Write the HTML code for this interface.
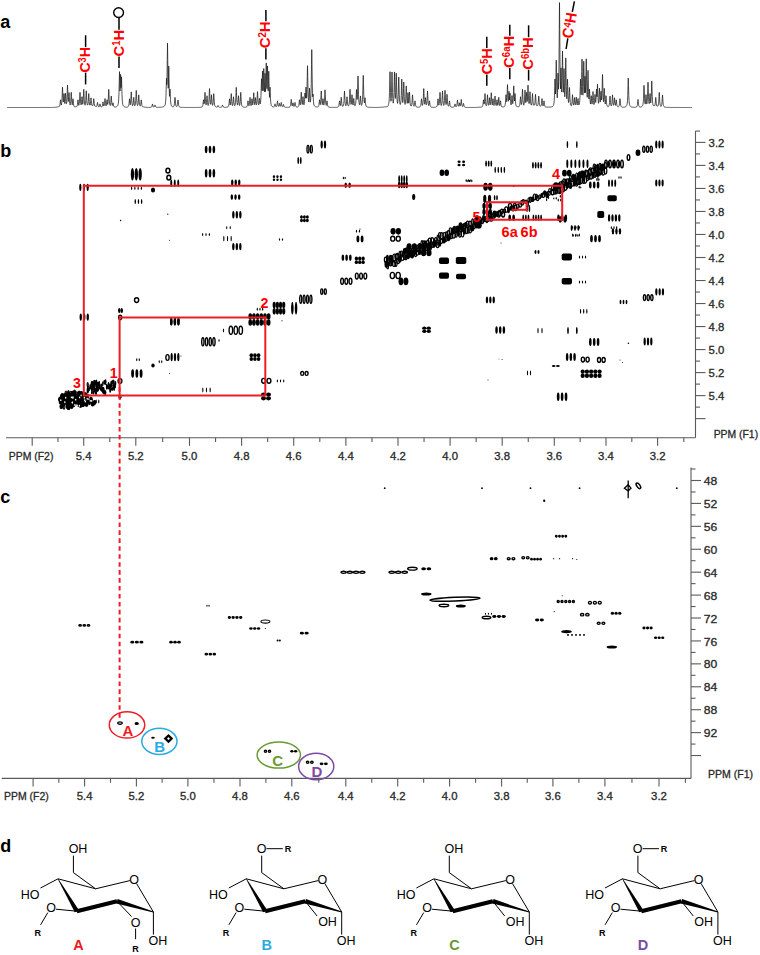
<!DOCTYPE html>
<html><head><meta charset="utf-8"><title>NMR figure</title>
<style>
html,body{margin:0;padding:0;background:#fff;}
body{width:760px;height:955px;overflow:hidden;}
svg{display:block;font-family:"Liberation Sans",sans-serif;}
</style></head>
<body>
<svg width="760" height="955" viewBox="0 0 760 955">
<rect width="760" height="955" fill="#fff"/>
<text x="0.3" y="27.9" font-size="18" font-weight="bold" fill="#000">a</text>
<text x="0.3" y="156.6" font-size="18" font-weight="bold" fill="#000">b</text>
<text x="0.3" y="502.9" font-size="18" font-weight="bold" fill="#000">c</text>
<text x="0.3" y="852.1" font-size="18" font-weight="bold" fill="#000">d</text>
<polyline points="7,107.5 7.25,107.5 7.5,107.5 7.75,107.5 8,107.5 8.25,107.5 8.5,107.5 8.75,107.5 9,107.5 9.25,107.5 9.5,107.5 9.75,107.5 10,107.5 10.25,107.5 10.5,107.5 10.75,107.5 11,107.5 11.25,107.5 11.5,107.5 11.75,107.5 12,107.5 12.25,107.5 12.5,107.5 12.75,107.5 13,107.5 13.25,107.5 13.5,107.5 13.75,107.5 14,107.5 14.25,107.5 14.5,107.5 14.75,107.5 15,107.5 15.25,107.5 15.5,107.5 15.75,107.5 16,107.5 16.25,107.5 16.5,107.5 16.75,107.5 17,107.5 17.25,107.5 17.5,107.5 17.75,107.5 18,107.5 18.25,107.5 18.5,107.5 18.75,107.5 19,107.5 19.25,107.49 19.5,107.49 19.75,107.49 20,107.49 20.25,107.49 20.5,107.49 20.75,107.49 21,107.49 21.25,107.49 21.5,107.49 21.75,107.49 22,107.49 22.25,107.49 22.5,107.49 22.75,107.49 23,107.49 23.25,107.49 23.5,107.49 23.75,107.49 24,107.49 24.25,107.49 24.5,107.49 24.75,107.49 25,107.49 25.25,107.49 25.5,107.49 25.75,107.49 26,107.49 26.25,107.49 26.5,107.49 26.75,107.49 27,107.49 27.25,107.49 27.5,107.49 27.75,107.49 28,107.49 28.25,107.49 28.5,107.49 28.75,107.49 29,107.49 29.25,107.49 29.5,107.49 29.75,107.49 30,107.49 30.25,107.49 30.5,107.49 30.75,107.49 31,107.49 31.25,107.49 31.5,107.49 31.75,107.49 32,107.49 32.25,107.49 32.5,107.49 32.75,107.49 33,107.49 33.25,107.49 33.5,107.49 33.75,107.49 34,107.49 34.25,107.49 34.5,107.49 34.75,107.49 35,107.49 35.25,107.49 35.5,107.49 35.75,107.49 36,107.49 36.25,107.49 36.5,107.49 36.75,107.49 37,107.49 37.25,107.49 37.5,107.49 37.75,107.49 38,107.49 38.25,107.49 38.5,107.49 38.75,107.49 39,107.49 39.25,107.49 39.5,107.49 39.75,107.49 40,107.49 40.25,107.49 40.5,107.49 40.75,107.49 41,107.49 41.25,107.48 41.5,107.48 41.75,107.48 42,107.48 42.25,107.48 42.5,107.48 42.75,107.48 43,107.48 43.25,107.48 43.5,107.48 43.75,107.48 44,107.48 44.25,107.48 44.5,107.48 44.75,107.48 45,107.48 45.25,107.48 45.5,107.48 45.75,107.48 46,107.48 46.25,107.48 46.5,107.48 46.75,107.48 47,107.47 47.25,107.47 47.5,107.47 47.75,107.47 48,107.47 48.25,107.47 48.5,107.47 48.75,107.47 49,107.47 49.25,107.47 49.5,107.47 49.75,107.46 50,107.46 50.25,107.46 50.5,107.46 50.75,107.46 51,107.46 51.25,107.46 51.5,107.45 51.75,107.45 52,107.45 52.25,107.45 52.5,107.44 52.75,107.43 53,107.42 53.25,107.41 53.5,107.4 53.75,107.38 54,107.37 54.25,107.35 54.5,107.33 54.75,107.31 55,107.29 55.25,107.26 55.5,107.24 55.75,107.21 56,107.18 56.25,107.14 56.5,107.1 56.75,107.06 57,107.02 57.25,106.98 57.5,106.93 57.75,106.88 58,106.82 58.25,106.77 58.5,106.71 58.75,106.64 59,106.58 59.25,106.51 59.5,106.27 59.75,105.58 60,104.25 60.25,101.79 60.5,99.8 60.75,101.72 61,104.09 61.25,105.1 61.5,104.22 61.75,102.48 62,98.99 62.25,92.48 62.5,87.22 62.75,92.39 63,98.78 63.25,102.09 63.5,101.29 63.75,97.02 64,93.53 64.25,97.05 64.5,101.36 64.75,103.5 65,101.28 65.25,96.9 65.5,93.34 65.75,96.94 66,101.36 66.25,103.69 66.5,103.7 66.75,101.85 67,98.05 67.25,90.92 67.5,85.15 67.75,90.86 68,97.91 68.25,101.57 68.5,100.85 68.75,96.3 69,92.59 69.25,96.43 69.5,101.16 69.75,103.68 70,104.92 70.25,104.87 70.5,103.61 70.75,101.03 71,96.18 71.25,92.27 71.5,96.19 71.75,101.04 72,103.61 72.25,104.84 72.5,103.65 72.75,100.96 73,98.78 73.25,101.04 73.5,103.82 73.75,105.32 74,106.09 74.25,106.51 74.5,106.66 74.75,106.69 75,106.71 75.25,106.73 75.5,106.74 75.75,106.75 76,106.75 76.25,106.75 76.5,106.75 76.75,106.62 77,106.25 77.25,105.58 77.5,104.25 77.75,101.8 78,99.82 78.25,101.75 78.5,104.14 78.75,105.39 79,104.98 79.25,103.7 79.5,101.1 79.75,96.23 80,92.3 80.25,96.21 80.5,101.06 80.75,103.63 81,104.88 81.25,104.62 81.5,102.83 81.75,99.44 82,96.69 82.25,99.4 82.5,102.74 82.75,104.29 83,102.84 83.25,99.76 83.5,93.96 83.75,89.27 84,93.99 84.25,99.82 84.5,102.95 84.75,104.51 85,105.26 85.25,104.73 85.5,103.31 85.75,100.45 86,95.12 86.25,90.81 86.5,95.13 86.75,100.47 87,103.34 87.25,104.78 87.5,105.01 87.75,105 88,103.99 88.25,101.61 88.5,97.16 88.75,93.57 89,97.17 89.25,101.63 89.5,104.02 89.75,105.09 90,105.12 90.25,105 90.5,103.37 90.75,100.31 91,97.84 91.25,100.34 91.5,103.43 91.75,105.09 92,105.45 92.25,105.5 92.5,105.55 92.75,105.61 93,105.28 93.25,103.77 93.5,100.94 93.75,98.65 94,100.95 94.25,103.79 94.5,105.33 94.75,106.08 95,106.13 95.25,106.19 95.5,106.25 95.75,106.31 96,106.37 96.25,106.42 96.5,106.48 96.75,106.22 97,105.35 97.25,103.73 97.5,102.42 97.75,103.73 98,105.35 98.25,106.22 98.5,106.65 98.75,106.88 99,106.86 99.25,106.56 99.5,105.96 99.75,104.82 100,103.91 100.25,104.83 100.5,105.96 100.75,106.57 101,106.87 101.25,107.03 101.5,106.99 101.75,106.84 102,106.57 102.25,106.08 102.5,105.12 102.75,103.32 103,101.87 103.25,103.29 103.5,105.05 103.75,105.97 104,105.98 104.25,105.24 104.5,103.72 104.75,100.89 105,98.59 105.25,100.87 105.5,103.69 105.75,105.18 106,105.9 106.25,105.44 106.5,104.15 106.75,101.72 107,99.74 107.25,101.66 107.5,104.02 107.75,104.44 108,102.94 108.25,99.84 108.5,94.03 108.75,89.33 109,94.04 109.25,99.88 109.5,103.02 109.75,104.59 110,105.42 110.25,105.5 110.5,104.58 110.75,102.64 111,99.01 111.25,96.08 111.5,99.02 111.75,102.66 112,104.6 112.25,105.55 112.5,105.37 112.75,103.96 113,102.81 113.25,104.01 113.5,105.48 113.75,106.28 114,106.68 114.25,106.85 114.5,106.94 114.75,107.01 115,107.07 115.25,107.04 115.5,107 115.75,106.95 116,106.88 116.25,106.8 116.5,106.7 116.75,106.56 117,106.39 117.25,106.16 117.5,105.84 117.75,105.4 118,104.73 118.25,103.69 118.5,101.94 118.75,98.76 119,92.54 119.25,81.03 119.5,71.64 119.75,80.4 120,91.02 120.25,86 120.5,74.32 120.75,76.17 121,87.69 121.25,83.92 121.5,76.85 121.75,84.92 122,94.71 122.25,100 122.5,102.71 122.75,104.2 123,105.1 123.25,105.67 123.5,106.06 123.75,106.33 124,106.53 124.25,106.68 124.5,106.8 124.75,106.89 125,106.96 125.25,107.02 125.5,107.07 125.75,107.11 126,107.14 126.25,107.16 126.5,107.18 126.75,107.19 127,107.15 127.25,107.1 127.5,107.03 127.75,106.92 128,106.77 128.25,106.52 128.5,106.1 128.75,105.33 129,103.83 129.25,101.05 129.5,98.8 129.75,100.98 130,103.67 130.25,104.79 130.5,103.53 130.75,100.87 131,95.87 131.25,91.83 131.5,95.89 131.75,100.92 132,103.62 132.25,104.97 132.5,105.68 132.75,105.73 133,104.89 133.25,103.16 133.5,99.92 133.75,97.31 134,99.92 134.25,103.16 134.5,104.88 134.75,105.73 135,105.54 135.25,104.76 135.5,103.27 135.75,100.31 136,94.8 136.25,90.36 136.5,94.8 136.75,100.31 137,103.27 137.25,104.75 137.5,105.51 137.75,105.38 138,104.31 138.25,102.16 138.5,98.12 138.75,94.86 139,98.14 139.25,102.2 139.5,104.38 139.75,105.47 140,105.94 140.25,106.01 140.5,105.55 140.75,104.27 141,101.85 141.25,99.9 141.5,101.88 141.75,104.32 142,105.64 142.25,106.31 142.5,106.64 142.75,106.7 143,106.76 143.25,106.82 143.5,106.88 143.75,106.94 144,106.99 144.25,107.04 144.5,107.08 144.75,107.12 145,107.16 145.25,107.2 145.5,107.23 145.75,107.26 146,107.29 146.25,107.31 146.5,107.34 146.75,107.36 147,107.38 147.25,107.39 147.5,107.41 147.75,107.42 148,107.43 148.25,107.43 148.5,107.43 148.75,107.42 149,107.42 149.25,107.41 149.5,107.4 149.75,107.39 150,107.37 150.25,107.35 150.5,107.32 150.75,107.28 151,107.21 151.25,107.11 151.5,106.94 151.75,106.63 152,106.01 152.25,104.88 152.5,103.96 152.75,104.87 153,106 153.25,106.61 153.5,106.91 153.75,107.07 154,107.05 154.25,106.84 154.5,106.41 154.75,105.6 155,104.95 155.25,105.6 155.5,106.42 155.75,106.86 156,107.08 156.25,107.2 156.5,107.27 156.75,107.31 157,107.34 157.25,107.35 157.5,107.34 157.75,107.34 158,107.33 158.25,107.33 158.5,107.32 158.75,107.31 159,107.3 159.25,107.29 159.5,107.28 159.75,107.27 160,107.25 160.25,107.24 160.5,107.22 160.75,107.2 161,107.18 161.25,107.15 161.5,107.12 161.75,107.09 162,107.06 162.25,107.01 162.5,106.97 162.75,106.91 163,106.84 163.25,106.76 163.5,106.67 163.75,106.56 164,106.42 164.25,106.25 164.5,106.03 164.75,105.69 165,105.14 165.25,104.27 165.5,102.84 165.75,100.27 166,95.26 166.25,86.02 166.5,78.33 166.75,84.63 167,79.34 167.25,59.49 167.5,43.19 167.75,59.56 168,79.58 168.25,88.31 168.5,76.17 168.75,66.12 169,76.75 169.25,89.7 169.5,96.37 169.75,93.27 170,89.05 170.25,93.85 170.5,99.68 170.75,102.85 171,104.48 171.25,105.38 171.5,105.92 171.75,106.28 172,106.51 172.25,106.68 172.5,106.79 172.75,106.86 173,106.88 173.25,106.78 173.5,106.61 173.75,106.34 174,105.86 174.25,104.98 174.5,103.24 174.75,100 175,97.39 175.25,100 175.5,103.25 175.75,105 176,105.88 176.25,106.36 176.5,106.63 176.75,106.6 177,106.25 177.25,105.6 177.5,104.3 177.75,101.88 178,99.92 178.25,101.89 178.5,104.33 178.75,105.65 179,106.32 179.25,106.68 179.5,106.9 179.75,107.04 180,107.14 180.25,107.2 180.5,107.25 180.75,107.29 181,107.32 181.25,107.34 181.5,107.36 181.75,107.37 182,107.38 182.25,107.39 182.5,107.4 182.75,107.41 183,107.42 183.25,107.42 183.5,107.43 183.75,107.43 184,107.43 184.25,107.43 184.5,107.44 184.75,107.44 185,107.44 185.25,107.44 185.5,107.44 185.75,107.44 186,107.44 186.25,107.45 186.5,107.45 186.75,107.45 187,107.45 187.25,107.45 187.5,107.45 187.75,107.45 188,107.45 188.25,107.45 188.5,107.45 188.75,107.46 189,107.46 189.25,107.46 189.5,107.46 189.75,107.46 190,107.46 190.25,107.46 190.5,107.46 190.75,107.46 191,107.46 191.25,107.46 191.5,107.46 191.75,107.46 192,107.46 192.25,107.46 192.5,107.46 192.75,107.46 193,107.46 193.25,107.46 193.5,107.46 193.75,107.46 194,107.46 194.25,107.46 194.5,107.45 194.75,107.45 195,107.45 195.25,107.45 195.5,107.45 195.75,107.45 196,107.44 196.25,107.44 196.5,107.44 196.75,107.44 197,107.43 197.25,107.43 197.5,107.43 197.75,107.42 198,107.42 198.25,107.41 198.5,107.41 198.75,107.4 199,107.39 199.25,107.38 199.5,107.37 199.75,107.36 200,107.35 200.25,107.33 200.5,107.31 200.75,107.28 201,107.24 201.25,107.19 201.5,107.12 201.75,107.02 202,106.87 202.25,106.65 202.5,106.27 202.75,105.59 203,104.25 203.25,101.79 203.5,99.78 203.75,101.67 204,103.99 204.25,103.57 204.5,101.04 204.75,96.21 205,92.3 205.25,96.22 205.5,101.06 205.75,103.64 206,104.89 206.25,104.42 206.5,102.47 206.75,98.77 207,95.78 207.25,98.79 207.5,102.51 207.75,104.49 208,105.47 208.25,105.32 208.5,104.46 208.75,102.82 209,99.56 209.25,93.48 209.5,88.57 209.75,93.46 210,99.51 210.25,102.74 210.5,104.32 210.75,104.14 211,102.03 211.25,98.02 211.5,94.77 211.75,98.05 212,102.1 212.25,104.27 212.5,105.33 212.75,105.17 213,104.01 213.25,101.64 213.5,97.21 213.75,93.63 214,97.24 214.25,101.72 214.5,104.13 214.75,105.36 215,106.03 215.25,106.43 215.5,106.68 215.75,106.85 216,106.97 216.25,107.06 216.5,107.12 216.75,107.16 217,107.12 217.25,106.95 217.5,106.6 217.75,105.96 218,105.44 218.25,105.96 218.5,106.62 218.75,106.97 219,107.15 219.25,107.24 219.5,107.3 219.75,107.34 220,107.36 220.25,107.36 220.5,107.34 220.75,107.32 221,107.27 221.25,107.2 221.5,107.08 221.75,106.86 222,106.42 222.25,105.61 222.5,104.96 222.75,105.61 223,106.42 223.25,106.86 223.5,107.08 223.75,107.2 224,107.27 224.25,107.32 224.5,107.35 224.75,107.36 225,107.37 225.25,107.37 225.5,107.36 225.75,107.34 226,107.33 226.25,107.31 226.5,107.28 226.75,107.25 227,107.21 227.25,107.15 227.5,107.07 227.75,106.97 228,106.8 228.25,106.55 228.5,106.13 228.75,105.37 229,103.86 229.25,101.08 229.5,98.83 229.75,101.01 230,103.71 230.25,105.07 230.5,103.95 230.75,101.6 231,97.16 231.25,93.58 231.5,97.17 231.75,101.63 232,104.01 232.25,105.18 232.5,105.62 232.75,104.74 233,102.94 233.25,99.55 233.5,96.81 233.75,99.55 234,102.95 234.25,104.77 234.5,105.67 234.75,105.79 235,105.27 235.25,104.32 235.5,102.56 235.75,99.07 236,92.58 236.25,87.34 236.5,92.57 236.75,99.04 237,102.51 237.25,104.24 237.5,105.12 237.75,104.44 238,102.48 238.25,98.77 238.5,95.78 238.75,98.78 239,102.51 239.25,104.49 239.5,105.45 239.75,104.99 240,103.71 240.25,101.12 240.5,96.28 240.75,92.37 241,96.31 241.25,101.19 241.5,103.82 241.75,105.16 242,105.89 242.25,106.33 242.5,106.6 242.75,106.79 243,106.92 243.25,107.01 243.5,107.08 243.75,107.13 244,107.18 244.25,107.21 244.5,107.23 244.75,107.24 245,107.23 245.25,107.21 245.5,107.19 245.75,107.16 246,107.13 246.25,107.05 246.5,106.93 246.75,106.74 247,106.42 247.25,105.84 247.5,104.69 247.75,102.57 248,100.85 248.25,102.53 248.5,104.61 248.75,105.7 249,105.75 249.25,104.9 249.5,103.17 249.75,99.93 250,97.31 250.25,99.91 250.5,103.13 250.75,104.84 251,105.66 251.25,105.16 251.5,103.7 251.75,100.95 252,98.71 252.25,100.9 252.5,103.6 252.75,104.86 253,103.68 253.25,101.2 253.5,96.51 253.75,92.72 254,96.5 254.25,101.17 254.5,103.64 254.75,104.71 255,103.14 255.25,100.11 255.5,97.64 255.75,100.12 256,103.17 256.25,104.77 256.5,104.74 256.75,103.43 257,100.75 257.25,95.73 257.5,91.67 257.75,95.72 258,100.72 258.25,103.38 258.5,104.68 258.75,104.91 259,103.45 259.25,100.69 259.5,98.44 259.75,100.6 260,103.27 260.25,103.95 260.5,102.67 260.75,100.21 261,95.31 261.25,86.22 261.5,78.74 261.75,85.41 262,90.7 262.25,79.94 262.5,70.95 262.75,80 263,90.92 263.25,89.97 263.5,78.19 263.75,68.49 264,78.18 264.25,89.97 264.5,91.84 264.75,81.69 265,73.29 265.25,81.62 265.5,91.66 265.75,87.69 266,74.1 266.25,62.93 266.5,74.03 266.75,87.53 267,88.67 267.25,76.21 267.5,65.94 267.75,76.36 268,89 268.25,90.96 268.5,80.15 268.75,71.25 269,80.48 269.25,91.73 269.5,97.44 269.75,91.9 270,87.11 270.25,92.4 270.5,98.87 270.75,102.37 271,104.17 271.25,105.17 271.5,105.77 271.75,106.15 272,106.42 272.25,106.6 272.5,106.74 272.75,106.84 273,106.92 273.25,106.98 273.5,107.02 273.75,106.96 274,106.8 274.25,106.49 274.5,105.89 274.75,104.76 275,103.84 275.25,104.76 275.5,105.89 275.75,106.5 276,106.79 276.25,106.68 276.5,106.38 276.75,105.81 277,104.68 277.25,102.57 277.5,100.87 277.75,102.57 278,104.67 278.25,105.79 278.5,106.34 278.75,106.35 279,105.68 279.25,104.39 279.5,103.35 279.75,104.39 280,105.68 280.25,106.34 280.5,106.13 280.75,105.29 281,103.68 281.25,102.39 281.5,103.7 281.75,105.33 282,106.2 282.25,106.63 282.5,106.86 282.75,106.66 283,106.16 283.25,105.19 283.5,104.42 283.75,105.21 284,106.19 284.25,106.71 284.5,106.98 284.75,107.13 285,107.22 285.25,107.27 285.5,107.31 285.75,107.34 286,107.36 286.25,107.37 286.5,107.38 286.75,107.37 287,107.37 287.25,107.36 287.5,107.35 287.75,107.33 288,107.31 288.25,107.29 288.5,107.26 288.75,107.22 289,107.17 289.25,107.1 289.5,107.01 289.75,106.86 290,106.63 290.25,106.23 290.5,105.52 290.75,104.11 291,101.51 291.25,99.41 291.5,101.49 291.75,104.06 292,105.43 292.25,106.07 292.5,105.45 292.75,104.01 293,102.85 293.25,104.03 293.5,105.49 293.75,106.26 294,106.56 294.25,106.16 294.5,105.3 294.75,103.69 295,102.39 295.25,103.7 295.5,105.33 295.75,106.2 296,106.65 296.25,106.89 296.5,107.03 296.75,107.11 297,107.16 297.25,107.12 297.5,107.06 297.75,106.97 298,106.83 298.25,106.6 298.5,106.23 298.75,105.55 299,104.22 299.25,101.76 299.5,99.77 299.75,101.68 300,104.05 300.25,104.85 300.5,103.61 300.75,101.02 301,96.16 301.25,92.23 301.5,96.13 301.75,100.95 302,103.5 302.25,104.46 302.5,102.71 302.75,99.35 303,96.61 303.25,99.34 303.5,102.71 303.75,104.47 304,104.86 304.25,103.68 304.5,101.25 304.75,96.71 305,92.96 305.25,96.27 305.5,98.15 305.75,92.11 306,87.08 306.25,92.1 306.5,98.18 306.75,96.65 307,89.7 307.25,76.45 307.5,65.72 307.75,76.53 308,89.91 308.25,97.06 308.5,100.59 308.75,102.08 309,98.96 309.25,92.95 309.5,88.08 309.75,92.96 310,98.99 310.25,102.14 310.5,101 310.75,98.36 311,93.34 311.25,83.32 311.5,64.66 311.75,49.6 312,64.58 312.25,83.1 312.5,92.85 312.75,96.84 313,94 313.25,97.52 313.5,101.75 313.75,104.04 314,105.18 314.25,105.63 314.5,105.96 314.75,106.2 315,106.38 315.25,106.53 315.5,106.64 315.75,106.74 316,106.81 316.25,106.88 316.5,106.93 316.75,106.97 317,107 317.25,107.03 317.5,107.03 317.75,106.94 318,106.81 318.25,106.59 318.5,106.22 318.75,105.54 319,104.21 319.25,101.76 319.5,99.77 319.75,101.68 320,104.04 320.25,104.68 320.5,103.34 320.75,100.54 321,95.28 321.25,91.03 321.5,95.27 321.75,100.51 322,103.3 322.25,104.62 322.5,103.59 322.75,100.89 323,98.69 323.25,100.91 323.5,103.65 323.75,105.07 324,104.56 324.25,103.08 324.5,100.06 324.75,94.4 325,89.83 325.25,94.42 325.5,100.09 325.75,103.14 326,104.65 326.25,105.42 326.5,104.55 326.75,102.49 327,100.83 327.25,102.55 327.5,104.68 327.75,105.84 328,106.42 328.25,106.75 328.5,106.94 328.75,107.07 329,107.15 329.25,107.21 329.5,107.26 329.75,107.29 330,107.31 330.25,107.33 330.5,107.34 330.75,107.35 331,107.36 331.25,107.37 331.5,107.38 331.75,107.39 332,107.39 332.25,107.4 332.5,107.4 332.75,107.4 333,107.41 333.25,107.41 333.5,107.41 333.75,107.41 334,107.42 334.25,107.41 334.5,107.41 334.75,107.4 335,107.4 335.25,107.39 335.5,107.38 335.75,107.37 336,107.36 336.25,107.34 336.5,107.32 336.75,107.3 337,107.27 337.25,107.22 337.5,107.16 337.75,107.08 338,106.96 338.25,106.77 338.5,106.44 338.75,105.86 339,104.71 339.25,102.59 339.5,100.86 339.75,102.54 340,104.6 340.25,105.66 340.5,104.9 340.75,103.19 341,99.97 341.25,97.36 341.5,99.98 341.75,103.23 342,104.97 342.25,105.85 342.5,106.31 342.75,106.44 343,106.17 343.25,105.72 343.5,104.94 343.75,103.5 344,100.66 344.25,95.38 344.5,91.13 344.75,95.37 345,100.63 345.25,103.46 345.5,104.87 345.75,105.61 346,105.66 346.25,104.77 346.5,102.96 346.75,99.56 347,96.82 347.25,99.57 347.5,102.97 347.75,104.8 348,105.71 348.25,105.89 348.5,105.85 348.75,105.48 349,104.62 349.25,103.03 349.5,99.88 349.75,94.03 350,89.31 350.25,94 350.5,99.81 350.75,102.9 351,104.4 351.25,104.12 351.5,102 351.75,97.98 352,94.72 352.25,97.99 352.5,102.02 352.75,104.15 353,104.96 353.25,103.52 353.5,100.73 353.75,98.47 354,100.76 354.25,103.6 354.5,105.11 354.75,105.72 355,105.76 355.25,105.43 355.5,104.58 355.75,103.02 356,99.93 356.25,94.2 356.5,89.54 356.75,93.99 357,99.44 357.25,99.3 357.5,94.06 357.75,84.04 358,75.93 358.25,84.14 358.5,94.3 358.75,99.77 359,102.53 359.25,104 359.5,104.82 359.75,104.41 360,102.49 360.25,98.87 360.5,95.94 360.75,98.89 361,102.53 361.25,104.47 361.5,105.37 361.75,104.88 362,104.01 362.25,102.49 362.5,99.67 362.75,94.08 363,83.7 363.25,75.32 363.5,83.68 363.75,94.03 364,99.57 364.25,102.29 364.5,103.02 364.75,100.07 365,97.68 365.25,100.23 365.5,103.35 365.75,105.05 366,105.92 366.25,106.4 366.5,106.69 366.75,106.87 367,107 367.25,107.06 367.5,107.11 367.75,107.15 368,107.19 368.25,107.22 368.5,107.24 368.75,107.26 369,107.28 369.25,107.3 369.5,107.31 369.75,107.32 370,107.33 370.25,107.34 370.5,107.35 370.75,107.36 371,107.37 371.25,107.37 371.5,107.38 371.75,107.39 372,107.39 372.25,107.4 372.5,107.4 372.75,107.4 373,107.41 373.25,107.41 373.5,107.41 373.75,107.42 374,107.42 374.25,107.42 374.5,107.42 374.75,107.42 375,107.43 375.25,107.43 375.5,107.43 375.75,107.43 376,107.43 376.25,107.43 376.5,107.43 376.75,107.43 377,107.42 377.25,107.42 377.5,107.41 377.75,107.4 378,107.4 378.25,107.39 378.5,107.38 378.75,107.37 379,107.36 379.25,107.35 379.5,107.34 379.75,107.33 380,107.31 380.25,107.3 380.5,107.29 380.75,107.27 381,107.26 381.25,107.24 381.5,107.22 381.75,107.2 382,107.18 382.25,107.16 382.5,107.14 382.75,107.12 383,107.1 383.25,107.07 383.5,107.05 383.75,107.02 384,106.99 384.25,106.96 384.5,106.93 384.75,106.9 385,106.87 385.25,106.84 385.5,106.8 385.75,106.77 386,106.73 386.25,106.69 386.5,106.65 386.75,106.61 387,106.57 387.25,106.53 387.5,106.42 387.75,106.19 388,105.88 388.25,105.44 388.5,104.77 388.75,103.74 389,102 389.25,98.82 389.5,92.58 389.75,81.02 390,71.68 390.25,80.89 390.5,92.31 390.75,98.36 391,101.24 391.25,98.44 391.5,92.45 391.75,81.16 392,72.04 392.25,81.2 392.5,92.54 392.75,98.61 393,101.63 393.25,103.17 393.5,101.62 393.75,98.59 394,92.5 394.25,81.14 394.5,71.95 394.75,81.04 395,92.27 395.25,98.15 395.5,98.43 395.75,92.77 396,81.96 396.25,73.21 396.5,82.08 396.75,93.04 397,98.93 397.25,101.86 397.5,103.39 397.75,102.41 398,99.85 398.25,94.66 398.5,84.96 398.75,77.14 399,85 399.25,94.74 399.5,99.98 399.75,102.62 400,104.03 400.25,104.5 400.5,104.22 400.75,102.91 401,100.45 401.25,95.57 401.5,86.47 401.75,79.13 402,86.43 402.25,95.46 402.5,100.25 402.75,102.56 403,100.92 403.25,96.67 403.5,88.62 403.75,82.12 404,88.67 404.25,96.79 404.5,101.14 404.75,103.31 405,104.44 405.25,103.84 405.5,102.02 405.75,98.34 406,91.46 406.25,85.9 406.5,91.43 406.75,98.28 407,101.89 407.25,103.35 407.5,100.96 407.75,96.32 408,92.55 408.25,96.32 408.5,100.95 408.75,103.21 409,100.79 409.25,96.04 409.5,92.18 409.75,96.15 410,101.04 410.25,103.68 410.5,105.01 410.75,105.73 411,106.14 411.25,105.99 411.5,105.41 411.75,104.33 412,102.16 412.25,98.11 412.5,94.85 412.75,98.12 413,102.18 413.25,104.36 413.5,105.46 413.75,106.04 414,106.3 414.25,105.76 414.5,104.65 414.75,102.56 415,100.87 415.25,102.59 415.5,104.7 415.75,105.85 416,106.43 416.25,106.75 416.5,106.94 416.75,107.06 417,107.09 417.25,107.11 417.5,107.13 417.75,107.14 418,107.16 418.25,107.17 418.5,107.18 418.75,107.18 419,107.18 419.25,107.13 419.5,107.05 419.75,106.95 420,106.79 420.25,106.54 420.5,106.12 420.75,105.36 421,103.86 421.25,101.08 421.5,98.84 421.75,101.04 422,103.76 422.25,105.19 422.5,105.33 422.75,104.47 423,102.84 423.25,99.57 423.5,93.48 423.75,88.56 424,93.45 424.25,99.49 424.5,102.7 424.75,104.24 425,103.16 425.25,100.15 425.5,97.69 425.75,100.18 426,103.25 426.25,104.85 426.5,104.73 426.75,103.36 427,100.57 427.25,95.32 427.5,91.08 427.75,95.34 428,100.61 428.25,103.43 428.5,104.84 428.75,105.54 429,104.56 429.25,102.5 429.5,100.83 429.75,102.56 430,104.69 430.25,105.84 430.5,106.42 430.75,106.75 431,106.94 431.25,107.06 431.5,107.15 431.75,107.21 432,107.25 432.25,107.28 432.5,107.31 432.75,107.33 433,107.34 433.25,107.35 433.5,107.35 433.75,107.35 434,107.34 434.25,107.33 434.5,107.31 434.75,107.3 435,107.27 435.25,107.24 435.5,107.2 435.75,107.14 436,107.07 436.25,106.96 436.5,106.8 436.75,106.55 437,106.13 437.25,105.37 437.5,103.87 437.75,101.09 438,98.85 438.25,101.04 438.5,103.75 438.75,105.17 439,104.98 439.25,103.71 439.5,101.11 439.75,96.25 440,92.33 440.25,96.25 440.5,101.1 440.75,103.7 441,104.99 441.25,105.54 441.5,104.81 441.75,103.41 442,100.58 442.25,95.32 442.5,91.07 442.75,95.31 443,100.57 443.25,103.39 443.5,104.79 443.75,105.44 444,104.68 444.25,103.21 444.5,100.26 444.75,94.75 445,90.3 445.25,94.74 445.5,100.23 445.75,103.16 446,104.58 446.25,104.06 446.5,101.86 446.75,97.69 447,94.32 447.25,97.73 447.5,101.97 447.75,104.24 448,105.39 448.25,106 448.5,106.31 448.75,105.77 449,104.66 449.25,102.57 449.5,100.89 449.75,102.6 450,104.72 450.25,105.86 450.5,106.45 450.75,106.77 451,106.96 451.25,107.04 451.5,107.08 451.75,107.12 452,107.16 452.25,107.2 452.5,107.23 452.75,107.26 453,107.29 453.25,107.25 453.5,107.18 453.75,107.08 454,106.91 454.25,106.6 454.5,105.98 454.75,104.84 455,103.92 455.25,104.83 455.5,105.96 455.75,106.56 456,106.83 456.25,106.64 456.5,106.29 456.75,105.63 457,104.32 457.25,101.88 457.5,99.92 457.75,101.87 458,104.29 458.25,105.58 458.5,106.21 458.75,106.25 459,105.48 459.25,104.03 459.5,102.86 459.75,104.02 460,105.45 460.25,106.08 460.5,105.43 460.75,104.07 461,101.49 461.25,99.41 461.5,101.51 461.75,104.1 462,105.5 462.25,106.2 462.5,106.56 462.75,106.42 463,105.74 463.25,104.46 463.5,103.43 463.75,104.48 464,105.79 464.25,106.49 464.5,106.85 464.75,107.05 465,107.17 465.25,107.24 465.5,107.29 465.75,107.33 466,107.36 466.25,107.38 466.5,107.39 466.75,107.4 467,107.41 467.25,107.42 467.5,107.43 467.75,107.43 468,107.44 468.25,107.44 468.5,107.45 468.75,107.45 469,107.45 469.25,107.45 469.5,107.45 469.75,107.46 470,107.46 470.25,107.46 470.5,107.46 470.75,107.46 471,107.46 471.25,107.46 471.5,107.46 471.75,107.46 472,107.46 472.25,107.46 472.5,107.46 472.75,107.46 473,107.46 473.25,107.46 473.5,107.46 473.75,107.46 474,107.46 474.25,107.45 474.5,107.45 474.75,107.45 475,107.44 475.25,107.44 475.5,107.43 475.75,107.42 476,107.42 476.25,107.41 476.5,107.4 476.75,107.39 477,107.38 477.25,107.36 477.5,107.35 477.75,107.34 478,107.32 478.25,107.31 478.5,107.29 478.75,107.27 479,107.25 479.25,107.23 479.5,107.21 479.75,107.19 480,107.16 480.25,107.14 480.5,107.11 480.75,107.08 481,107.05 481.25,107.02 481.5,106.99 481.75,106.95 482,106.88 482.25,106.65 482.5,106.27 482.75,105.59 483,104.26 483.25,101.8 483.5,99.79 483.75,101.69 484,104.02 484.25,103.88 484.5,101.56 484.75,97.15 485,93.57 485.25,97.17 485.5,101.63 485.75,104.02 486,105.21 486.25,105.82 486.5,105.38 486.75,104.3 487,102.13 487.25,98.08 487.5,94.81 487.75,98.07 488,102.1 488.25,104.25 488.5,105.28 488.75,104.91 489,103.28 489.25,100.22 489.5,97.73 489.75,100.19 490,103.22 490.25,104.78 490.5,103.69 490.75,101.22 491,96.55 491.25,92.76 491.5,96.55 491.75,101.23 492,103.71 492.25,104.89 492.5,103.63 492.75,100.92 493,98.73 493.25,100.96 493.5,103.7 493.75,105.16 494,105.49 494.25,104.55 494.5,102.62 494.75,98.99 495,96.05 495.25,98.99 495.5,102.63 495.75,104.57 496,105.52 496.25,105.41 496.5,104.14 496.75,101.72 497,99.77 497.25,101.71 497.5,104.12 497.75,105.36 498,104.82 498.25,103.13 498.5,99.91 498.75,97.3 499,99.92 499.25,103.15 499.5,104.86 499.75,105.62 500,104.56 500.25,102.5 500.5,100.82 500.75,102.54 501,104.67 501.25,105.81 501.5,106.4 501.75,106.71 502,106.82 502.25,106.83 502.5,106.85 502.75,106.85 503,106.86 503.25,106.85 503.5,106.84 503.75,106.83 504,106.81 504.25,106.67 504.5,106.43 504.75,106.06 505,105.43 505.25,104.3 505.5,102.07 505.75,97.97 506,94.63 506.25,97.79 506.5,101.67 506.75,101.5 507,97.71 507.25,90.45 507.5,84.57 507.75,90.41 508,97.6 508.25,101.32 508.5,100.29 508.75,95.37 509,91.31 509.25,95.24 509.5,99.94 509.75,96.52 510,93.13 510.25,96.83 510.5,101.33 510.75,103.73 511,104.89 511.25,104.27 511.5,102.31 511.75,98.6 512,95.58 512.25,98.55 512.5,102.21 512.75,103.69 513,101.95 513.25,98.3 513.5,91.42 513.75,85.84 514,91.33 514.25,98.07 514.5,101.01 514.75,96.92 515,93.55 515.25,97.18 515.5,101.63 515.75,104.03 516,105.26 516.25,105.94 516.5,106.34 516.75,106.47 517,106.52 517.25,106.56 517.5,106.6 517.75,106.63 518,106.65 518.25,106.67 518.5,106.68 518.75,106.69 519,106.58 519.25,106.28 519.5,105.77 519.75,104.82 520,102.98 520.25,99.55 520.5,96.78 520.75,99.49 521,102.85 521.25,104.6 521.5,104.44 521.75,102.91 522,99.8 522.25,93.97 522.5,89.26 522.75,93.97 523,99.79 523.25,102.91 523.5,104.46 523.75,105.25 524,104.58 524.25,103.1 524.5,100.14 524.75,94.61 525,90.13 525.25,94.51 525.5,99.92 525.75,102.69 526,100.86 526.25,96.24 526.5,92.46 526.75,96.2 527,100.77 527.25,101.51 527.5,97.86 527.75,90.82 528,85.12 528.25,90.89 528.5,98.02 528.75,101.82 529,103.68 529.25,103.3 529.5,100.69 529.75,95.72 530,91.7 530.25,95.77 530.5,100.81 530.75,103.52 531,104.87 531.25,105.01 531.5,105.01 531.75,103.96 532,101.58 532.25,97.14 532.5,93.55 532.75,97.16 533,101.63 533.25,104.03 533.5,105.05 533.75,105.06 534,105.08 534.25,105.1 534.5,105.13 534.75,104.23 535,101.96 535.25,97.75 535.5,94.36 535.75,97.76 536,101.98 536.25,104.25 536.5,105.39 536.75,105.43 537,105.47 537.25,105.51 537.5,105.55 537.75,105.6 538,104.67 538.25,102.71 538.5,99.07 538.75,96.13 539,99.07 539.25,102.72 539.5,104.69 539.75,105.68 540,106.03 540.25,106.08 540.5,106.12 540.75,106.17 541,106.04 541.25,105.27 541.5,103.74 541.75,100.9 542,98.61 542.25,100.89 542.5,103.72 542.75,105.22 543,105.95 543.25,105.73 543.5,104.63 543.75,102.54 544,100.86 544.25,102.57 544.5,104.69 544.75,105.83 545,106.41 545.25,106.73 545.5,106.92 545.75,106.95 546,106.98 546.25,107 546.5,107.02 546.75,107.04 547,107.06 547.25,107.08 547.5,107.09 547.75,107.1 548,107.11 548.25,107.11 548.5,107.12 548.75,107.12 549,107.11 549.25,107.11 549.5,107.09 549.75,107.08 550,107.06 550.25,107.04 550.5,107.02 550.75,106.99 551,106.95 551.25,106.91 551.5,106.87 551.75,106.81 552,106.76 552.25,106.65 552.5,106.5 552.75,106.31 553,106.05 553.25,105.68 553.5,105.14 553.75,104.3 554,102.91 554.25,100.39 554.5,95.47 554.75,86.38 555,78.96 555.25,85.78 555.5,94.04 555.75,86.9 556,72.17 556.25,60.16 556.5,72.24 556.75,87.12 557,94.94 557.25,97.84 557.5,92.36 557.75,81.82 558,73.14 558.25,81.26 558.5,89.29 558.75,80.93 559,63.18 559.25,29.67 559.5,2.55 559.75,29.6 560,63.04 560.25,80.68 560.5,88.87 560.75,77.39 561,67.88 561.25,77.73 561.5,89.68 561.75,92.06 562,82.98 562.25,65.39 562.5,51.1 562.75,65.46 563,83.12 563.25,92.29 563.5,90.02 563.75,78.23 564,68.59 564.25,78.44 564.5,90.52 564.75,96.8 565,94.42 565.25,86.19 565.5,70.53 565.75,57.85 566,70.62 566.25,86.4 566.5,94.77 566.75,98.77 567,94.96 567.25,86.25 567.5,79.19 567.75,86.46 568,95.41 568.25,100.19 568.5,102.54 568.75,102.06 569,98.79 569.25,92.55 569.5,87.52 569.75,92.66 570,99.02 570.25,102.45 570.5,104.19 570.75,105.13 571,105.67 571.25,105.81 571.5,105.24 571.75,104.16 572,101.99 572.25,97.94 572.5,94.67 572.75,97.93 573,101.97 573.25,104.12 573.5,105.16 573.75,104.79 574,103.17 574.25,100.11 574.5,97.63 574.75,100.1 575,103.15 575.25,104.74 575.5,104.63 575.75,102.94 576,99.72 576.25,97.11 576.5,99.72 576.75,102.93 577,104.62 577.25,104.93 577.5,103.51 577.75,100.77 578,98.54 578.25,100.75 578.5,103.47 578.75,104.9 579,104.94 579.25,104.18 579.5,102.85 579.75,100.38 580,95.51 580.25,86.49 580.5,79.15 580.75,86.12 581,94.68 581.25,94.76 581.5,86.76 581.75,71.47 582,59.06 582.25,71.41 582.5,86.66 582.75,94.64 583,95.14 583.25,87.56 583.5,73.06 583.75,61.26 584,72.86 584.25,87.08 584.5,92.89 584.75,83.8 585,76.22 585.25,83.79 585.5,92.84 585.75,86.1 586,71.09 586.25,58.86 586.5,71.34 586.75,86.71 587,94.82 587.25,97.29 587.5,91.31 587.75,79.75 588,70.37 588.25,79.88 588.5,91.59 588.75,97.75 589,99 589.25,93.6 589.5,89.18 589.75,93.85 590,99.56 590.25,102.59 590.5,103.98 590.75,102.15 591,98.58 591.25,95.68 591.5,98.62 591.75,102.24 592,104.12 592.25,103.21 592.5,100.58 592.75,95.6 593,91.56 593.25,95.62 593.5,100.63 593.75,103.29 594,104.57 594.25,103.94 594.5,101.79 594.75,97.74 595,94.44 595.25,97.63 595.5,101.55 595.75,102.46 596,99.51 596.25,93.82 596.5,89.13 596.75,93.43 597,96.78 597.25,89.93 597.5,84.26 597.75,90.24 598,97.57 598.25,101.47 598.5,103.35 598.75,102.33 599,99.14 599.25,93.09 599.5,88.18 599.75,93.04 600,99.02 600.25,102.08 600.5,100.25 600.75,95.3 601,91.24 601.25,95.21 601.5,100.04 601.75,98.88 602,93.41 602.25,82.96 602.5,74.5 602.75,83 603,93.51 603.25,99.08 603.5,101.73 603.75,99.03 604,93.08 604.25,88.25 604.5,93.19 604.75,99.28 605,102.51 605.25,104.05 605.5,102.25 605.75,98.61 606,95.67 606.25,98.72 606.5,102.49 606.75,104.52 607,105.56 607.25,106.12 607.5,106.46 607.75,106.58 608,106.58 608.25,106.58 608.5,106.5 608.75,106.19 609,105.65 609.25,104.66 609.5,102.69 609.75,99.03 610,96.09 610.25,99.02 610.5,102.66 610.75,104.61 611,105.57 611.25,105.96 611.5,105.4 611.75,104.31 612,102.14 612.25,98.09 612.5,94.82 612.75,98.08 613,102.12 613.25,104.26 613.5,105.31 613.75,104.93 614,103.32 614.25,100.26 614.5,97.79 614.75,100.27 615,103.34 615.25,104.96 615.5,105.4 615.75,104.16 616,101.77 616.25,99.83 616.5,101.82 616.75,104.26 617,105.58 617.25,106.25 617.5,106.62 617.75,106.83 618,106.96 618.25,106.91 618.5,106.76 618.75,106.52 619,106.1 619.25,105.33 619.5,103.8 619.75,100.97 620,98.68 620.25,100.97 620.5,103.81 620.75,105.35 621,106.13 621.25,106.55 621.5,106.8 621.75,106.96 622,107.07 622.25,107.14 622.5,107.2 622.75,107.24 623,107.25 623.25,107.24 623.5,107.22 623.75,107.19 624,107.17 624.25,107.13 624.5,107.09 624.75,107.04 625,106.97 625.25,106.89 625.5,106.79 625.75,106.65 626,106.47 626.25,106.22 626.5,105.86 626.75,105.32 627,104.47 627.25,103.04 627.5,100.42 627.75,95.26 628,85.68 628.25,77.97 628.5,85.69 628.75,95.26 629,100.43 629.25,103.04 629.5,104.48 629.75,105.32 630,105.86 630.25,106.22 630.5,106.47 630.75,106.66 631,106.79 631.25,106.9 631.5,106.98 631.75,107.05 632,107.1 632.25,107.14 632.5,107.18 632.75,107.21 633,107.23 633.25,107.25 633.5,107.27 633.75,107.29 634,107.3 634.25,107.31 634.5,107.32 634.75,107.32 635,107.3 635.25,107.27 635.5,107.23 635.75,107.18 636,107.11 636.25,107.01 636.5,106.87 636.75,106.64 637,106.25 637.25,105.54 637.5,104.14 637.75,101.54 638,99.44 638.25,101.54 638.5,104.13 638.75,105.53 639,106.24 639.25,106.62 639.5,106.85 639.75,106.99 640,107.08 640.25,107.14 640.5,107.1 640.75,107.06 641,107 641.25,106.92 641.5,106.82 641.75,106.68 642,106.49 642.25,106.22 642.5,105.81 642.75,105.17 643,104.1 643.25,102.13 643.5,98.27 643.75,91.11 644,85.34 644.25,91.06 644.5,98.16 644.75,101.95 645,103.8 645.25,104.04 645.5,101.93 645.75,97.91 646,94.64 646.25,97.89 646.5,101.89 646.75,103.98 647,103.32 647.25,101.19 647.5,96.86 647.75,88.77 648,82.23 648.25,88.76 648.5,96.84 648.75,101.16 649,103.28 649.25,103.71 649.5,101.44 649.75,97.1 650,93.57 650.25,97.06 650.5,101.36 650.75,102.94 651,100.8 651.25,96.32 651.5,87.86 651.75,81.04 652,87.93 652.25,96.48 652.5,101.08 652.75,103.42 653,104.7 653.25,105.46 653.5,105.55 653.75,105.57 654,105.6 654.25,105.62 654.5,105.65 654.75,105.68 655,104.98 655.25,103.23 655.5,99.99 655.75,97.38 656,100 656.25,103.24 656.5,104.99 656.75,105.87 657,106.03 657.25,106.08 657.5,106.12 657.75,106.17 658,105.87 658.25,105.15 658.5,103.83 658.75,101.21 659,96.34 659.25,92.42 659.5,96.34 659.75,101.21 660,103.82 660.25,105.15 660.5,105.86 660.75,106.27 661,106.43 661.25,106.1 661.5,105.52 661.75,104.42 662,102.25 662.25,98.2 662.5,94.94 662.75,98.21 663,102.28 663.25,104.47 663.5,105.58 663.75,106.19 664,106.55 664.25,106.78 664.5,106.94 664.75,107.05 665,107.13 665.25,107.19 665.5,107.23 665.75,107.27 666,107.3 666.25,107.32 666.5,107.34 666.75,107.36 667,107.37 667.25,107.38 667.5,107.39 667.75,107.4 668,107.41 668.25,107.42 668.5,107.42 668.75,107.43 669,107.43 669.25,107.44 669.5,107.44 669.75,107.44 670,107.45 670.25,107.45 670.5,107.45 670.75,107.45 671,107.46 671.25,107.46 671.5,107.46 671.75,107.46 672,107.46 672.25,107.46 672.5,107.47 672.75,107.47 673,107.47 673.25,107.47 673.5,107.47 673.75,107.47 674,107.47 674.25,107.47 674.5,107.47 674.75,107.47 675,107.48 675.25,107.48 675.5,107.48 675.75,107.48 676,107.48 676.25,107.48 676.5,107.48 676.75,107.48 677,107.48 677.25,107.48 677.5,107.48 677.75,107.48 678,107.48 678.25,107.48 678.5,107.48 678.75,107.48 679,107.48 679.25,107.48 679.5,107.48 679.75,107.48 680,107.48 680.25,107.49 680.5,107.49 680.75,107.49 681,107.49 681.25,107.49 681.5,107.49 681.75,107.49 682,107.49 682.25,107.49 682.5,107.49 682.75,107.49 683,107.49 683.25,107.49 683.5,107.49 683.75,107.49 684,107.49 684.25,107.49 684.5,107.49 684.75,107.49 685,107.49 685.25,107.49 685.5,107.49 685.75,107.49 686,107.49 686.25,107.49 686.5,107.49 686.75,107.49 687,107.49 687.25,107.49 687.5,107.49 687.75,107.49 688,107.49 688.25,107.49 688.5,107.49 688.75,107.49 689,107.49 689.25,107.49 689.5,107.49 689.75,107.49 690,107.49 690.25,107.49 690.5,107.49 690.75,107.49 691,107.49 691.25,107.49 691.5,107.49 691.75,107.49 692,107.49" fill="none" stroke="#1a1a1a" stroke-width="0.75" stroke-linejoin="round"/>
<line x1="85.6" y1="35.3" x2="85.6" y2="47.1" stroke="#000" stroke-width="1.5"/>
<line x1="85.6" y1="72.6" x2="85.6" y2="84.4" stroke="#000" stroke-width="1.5"/>
<text transform="translate(90.1,72.6) rotate(-90)" font-size="15.5" font-weight="bold" fill="#ff0000" textLength="25.5" lengthAdjust="spacingAndGlyphs">C<tspan font-size="10" dy="-4">3</tspan><tspan dy="4">H</tspan></text>
<line x1="119" y1="17.9" x2="119" y2="29.7" stroke="#000" stroke-width="1.5"/>
<line x1="119" y1="56.5" x2="119" y2="67.9" stroke="#000" stroke-width="1.5"/>
<text transform="translate(124,56.5) rotate(-90)" font-size="15.5" font-weight="bold" fill="#ff0000" textLength="26.8" lengthAdjust="spacingAndGlyphs">C<tspan font-size="10" dy="-4">1</tspan><tspan dy="4">H</tspan></text>
<circle cx="118.6" cy="12.6" r="4.9" fill="none" stroke="#000" stroke-width="1.4"/>
<line x1="265.9" y1="10.1" x2="265.9" y2="21.3" stroke="#000" stroke-width="1.5"/>
<line x1="265.9" y1="48.3" x2="265.9" y2="59.6" stroke="#000" stroke-width="1.5"/>
<text transform="translate(270.4,48.3) rotate(-90)" font-size="15.5" font-weight="bold" fill="#ff0000" textLength="27" lengthAdjust="spacingAndGlyphs">C<tspan font-size="10" dy="-4">2</tspan><tspan dy="4">H</tspan></text>
<line x1="486.8" y1="36.8" x2="486.8" y2="48.1" stroke="#000" stroke-width="1.5"/>
<line x1="486.8" y1="74.5" x2="486.8" y2="85.8" stroke="#000" stroke-width="1.5"/>
<text transform="translate(491.7,74.5) rotate(-90)" font-size="15.5" font-weight="bold" fill="#ff0000" textLength="26.4" lengthAdjust="spacingAndGlyphs">C<tspan font-size="10" dy="-4">5</tspan><tspan dy="4">H</tspan></text>
<line x1="509.8" y1="24.7" x2="509.8" y2="35.8" stroke="#000" stroke-width="1.5"/>
<line x1="509.8" y1="67.9" x2="509.8" y2="79.2" stroke="#000" stroke-width="1.5"/>
<text transform="translate(514.3,67.9) rotate(-90)" font-size="15.5" font-weight="bold" fill="#ff0000" textLength="32.1" lengthAdjust="spacingAndGlyphs">C<tspan font-size="10" dy="-4">6a</tspan><tspan dy="4">H</tspan></text>
<line x1="528.6" y1="25.3" x2="528.6" y2="37.2" stroke="#000" stroke-width="1.5"/>
<line x1="528.6" y1="69.7" x2="528.6" y2="80.6" stroke="#000" stroke-width="1.5"/>
<text transform="translate(532.9,69.7) rotate(-90)" font-size="15.5" font-weight="bold" fill="#ff0000" textLength="32.5" lengthAdjust="spacingAndGlyphs">C<tspan font-size="10" dy="-4">6b</tspan><tspan dy="4">H</tspan></text>
<line x1="574.4" y1="1.3" x2="572.3" y2="11.8" stroke="#000" stroke-width="1.5"/>
<line x1="567.8" y1="38.3" x2="566.1" y2="49" stroke="#000" stroke-width="1.5"/>
<text transform="translate(572.6,39.0) rotate(-80.5)" font-size="15.5" font-weight="bold" fill="#ff0000" textLength="26" lengthAdjust="spacingAndGlyphs">C<tspan font-size="10" dy="-4">4</tspan><tspan dy="4">H</tspan></text>
<line x1="6.1" y1="437.8" x2="695.5" y2="437.8" stroke="#5a5a5a" stroke-width="1.1"/>
<line x1="32.2" y1="437.8" x2="32.2" y2="445.8" stroke="#5a5a5a" stroke-width="1.1"/>
<line x1="83.7" y1="437.8" x2="83.7" y2="445.8" stroke="#5a5a5a" stroke-width="1.1"/>
<line x1="135.8" y1="437.8" x2="135.8" y2="445.8" stroke="#5a5a5a" stroke-width="1.1"/>
<line x1="189.5" y1="437.8" x2="189.5" y2="445.8" stroke="#5a5a5a" stroke-width="1.1"/>
<line x1="241.6" y1="437.8" x2="241.6" y2="445.8" stroke="#5a5a5a" stroke-width="1.1"/>
<line x1="293.7" y1="437.8" x2="293.7" y2="445.8" stroke="#5a5a5a" stroke-width="1.1"/>
<line x1="345.9" y1="437.8" x2="345.9" y2="445.8" stroke="#5a5a5a" stroke-width="1.1"/>
<line x1="398" y1="437.8" x2="398" y2="445.8" stroke="#5a5a5a" stroke-width="1.1"/>
<line x1="450.1" y1="437.8" x2="450.1" y2="445.8" stroke="#5a5a5a" stroke-width="1.1"/>
<line x1="502.2" y1="437.8" x2="502.2" y2="445.8" stroke="#5a5a5a" stroke-width="1.1"/>
<line x1="554.3" y1="437.8" x2="554.3" y2="445.8" stroke="#5a5a5a" stroke-width="1.1"/>
<line x1="606" y1="437.8" x2="606" y2="445.8" stroke="#5a5a5a" stroke-width="1.1"/>
<line x1="657.6" y1="437.8" x2="657.6" y2="445.8" stroke="#5a5a5a" stroke-width="1.1"/>
<line x1="57.95" y1="437.8" x2="57.95" y2="442.1" stroke="#5a5a5a" stroke-width="1.1"/>
<line x1="109.75" y1="437.8" x2="109.75" y2="442.1" stroke="#5a5a5a" stroke-width="1.1"/>
<line x1="162.65" y1="437.8" x2="162.65" y2="442.1" stroke="#5a5a5a" stroke-width="1.1"/>
<line x1="215.55" y1="437.8" x2="215.55" y2="442.1" stroke="#5a5a5a" stroke-width="1.1"/>
<line x1="267.65" y1="437.8" x2="267.65" y2="442.1" stroke="#5a5a5a" stroke-width="1.1"/>
<line x1="319.8" y1="437.8" x2="319.8" y2="442.1" stroke="#5a5a5a" stroke-width="1.1"/>
<line x1="371.95" y1="437.8" x2="371.95" y2="442.1" stroke="#5a5a5a" stroke-width="1.1"/>
<line x1="424.05" y1="437.8" x2="424.05" y2="442.1" stroke="#5a5a5a" stroke-width="1.1"/>
<line x1="476.15" y1="437.8" x2="476.15" y2="442.1" stroke="#5a5a5a" stroke-width="1.1"/>
<line x1="528.25" y1="437.8" x2="528.25" y2="442.1" stroke="#5a5a5a" stroke-width="1.1"/>
<line x1="580.15" y1="437.8" x2="580.15" y2="442.1" stroke="#5a5a5a" stroke-width="1.1"/>
<line x1="631.8" y1="437.8" x2="631.8" y2="442.1" stroke="#5a5a5a" stroke-width="1.1"/>
<line x1="683.8" y1="437.8" x2="683.8" y2="442.1" stroke="#5a5a5a" stroke-width="1.1"/>
<text x="75.8" y="459.8" font-size="10.5" fill="#2a2a2a" stroke="#2a2a2a" stroke-width="0.3" text-anchor="start" textLength="15.8" lengthAdjust="spacingAndGlyphs">5.4</text>
<text x="127.9" y="459.8" font-size="10.5" fill="#2a2a2a" stroke="#2a2a2a" stroke-width="0.3" text-anchor="start" textLength="15.8" lengthAdjust="spacingAndGlyphs">5.2</text>
<text x="181.6" y="459.8" font-size="10.5" fill="#2a2a2a" stroke="#2a2a2a" stroke-width="0.3" text-anchor="start" textLength="15.8" lengthAdjust="spacingAndGlyphs">5.0</text>
<text x="233.7" y="459.8" font-size="10.5" fill="#2a2a2a" stroke="#2a2a2a" stroke-width="0.3" text-anchor="start" textLength="15.8" lengthAdjust="spacingAndGlyphs">4.8</text>
<text x="285.8" y="459.8" font-size="10.5" fill="#2a2a2a" stroke="#2a2a2a" stroke-width="0.3" text-anchor="start" textLength="15.8" lengthAdjust="spacingAndGlyphs">4.6</text>
<text x="338" y="459.8" font-size="10.5" fill="#2a2a2a" stroke="#2a2a2a" stroke-width="0.3" text-anchor="start" textLength="15.8" lengthAdjust="spacingAndGlyphs">4.4</text>
<text x="390.1" y="459.8" font-size="10.5" fill="#2a2a2a" stroke="#2a2a2a" stroke-width="0.3" text-anchor="start" textLength="15.8" lengthAdjust="spacingAndGlyphs">4.2</text>
<text x="442.2" y="459.8" font-size="10.5" fill="#2a2a2a" stroke="#2a2a2a" stroke-width="0.3" text-anchor="start" textLength="15.8" lengthAdjust="spacingAndGlyphs">4.0</text>
<text x="494.3" y="459.8" font-size="10.5" fill="#2a2a2a" stroke="#2a2a2a" stroke-width="0.3" text-anchor="start" textLength="15.8" lengthAdjust="spacingAndGlyphs">3.8</text>
<text x="546.4" y="459.8" font-size="10.5" fill="#2a2a2a" stroke="#2a2a2a" stroke-width="0.3" text-anchor="start" textLength="15.8" lengthAdjust="spacingAndGlyphs">3.6</text>
<text x="598.1" y="459.8" font-size="10.5" fill="#2a2a2a" stroke="#2a2a2a" stroke-width="0.3" text-anchor="start" textLength="15.8" lengthAdjust="spacingAndGlyphs">3.4</text>
<text x="649.7" y="459.8" font-size="10.5" fill="#2a2a2a" stroke="#2a2a2a" stroke-width="0.3" text-anchor="start" textLength="15.8" lengthAdjust="spacingAndGlyphs">3.2</text>
<text x="8.7" y="459.8" font-size="10.5" fill="#2a2a2a" stroke="#2a2a2a" stroke-width="0.3" text-anchor="start" textLength="44.7" lengthAdjust="spacingAndGlyphs">PPM (F2)</text>
<line x1="695.5" y1="131.1" x2="695.5" y2="437.8" stroke="#5a5a5a" stroke-width="1.1"/>
<line x1="695.5" y1="142.4" x2="705.5" y2="142.4" stroke="#5a5a5a" stroke-width="1.1"/>
<line x1="695.5" y1="165.42" x2="705.5" y2="165.42" stroke="#5a5a5a" stroke-width="1.1"/>
<line x1="695.5" y1="188.44" x2="705.5" y2="188.44" stroke="#5a5a5a" stroke-width="1.1"/>
<line x1="695.5" y1="211.46" x2="705.5" y2="211.46" stroke="#5a5a5a" stroke-width="1.1"/>
<line x1="695.5" y1="234.48" x2="705.5" y2="234.48" stroke="#5a5a5a" stroke-width="1.1"/>
<line x1="695.5" y1="257.5" x2="705.5" y2="257.5" stroke="#5a5a5a" stroke-width="1.1"/>
<line x1="695.5" y1="280.52" x2="705.5" y2="280.52" stroke="#5a5a5a" stroke-width="1.1"/>
<line x1="695.5" y1="303.54" x2="705.5" y2="303.54" stroke="#5a5a5a" stroke-width="1.1"/>
<line x1="695.5" y1="326.56" x2="705.5" y2="326.56" stroke="#5a5a5a" stroke-width="1.1"/>
<line x1="695.5" y1="349.58" x2="705.5" y2="349.58" stroke="#5a5a5a" stroke-width="1.1"/>
<line x1="695.5" y1="372.6" x2="705.5" y2="372.6" stroke="#5a5a5a" stroke-width="1.1"/>
<line x1="695.5" y1="395.62" x2="705.5" y2="395.62" stroke="#5a5a5a" stroke-width="1.1"/>
<line x1="695.5" y1="418.64" x2="705.5" y2="418.64" stroke="#5a5a5a" stroke-width="1.1"/>
<line x1="695.5" y1="131.1" x2="700" y2="131.1" stroke="#5a5a5a" stroke-width="1.1"/>
<line x1="695.5" y1="153.91" x2="700" y2="153.91" stroke="#5a5a5a" stroke-width="1.1"/>
<line x1="695.5" y1="176.93" x2="700" y2="176.93" stroke="#5a5a5a" stroke-width="1.1"/>
<line x1="695.5" y1="199.95" x2="700" y2="199.95" stroke="#5a5a5a" stroke-width="1.1"/>
<line x1="695.5" y1="222.97" x2="700" y2="222.97" stroke="#5a5a5a" stroke-width="1.1"/>
<line x1="695.5" y1="245.99" x2="700" y2="245.99" stroke="#5a5a5a" stroke-width="1.1"/>
<line x1="695.5" y1="269.01" x2="700" y2="269.01" stroke="#5a5a5a" stroke-width="1.1"/>
<line x1="695.5" y1="292.03" x2="700" y2="292.03" stroke="#5a5a5a" stroke-width="1.1"/>
<line x1="695.5" y1="315.05" x2="700" y2="315.05" stroke="#5a5a5a" stroke-width="1.1"/>
<line x1="695.5" y1="338.07" x2="700" y2="338.07" stroke="#5a5a5a" stroke-width="1.1"/>
<line x1="695.5" y1="361.09" x2="700" y2="361.09" stroke="#5a5a5a" stroke-width="1.1"/>
<line x1="695.5" y1="384.11" x2="700" y2="384.11" stroke="#5a5a5a" stroke-width="1.1"/>
<line x1="695.5" y1="407.13" x2="700" y2="407.13" stroke="#5a5a5a" stroke-width="1.1"/>
<text x="708.6" y="147" font-size="10.5" fill="#2a2a2a" stroke="#2a2a2a" stroke-width="0.3" text-anchor="start" textLength="15.8" lengthAdjust="spacingAndGlyphs">3.2</text>
<text x="708.6" y="170.02" font-size="10.5" fill="#2a2a2a" stroke="#2a2a2a" stroke-width="0.3" text-anchor="start" textLength="15.8" lengthAdjust="spacingAndGlyphs">3.4</text>
<text x="708.6" y="193.04" font-size="10.5" fill="#2a2a2a" stroke="#2a2a2a" stroke-width="0.3" text-anchor="start" textLength="15.8" lengthAdjust="spacingAndGlyphs">3.6</text>
<text x="708.6" y="216.06" font-size="10.5" fill="#2a2a2a" stroke="#2a2a2a" stroke-width="0.3" text-anchor="start" textLength="15.8" lengthAdjust="spacingAndGlyphs">3.8</text>
<text x="708.6" y="239.08" font-size="10.5" fill="#2a2a2a" stroke="#2a2a2a" stroke-width="0.3" text-anchor="start" textLength="15.8" lengthAdjust="spacingAndGlyphs">4.0</text>
<text x="708.6" y="262.1" font-size="10.5" fill="#2a2a2a" stroke="#2a2a2a" stroke-width="0.3" text-anchor="start" textLength="15.8" lengthAdjust="spacingAndGlyphs">4.2</text>
<text x="708.6" y="285.12" font-size="10.5" fill="#2a2a2a" stroke="#2a2a2a" stroke-width="0.3" text-anchor="start" textLength="15.8" lengthAdjust="spacingAndGlyphs">4.4</text>
<text x="708.6" y="308.14" font-size="10.5" fill="#2a2a2a" stroke="#2a2a2a" stroke-width="0.3" text-anchor="start" textLength="15.8" lengthAdjust="spacingAndGlyphs">4.6</text>
<text x="708.6" y="331.16" font-size="10.5" fill="#2a2a2a" stroke="#2a2a2a" stroke-width="0.3" text-anchor="start" textLength="15.8" lengthAdjust="spacingAndGlyphs">4.8</text>
<text x="708.6" y="354.18" font-size="10.5" fill="#2a2a2a" stroke="#2a2a2a" stroke-width="0.3" text-anchor="start" textLength="15.8" lengthAdjust="spacingAndGlyphs">5.0</text>
<text x="708.6" y="377.2" font-size="10.5" fill="#2a2a2a" stroke="#2a2a2a" stroke-width="0.3" text-anchor="start" textLength="15.8" lengthAdjust="spacingAndGlyphs">5.2</text>
<text x="708.6" y="400.22" font-size="10.5" fill="#2a2a2a" stroke="#2a2a2a" stroke-width="0.3" text-anchor="start" textLength="15.8" lengthAdjust="spacingAndGlyphs">5.4</text>
<text x="713.7" y="437.9" font-size="10.5" fill="#2a2a2a" stroke="#2a2a2a" stroke-width="0.3" text-anchor="start" textLength="44.4" lengthAdjust="spacingAndGlyphs">PPM (F1)</text>
<line x1="1.8" y1="778.4" x2="691" y2="778.4" stroke="#5a5a5a" stroke-width="1.1"/>
<line x1="33.1" y1="778.4" x2="33.1" y2="786.4" stroke="#5a5a5a" stroke-width="1.1"/>
<line x1="84.6" y1="778.4" x2="84.6" y2="786.4" stroke="#5a5a5a" stroke-width="1.1"/>
<line x1="136.4" y1="778.4" x2="136.4" y2="786.4" stroke="#5a5a5a" stroke-width="1.1"/>
<line x1="187.9" y1="778.4" x2="187.9" y2="786.4" stroke="#5a5a5a" stroke-width="1.1"/>
<line x1="240" y1="778.4" x2="240" y2="786.4" stroke="#5a5a5a" stroke-width="1.1"/>
<line x1="291.8" y1="778.4" x2="291.8" y2="786.4" stroke="#5a5a5a" stroke-width="1.1"/>
<line x1="345.8" y1="778.4" x2="345.8" y2="786.4" stroke="#5a5a5a" stroke-width="1.1"/>
<line x1="397.7" y1="778.4" x2="397.7" y2="786.4" stroke="#5a5a5a" stroke-width="1.1"/>
<line x1="449.6" y1="778.4" x2="449.6" y2="786.4" stroke="#5a5a5a" stroke-width="1.1"/>
<line x1="501.6" y1="778.4" x2="501.6" y2="786.4" stroke="#5a5a5a" stroke-width="1.1"/>
<line x1="552.9" y1="778.4" x2="552.9" y2="786.4" stroke="#5a5a5a" stroke-width="1.1"/>
<line x1="604.9" y1="778.4" x2="604.9" y2="786.4" stroke="#5a5a5a" stroke-width="1.1"/>
<line x1="659" y1="778.4" x2="659" y2="786.4" stroke="#5a5a5a" stroke-width="1.1"/>
<line x1="58.85" y1="778.4" x2="58.85" y2="782.7" stroke="#5a5a5a" stroke-width="1.1"/>
<line x1="110.5" y1="778.4" x2="110.5" y2="782.7" stroke="#5a5a5a" stroke-width="1.1"/>
<line x1="162.15" y1="778.4" x2="162.15" y2="782.7" stroke="#5a5a5a" stroke-width="1.1"/>
<line x1="213.95" y1="778.4" x2="213.95" y2="782.7" stroke="#5a5a5a" stroke-width="1.1"/>
<line x1="265.9" y1="778.4" x2="265.9" y2="782.7" stroke="#5a5a5a" stroke-width="1.1"/>
<line x1="318.8" y1="778.4" x2="318.8" y2="782.7" stroke="#5a5a5a" stroke-width="1.1"/>
<line x1="371.75" y1="778.4" x2="371.75" y2="782.7" stroke="#5a5a5a" stroke-width="1.1"/>
<line x1="423.65" y1="778.4" x2="423.65" y2="782.7" stroke="#5a5a5a" stroke-width="1.1"/>
<line x1="475.6" y1="778.4" x2="475.6" y2="782.7" stroke="#5a5a5a" stroke-width="1.1"/>
<line x1="527.25" y1="778.4" x2="527.25" y2="782.7" stroke="#5a5a5a" stroke-width="1.1"/>
<line x1="578.9" y1="778.4" x2="578.9" y2="782.7" stroke="#5a5a5a" stroke-width="1.1"/>
<line x1="631.95" y1="778.4" x2="631.95" y2="782.7" stroke="#5a5a5a" stroke-width="1.1"/>
<line x1="685.4" y1="778.4" x2="685.4" y2="782.7" stroke="#5a5a5a" stroke-width="1.1"/>
<text x="76.7" y="800.4" font-size="10.5" fill="#2a2a2a" stroke="#2a2a2a" stroke-width="0.3" text-anchor="start" textLength="15.8" lengthAdjust="spacingAndGlyphs">5.4</text>
<text x="128.5" y="800.4" font-size="10.5" fill="#2a2a2a" stroke="#2a2a2a" stroke-width="0.3" text-anchor="start" textLength="15.8" lengthAdjust="spacingAndGlyphs">5.2</text>
<text x="180" y="800.4" font-size="10.5" fill="#2a2a2a" stroke="#2a2a2a" stroke-width="0.3" text-anchor="start" textLength="15.8" lengthAdjust="spacingAndGlyphs">5.0</text>
<text x="232.1" y="800.4" font-size="10.5" fill="#2a2a2a" stroke="#2a2a2a" stroke-width="0.3" text-anchor="start" textLength="15.8" lengthAdjust="spacingAndGlyphs">4.8</text>
<text x="283.9" y="800.4" font-size="10.5" fill="#2a2a2a" stroke="#2a2a2a" stroke-width="0.3" text-anchor="start" textLength="15.8" lengthAdjust="spacingAndGlyphs">4.6</text>
<text x="337.9" y="800.4" font-size="10.5" fill="#2a2a2a" stroke="#2a2a2a" stroke-width="0.3" text-anchor="start" textLength="15.8" lengthAdjust="spacingAndGlyphs">4.4</text>
<text x="389.8" y="800.4" font-size="10.5" fill="#2a2a2a" stroke="#2a2a2a" stroke-width="0.3" text-anchor="start" textLength="15.8" lengthAdjust="spacingAndGlyphs">4.2</text>
<text x="441.7" y="800.4" font-size="10.5" fill="#2a2a2a" stroke="#2a2a2a" stroke-width="0.3" text-anchor="start" textLength="15.8" lengthAdjust="spacingAndGlyphs">4.0</text>
<text x="493.7" y="800.4" font-size="10.5" fill="#2a2a2a" stroke="#2a2a2a" stroke-width="0.3" text-anchor="start" textLength="15.8" lengthAdjust="spacingAndGlyphs">3.8</text>
<text x="545" y="800.4" font-size="10.5" fill="#2a2a2a" stroke="#2a2a2a" stroke-width="0.3" text-anchor="start" textLength="15.8" lengthAdjust="spacingAndGlyphs">3.6</text>
<text x="597" y="800.4" font-size="10.5" fill="#2a2a2a" stroke="#2a2a2a" stroke-width="0.3" text-anchor="start" textLength="15.8" lengthAdjust="spacingAndGlyphs">3.4</text>
<text x="651.1" y="800.4" font-size="10.5" fill="#2a2a2a" stroke="#2a2a2a" stroke-width="0.3" text-anchor="start" textLength="15.8" lengthAdjust="spacingAndGlyphs">3.2</text>
<text x="4" y="800.4" font-size="10.5" fill="#2a2a2a" stroke="#2a2a2a" stroke-width="0.3" text-anchor="start" textLength="44.8" lengthAdjust="spacingAndGlyphs">PPM (F2)</text>
<line x1="691" y1="467.5" x2="691" y2="778.4" stroke="#5a5a5a" stroke-width="1.1"/>
<line x1="691" y1="480.5" x2="701" y2="480.5" stroke="#5a5a5a" stroke-width="1.1"/>
<line x1="691" y1="503.42" x2="701" y2="503.42" stroke="#5a5a5a" stroke-width="1.1"/>
<line x1="691" y1="526.34" x2="701" y2="526.34" stroke="#5a5a5a" stroke-width="1.1"/>
<line x1="691" y1="549.26" x2="701" y2="549.26" stroke="#5a5a5a" stroke-width="1.1"/>
<line x1="691" y1="572.18" x2="701" y2="572.18" stroke="#5a5a5a" stroke-width="1.1"/>
<line x1="691" y1="595.1" x2="701" y2="595.1" stroke="#5a5a5a" stroke-width="1.1"/>
<line x1="691" y1="618.02" x2="701" y2="618.02" stroke="#5a5a5a" stroke-width="1.1"/>
<line x1="691" y1="640.94" x2="701" y2="640.94" stroke="#5a5a5a" stroke-width="1.1"/>
<line x1="691" y1="663.86" x2="701" y2="663.86" stroke="#5a5a5a" stroke-width="1.1"/>
<line x1="691" y1="686.78" x2="701" y2="686.78" stroke="#5a5a5a" stroke-width="1.1"/>
<line x1="691" y1="709.7" x2="701" y2="709.7" stroke="#5a5a5a" stroke-width="1.1"/>
<line x1="691" y1="732.62" x2="701" y2="732.62" stroke="#5a5a5a" stroke-width="1.1"/>
<line x1="691" y1="755.54" x2="701" y2="755.54" stroke="#5a5a5a" stroke-width="1.1"/>
<line x1="691" y1="469" x2="695.5" y2="469" stroke="#5a5a5a" stroke-width="1.1"/>
<line x1="691" y1="491.96" x2="695.5" y2="491.96" stroke="#5a5a5a" stroke-width="1.1"/>
<line x1="691" y1="514.88" x2="695.5" y2="514.88" stroke="#5a5a5a" stroke-width="1.1"/>
<line x1="691" y1="537.8" x2="695.5" y2="537.8" stroke="#5a5a5a" stroke-width="1.1"/>
<line x1="691" y1="560.72" x2="695.5" y2="560.72" stroke="#5a5a5a" stroke-width="1.1"/>
<line x1="691" y1="583.64" x2="695.5" y2="583.64" stroke="#5a5a5a" stroke-width="1.1"/>
<line x1="691" y1="606.56" x2="695.5" y2="606.56" stroke="#5a5a5a" stroke-width="1.1"/>
<line x1="691" y1="629.48" x2="695.5" y2="629.48" stroke="#5a5a5a" stroke-width="1.1"/>
<line x1="691" y1="652.4" x2="695.5" y2="652.4" stroke="#5a5a5a" stroke-width="1.1"/>
<line x1="691" y1="675.32" x2="695.5" y2="675.32" stroke="#5a5a5a" stroke-width="1.1"/>
<line x1="691" y1="698.24" x2="695.5" y2="698.24" stroke="#5a5a5a" stroke-width="1.1"/>
<line x1="691" y1="721.16" x2="695.5" y2="721.16" stroke="#5a5a5a" stroke-width="1.1"/>
<line x1="691" y1="744.08" x2="695.5" y2="744.08" stroke="#5a5a5a" stroke-width="1.1"/>
<text x="703.8" y="485.1" font-size="10.5" fill="#2a2a2a" stroke="#2a2a2a" stroke-width="0.3" text-anchor="start" textLength="13.5" lengthAdjust="spacingAndGlyphs">48</text>
<text x="703.8" y="508.02" font-size="10.5" fill="#2a2a2a" stroke="#2a2a2a" stroke-width="0.3" text-anchor="start" textLength="13.5" lengthAdjust="spacingAndGlyphs">52</text>
<text x="703.8" y="530.94" font-size="10.5" fill="#2a2a2a" stroke="#2a2a2a" stroke-width="0.3" text-anchor="start" textLength="13.5" lengthAdjust="spacingAndGlyphs">56</text>
<text x="703.8" y="553.86" font-size="10.5" fill="#2a2a2a" stroke="#2a2a2a" stroke-width="0.3" text-anchor="start" textLength="13.5" lengthAdjust="spacingAndGlyphs">60</text>
<text x="703.8" y="576.78" font-size="10.5" fill="#2a2a2a" stroke="#2a2a2a" stroke-width="0.3" text-anchor="start" textLength="13.5" lengthAdjust="spacingAndGlyphs">64</text>
<text x="703.8" y="599.7" font-size="10.5" fill="#2a2a2a" stroke="#2a2a2a" stroke-width="0.3" text-anchor="start" textLength="13.5" lengthAdjust="spacingAndGlyphs">68</text>
<text x="703.8" y="622.62" font-size="10.5" fill="#2a2a2a" stroke="#2a2a2a" stroke-width="0.3" text-anchor="start" textLength="13.5" lengthAdjust="spacingAndGlyphs">72</text>
<text x="703.8" y="645.54" font-size="10.5" fill="#2a2a2a" stroke="#2a2a2a" stroke-width="0.3" text-anchor="start" textLength="13.5" lengthAdjust="spacingAndGlyphs">76</text>
<text x="703.8" y="668.46" font-size="10.5" fill="#2a2a2a" stroke="#2a2a2a" stroke-width="0.3" text-anchor="start" textLength="13.5" lengthAdjust="spacingAndGlyphs">80</text>
<text x="703.8" y="691.38" font-size="10.5" fill="#2a2a2a" stroke="#2a2a2a" stroke-width="0.3" text-anchor="start" textLength="13.5" lengthAdjust="spacingAndGlyphs">84</text>
<text x="703.8" y="714.3" font-size="10.5" fill="#2a2a2a" stroke="#2a2a2a" stroke-width="0.3" text-anchor="start" textLength="13.5" lengthAdjust="spacingAndGlyphs">88</text>
<text x="703.8" y="737.22" font-size="10.5" fill="#2a2a2a" stroke="#2a2a2a" stroke-width="0.3" text-anchor="start" textLength="13.5" lengthAdjust="spacingAndGlyphs">92</text>
<text x="708" y="778.4" font-size="10.5" fill="#2a2a2a" stroke="#2a2a2a" stroke-width="0.3" text-anchor="start" textLength="45" lengthAdjust="spacingAndGlyphs">PPM (F1)</text>
<ellipse cx="80.33" cy="187.35" rx="1.1" ry="3.65" fill="#000"/>
<ellipse cx="84" cy="187.35" rx="1.1" ry="3.65" fill="#000"/>
<ellipse cx="87.67" cy="187.35" rx="1.1" ry="3.65" fill="#000"/>
<ellipse cx="132.43" cy="174.2" rx="1.64" ry="6.3" fill="#000"/>
<ellipse cx="136.3" cy="174.2" rx="1.64" ry="6.3" fill="#000"/>
<ellipse cx="140.17" cy="174.2" rx="1.64" ry="6.3" fill="#000"/>
<ellipse cx="131.62" cy="188.25" rx="0.6" ry="1.8" fill="#000"/>
<ellipse cx="134.88" cy="188.25" rx="0.6" ry="1.8" fill="#000"/>
<ellipse cx="138.12" cy="188.25" rx="0.6" ry="1.8" fill="#000"/>
<ellipse cx="141.38" cy="188.25" rx="0.6" ry="1.8" fill="#000"/>
<ellipse cx="135.28" cy="201.5" rx="0.71" ry="2.5" fill="#000"/>
<ellipse cx="138.45" cy="201.5" rx="0.71" ry="2.5" fill="#000"/>
<ellipse cx="141.62" cy="201.5" rx="0.71" ry="2.5" fill="#000"/>
<ellipse cx="153" cy="190" rx="2.1" ry="2.6" fill="#000"/>
<ellipse cx="167.9" cy="170.6" rx="1.95" ry="2.45" fill="none" stroke="#000" stroke-width="1.5"/>
<ellipse cx="168.8" cy="177.6" rx="1.95" ry="2.45" fill="none" stroke="#000" stroke-width="1.5"/>
<ellipse cx="171.25" cy="183.15" rx="0.96" ry="3.65" fill="#000"/>
<ellipse cx="174.75" cy="183.15" rx="0.96" ry="3.65" fill="#000"/>
<ellipse cx="178.25" cy="183.15" rx="0.96" ry="3.65" fill="#000"/>
<ellipse cx="206.13" cy="149.5" rx="1.31" ry="3.7" fill="#000"/>
<ellipse cx="210" cy="149.5" rx="1.31" ry="3.7" fill="#000"/>
<ellipse cx="213.87" cy="149.5" rx="1.31" ry="3.7" fill="#000"/>
<ellipse cx="206.13" cy="173.2" rx="1.31" ry="4.2" fill="#000"/>
<ellipse cx="210" cy="173.2" rx="1.31" ry="4.2" fill="#000"/>
<ellipse cx="213.87" cy="173.2" rx="1.31" ry="4.2" fill="#000"/>
<circle cx="120.6" cy="220.5" r="0.7" fill="#000"/>
<circle cx="167.8" cy="214.2" r="0.6" fill="#000"/>
<ellipse cx="232.25" cy="182.65" rx="1.19" ry="3.15" fill="#000"/>
<ellipse cx="235.75" cy="182.65" rx="1.19" ry="3.15" fill="#000"/>
<ellipse cx="239.25" cy="182.65" rx="1.19" ry="3.15" fill="#000"/>
<ellipse cx="231.83" cy="197.05" rx="1.25" ry="2.85" fill="#000"/>
<ellipse cx="235.5" cy="197.05" rx="1.25" ry="2.85" fill="#000"/>
<ellipse cx="239.17" cy="197.05" rx="1.25" ry="2.85" fill="#000"/>
<ellipse cx="233.35" cy="214.7" rx="1.19" ry="3.7" fill="#000"/>
<ellipse cx="236.85" cy="214.7" rx="1.19" ry="3.7" fill="#000"/>
<ellipse cx="240.35" cy="214.7" rx="1.19" ry="3.7" fill="#000"/>
<ellipse cx="226.75" cy="227.75" rx="0.6" ry="1.4" fill="#000"/>
<ellipse cx="230.25" cy="227.75" rx="0.6" ry="1.4" fill="#000"/>
<ellipse cx="273.95" cy="176.65" rx="1.19" ry="1.35" fill="#000"/>
<ellipse cx="277.45" cy="176.65" rx="1.19" ry="1.35" fill="#000"/>
<ellipse cx="280.95" cy="176.65" rx="1.19" ry="1.35" fill="#000"/>
<ellipse cx="273.95" cy="179.7" rx="1.19" ry="1.3" fill="#000"/>
<ellipse cx="277.45" cy="179.7" rx="1.19" ry="1.3" fill="#000"/>
<ellipse cx="280.95" cy="179.7" rx="1.19" ry="1.3" fill="#000"/>
<ellipse cx="298.25" cy="160.5" rx="0.85" ry="3.5" fill="#000"/>
<ellipse cx="300.75" cy="160.5" rx="0.85" ry="3.5" fill="#000"/>
<ellipse cx="307.98" cy="149.15" rx="0.97" ry="3.75" fill="none" stroke="#000" stroke-width="1.4"/>
<ellipse cx="311.32" cy="149.15" rx="0.97" ry="3.75" fill="none" stroke="#000" stroke-width="1.4"/>
<ellipse cx="321.68" cy="144.5" rx="1.14" ry="4" fill="#000"/>
<ellipse cx="325.02" cy="144.5" rx="1.14" ry="4" fill="#000"/>
<ellipse cx="343.38" cy="178" rx="0.6" ry="1.2" fill="#000"/>
<ellipse cx="345.12" cy="178" rx="0.6" ry="1.2" fill="#000"/>
<ellipse cx="345.75" cy="185.25" rx="1.33" ry="2.65" fill="#000"/>
<ellipse cx="349.65" cy="185.25" rx="1.33" ry="2.65" fill="#000"/>
<ellipse cx="301.47" cy="217.03" rx="1.47" ry="1.81" fill="#000"/>
<ellipse cx="304.4" cy="217.03" rx="1.47" ry="1.81" fill="#000"/>
<ellipse cx="307.33" cy="217.03" rx="1.47" ry="1.81" fill="#000"/>
<ellipse cx="301.47" cy="220.47" rx="1.47" ry="1.81" fill="#000"/>
<ellipse cx="304.4" cy="220.47" rx="1.47" ry="1.81" fill="#000"/>
<ellipse cx="307.33" cy="220.47" rx="1.47" ry="1.81" fill="#000"/>
<circle cx="360" cy="229" r="0.6" fill="#000"/>
<ellipse cx="399.16" cy="178.9" rx="0.88" ry="3.6" fill="#000"/>
<ellipse cx="401.69" cy="178.9" rx="0.88" ry="3.6" fill="#000"/>
<ellipse cx="404.21" cy="178.9" rx="0.88" ry="3.6" fill="#000"/>
<ellipse cx="406.74" cy="178.9" rx="0.88" ry="3.6" fill="#000"/>
<ellipse cx="399.16" cy="185" rx="1.26" ry="3.15" fill="#000"/>
<ellipse cx="401.69" cy="185" rx="1.26" ry="3.15" fill="#000"/>
<ellipse cx="404.21" cy="185" rx="1.26" ry="3.15" fill="#000"/>
<ellipse cx="406.74" cy="185" rx="1.26" ry="3.15" fill="#000"/>
<ellipse cx="413.7" cy="197" rx="1.6" ry="3" fill="#000"/>
<ellipse cx="441.95" cy="172.75" rx="2.35" ry="3.31" fill="#000"/>
<ellipse cx="446.65" cy="172.75" rx="2.35" ry="3.31" fill="#000"/>
<ellipse cx="459.07" cy="161.7" rx="1.55" ry="1.2" fill="#000"/>
<ellipse cx="463.62" cy="161.7" rx="1.55" ry="1.2" fill="#000"/>
<ellipse cx="459.07" cy="165" rx="1.55" ry="1.2" fill="#000"/>
<ellipse cx="463.62" cy="165" rx="1.55" ry="1.2" fill="#000"/>
<ellipse cx="467.17" cy="181" rx="0.6" ry="1.2" fill="#000"/>
<ellipse cx="469.5" cy="181" rx="0.6" ry="1.2" fill="#000"/>
<ellipse cx="471.83" cy="181" rx="0.6" ry="1.2" fill="#000"/>
<ellipse cx="486.1" cy="163.65" rx="0.88" ry="3.15" fill="#000"/>
<ellipse cx="488.7" cy="163.65" rx="0.88" ry="3.15" fill="#000"/>
<ellipse cx="491.3" cy="163.65" rx="0.88" ry="3.15" fill="#000"/>
<ellipse cx="495.22" cy="170" rx="0.76" ry="3.2" fill="#000"/>
<ellipse cx="498.27" cy="170" rx="0.76" ry="3.2" fill="#000"/>
<ellipse cx="501.32" cy="170" rx="0.76" ry="3.2" fill="#000"/>
<ellipse cx="504.38" cy="170" rx="0.76" ry="3.2" fill="#000"/>
<ellipse cx="532.95" cy="165.25" rx="0.92" ry="3.25" fill="#000"/>
<ellipse cx="535.65" cy="165.25" rx="0.92" ry="3.25" fill="#000"/>
<ellipse cx="538.35" cy="165.25" rx="0.92" ry="3.25" fill="#000"/>
<ellipse cx="541.05" cy="165.25" rx="0.92" ry="3.25" fill="#000"/>
<ellipse cx="485.55" cy="186.75" rx="2.35" ry="3.94" fill="#000"/>
<ellipse cx="490.25" cy="186.75" rx="2.35" ry="3.94" fill="#000"/>
<circle cx="513.7" cy="186.4" r="0.6" fill="#000"/>
<ellipse cx="484.77" cy="198.9" rx="1.62" ry="4.1" fill="#000"/>
<ellipse cx="489.52" cy="198.9" rx="1.62" ry="4.1" fill="#000"/>
<ellipse cx="483.98" cy="206" rx="1.58" ry="3.15" fill="#000"/>
<ellipse cx="487.15" cy="206" rx="1.58" ry="3.15" fill="#000"/>
<ellipse cx="490.32" cy="206" rx="1.58" ry="3.15" fill="#000"/>
<ellipse cx="483.98" cy="212" rx="1.58" ry="3.15" fill="#000"/>
<ellipse cx="487.15" cy="212" rx="1.58" ry="3.15" fill="#000"/>
<ellipse cx="490.32" cy="212" rx="1.58" ry="3.15" fill="#000"/>
<ellipse cx="483.67" cy="218.3" rx="0.97" ry="2.6" fill="none" stroke="#000" stroke-width="1.4"/>
<ellipse cx="487" cy="218.3" rx="0.97" ry="2.6" fill="none" stroke="#000" stroke-width="1.4"/>
<ellipse cx="490.33" cy="218.3" rx="0.97" ry="2.6" fill="none" stroke="#000" stroke-width="1.4"/>
<ellipse cx="494.6" cy="197.65" rx="0.82" ry="2.65" fill="#000"/>
<ellipse cx="497" cy="197.65" rx="0.82" ry="2.65" fill="#000"/>
<ellipse cx="490.07" cy="214.15" rx="1.48" ry="2.85" fill="none" stroke="#000" stroke-width="1.4"/>
<ellipse cx="494.43" cy="214.15" rx="1.48" ry="2.85" fill="none" stroke="#000" stroke-width="1.4"/>
<ellipse cx="498.77" cy="214.15" rx="1.48" ry="2.85" fill="none" stroke="#000" stroke-width="1.4"/>
<ellipse cx="503.12" cy="214.15" rx="1.48" ry="2.85" fill="none" stroke="#000" stroke-width="1.4"/>
<ellipse cx="510.05" cy="206.65" rx="1.65" ry="3.25" fill="none" stroke="#000" stroke-width="1.4"/>
<ellipse cx="514.75" cy="206.65" rx="1.65" ry="3.25" fill="none" stroke="#000" stroke-width="1.4"/>
<ellipse cx="527" cy="208.55" rx="0.82" ry="3.55" fill="#000"/>
<ellipse cx="529.4" cy="208.55" rx="0.82" ry="3.55" fill="#000"/>
<ellipse cx="509.68" cy="217.65" rx="1.34" ry="3.15" fill="#000"/>
<ellipse cx="513.62" cy="217.65" rx="1.34" ry="3.15" fill="#000"/>
<ellipse cx="523.22" cy="217.65" rx="0.9" ry="3.15" fill="#000"/>
<ellipse cx="525.85" cy="217.65" rx="0.9" ry="3.15" fill="#000"/>
<ellipse cx="528.48" cy="217.65" rx="0.9" ry="3.15" fill="#000"/>
<ellipse cx="533.39" cy="217.65" rx="0.88" ry="3.15" fill="#000"/>
<ellipse cx="535.96" cy="217.65" rx="0.88" ry="3.15" fill="#000"/>
<ellipse cx="538.54" cy="217.65" rx="0.88" ry="3.15" fill="#000"/>
<ellipse cx="541.11" cy="217.65" rx="0.88" ry="3.15" fill="#000"/>
<ellipse cx="558.45" cy="217.65" rx="1.26" ry="3.15" fill="#000"/>
<ellipse cx="562.15" cy="217.65" rx="1.26" ry="3.15" fill="#000"/>
<ellipse cx="565.85" cy="217.65" rx="1.26" ry="3.15" fill="#000"/>
<ellipse cx="558.25" cy="200" rx="0.6" ry="1.6" fill="#000"/>
<ellipse cx="560.75" cy="200" rx="0.6" ry="1.6" fill="#000"/>
<ellipse cx="571.67" cy="228" rx="1" ry="3" fill="#000"/>
<ellipse cx="575" cy="228" rx="1" ry="3" fill="#000"/>
<ellipse cx="578.33" cy="228" rx="1" ry="3" fill="#000"/>
<ellipse cx="573.17" cy="235.5" rx="0.6" ry="1.2" fill="#000"/>
<ellipse cx="575.5" cy="235.5" rx="0.6" ry="1.2" fill="#000"/>
<ellipse cx="577.83" cy="235.5" rx="0.6" ry="1.2" fill="#000"/>
<ellipse cx="466.17" cy="180.5" rx="0.6" ry="1.2" fill="#000"/>
<ellipse cx="468.5" cy="180.5" rx="0.6" ry="1.2" fill="#000"/>
<ellipse cx="470.83" cy="180.5" rx="0.6" ry="1.2" fill="#000"/>
<ellipse cx="567.4" cy="144.5" rx="0.75" ry="3.5" fill="#000"/>
<ellipse cx="576.8" cy="144.5" rx="0.75" ry="3.5" fill="#000"/>
<ellipse cx="567.32" cy="163.7" rx="1.01" ry="4.2" fill="#000"/>
<ellipse cx="571.35" cy="163.7" rx="1.01" ry="4.2" fill="#000"/>
<ellipse cx="575.38" cy="163.7" rx="1.01" ry="4.2" fill="#000"/>
<ellipse cx="579.42" cy="163.7" rx="1.01" ry="4.2" fill="#000"/>
<ellipse cx="583.45" cy="163.7" rx="1.01" ry="4.2" fill="#000"/>
<ellipse cx="587.48" cy="163.7" rx="1.01" ry="4.2" fill="#000"/>
<ellipse cx="564.48" cy="173.15" rx="2.38" ry="3.31" fill="#000"/>
<ellipse cx="569.23" cy="173.15" rx="2.38" ry="3.31" fill="#000"/>
<ellipse cx="590.33" cy="185.05" rx="1.31" ry="3.45" fill="#000"/>
<ellipse cx="594.2" cy="185.05" rx="1.31" ry="3.45" fill="#000"/>
<ellipse cx="598.07" cy="185.05" rx="1.31" ry="3.45" fill="#000"/>
<ellipse cx="608.97" cy="183.15" rx="0.94" ry="3.65" fill="#000"/>
<ellipse cx="612.1" cy="183.15" rx="0.94" ry="3.65" fill="#000"/>
<ellipse cx="615.23" cy="183.15" rx="0.94" ry="3.65" fill="#000"/>
<ellipse cx="619" cy="177.5" rx="0.6" ry="1.2" fill="#000"/>
<ellipse cx="621" cy="177.5" rx="0.6" ry="1.2" fill="#000"/>
<rect x="607.4" y="195.3" width="9.4" height="5.9" rx="1.8" ry="1.8" fill="#000"/>
<rect x="597.3" y="211" width="6.9" height="7" rx="1.8" ry="1.8" fill="#000"/>
<ellipse cx="609.1" cy="217.9" rx="1.16" ry="3.7" fill="#000"/>
<ellipse cx="612.5" cy="217.9" rx="1.16" ry="3.7" fill="#000"/>
<ellipse cx="615.9" cy="217.9" rx="1.16" ry="3.7" fill="#000"/>
<ellipse cx="619.3" cy="217.9" rx="1.16" ry="3.7" fill="#000"/>
<ellipse cx="656.28" cy="182.95" rx="1.08" ry="3.45" fill="#000"/>
<ellipse cx="659.45" cy="182.95" rx="1.08" ry="3.45" fill="#000"/>
<ellipse cx="662.62" cy="182.95" rx="1.08" ry="3.45" fill="#000"/>
<ellipse cx="560.27" cy="219.45" rx="1.62" ry="3.15" fill="#000"/>
<ellipse cx="565.02" cy="219.45" rx="1.62" ry="3.15" fill="#000"/>
<ellipse cx="611.33" cy="227.75" rx="0.6" ry="1.4" fill="#000"/>
<ellipse cx="614" cy="227.75" rx="0.6" ry="1.4" fill="#000"/>
<ellipse cx="616.67" cy="227.75" rx="0.6" ry="1.4" fill="#000"/>
<ellipse cx="656.28" cy="144.5" rx="1.08" ry="4" fill="#000"/>
<ellipse cx="659.45" cy="144.5" rx="1.08" ry="4" fill="#000"/>
<ellipse cx="662.62" cy="144.5" rx="1.08" ry="4" fill="#000"/>
<ellipse cx="643.83" cy="149.25" rx="1.13" ry="3.05" fill="none" stroke="#000" stroke-width="1.4"/>
<ellipse cx="647.5" cy="149.25" rx="1.13" ry="3.05" fill="none" stroke="#000" stroke-width="1.4"/>
<ellipse cx="651.17" cy="149.25" rx="1.13" ry="3.05" fill="none" stroke="#000" stroke-width="1.4"/>
<ellipse cx="638" cy="152.7" rx="2.4" ry="3.2" fill="#000"/>
<ellipse cx="628.5" cy="157.4" rx="1.3" ry="2.8" fill="none" stroke="#000" stroke-width="1.4"/>
<ellipse cx="606" cy="164" rx="1.3" ry="3.8" fill="none" stroke="#000" stroke-width="1.4"/>
<ellipse cx="610" cy="164" rx="1.3" ry="3.8" fill="none" stroke="#000" stroke-width="1.4"/>
<ellipse cx="614" cy="164" rx="1.3" ry="3.8" fill="none" stroke="#000" stroke-width="1.4"/>
<ellipse cx="618" cy="164" rx="1.3" ry="3.8" fill="none" stroke="#000" stroke-width="1.4"/>
<ellipse cx="622" cy="164" rx="1.3" ry="3.8" fill="none" stroke="#000" stroke-width="1.4"/>
<ellipse cx="608.67" cy="164" rx="1.33" ry="3" fill="#000"/>
<ellipse cx="614" cy="164" rx="1.33" ry="3" fill="#000"/>
<ellipse cx="619.33" cy="164" rx="1.33" ry="3" fill="#000"/>
<ellipse cx="385.6" cy="259.79" rx="1.24" ry="2.66" fill="none" stroke="#000" stroke-width="1.2"/>
<ellipse cx="386.37" cy="264.16" rx="1.86" ry="3.61" fill="#000"/>
<ellipse cx="387.4" cy="258.63" rx="1.55" ry="3.95" fill="#000"/>
<ellipse cx="387.68" cy="265.13" rx="0.93" ry="3.6" fill="none" stroke="#000" stroke-width="1.2"/>
<ellipse cx="390.45" cy="258.34" rx="1.73" ry="3.6" fill="#000"/>
<ellipse cx="390.54" cy="263.36" rx="1.16" ry="2.59" fill="none" stroke="#000" stroke-width="1.2"/>
<ellipse cx="391.55" cy="258.49" rx="1.29" ry="2.81" fill="none" stroke="#000" stroke-width="1.2"/>
<ellipse cx="391.62" cy="262.32" rx="1.53" ry="4.04" fill="#000"/>
<ellipse cx="394.34" cy="257.44" rx="1.53" ry="3.31" fill="none" stroke="#000" stroke-width="1.2"/>
<ellipse cx="394.1" cy="263.94" rx="1.41" ry="2.55" fill="none" stroke="#000" stroke-width="1.2"/>
<ellipse cx="396.39" cy="256.65" rx="1.52" ry="2.89" fill="none" stroke="#000" stroke-width="1.2"/>
<ellipse cx="395.94" cy="262.83" rx="1.17" ry="3.59" fill="none" stroke="#000" stroke-width="1.2"/>
<ellipse cx="397.43" cy="256.36" rx="1.59" ry="3" fill="none" stroke="#000" stroke-width="1.2"/>
<ellipse cx="398.06" cy="261" rx="1.42" ry="2.67" fill="none" stroke="#000" stroke-width="1.2"/>
<ellipse cx="400.07" cy="254.14" rx="1.02" ry="2.82" fill="none" stroke="#000" stroke-width="1.2"/>
<ellipse cx="399.82" cy="259.15" rx="1.92" ry="3.37" fill="#000"/>
<ellipse cx="401.48" cy="254.24" rx="1.16" ry="3.22" fill="none" stroke="#000" stroke-width="1.2"/>
<ellipse cx="402.48" cy="257.42" rx="1.57" ry="2.89" fill="none" stroke="#000" stroke-width="1.2"/>
<ellipse cx="404.55" cy="251.5" rx="1.84" ry="3.45" fill="#000"/>
<ellipse cx="404.45" cy="257.01" rx="1.01" ry="2.48" fill="none" stroke="#000" stroke-width="1.2"/>
<ellipse cx="406.33" cy="250.58" rx="1.54" ry="3.31" fill="#000"/>
<ellipse cx="405.9" cy="257.26" rx="1.02" ry="2.48" fill="none" stroke="#000" stroke-width="1.2"/>
<ellipse cx="408.48" cy="252.62" rx="1.24" ry="2.7" fill="none" stroke="#000" stroke-width="1.2"/>
<ellipse cx="408.03" cy="256.16" rx="2.01" ry="3.03" fill="#000"/>
<ellipse cx="410.41" cy="250.96" rx="1.32" ry="2.91" fill="none" stroke="#000" stroke-width="1.2"/>
<ellipse cx="410.42" cy="253.91" rx="1.72" ry="3.64" fill="#000"/>
<ellipse cx="412.32" cy="250.91" rx="1.57" ry="2.43" fill="none" stroke="#000" stroke-width="1.2"/>
<ellipse cx="412.17" cy="254.78" rx="2.1" ry="3.7" fill="#000"/>
<ellipse cx="413.89" cy="250.58" rx="1.59" ry="3.11" fill="#000"/>
<ellipse cx="413.43" cy="253.45" rx="1.21" ry="2.57" fill="none" stroke="#000" stroke-width="1.2"/>
<ellipse cx="416.19" cy="248.8" rx="1.73" ry="3.59" fill="#000"/>
<ellipse cx="415.6" cy="253.81" rx="1.03" ry="2.85" fill="none" stroke="#000" stroke-width="1.2"/>
<ellipse cx="418.06" cy="248.51" rx="1.51" ry="3.33" fill="none" stroke="#000" stroke-width="1.2"/>
<ellipse cx="417.41" cy="252.66" rx="1.22" ry="2.48" fill="none" stroke="#000" stroke-width="1.2"/>
<ellipse cx="419.61" cy="246.35" rx="1.99" ry="3.38" fill="#000"/>
<ellipse cx="419.87" cy="250.91" rx="1.72" ry="4.08" fill="#000"/>
<ellipse cx="422" cy="243.7" rx="0.97" ry="3.12" fill="none" stroke="#000" stroke-width="1.2"/>
<ellipse cx="422.28" cy="249.97" rx="1.58" ry="2.77" fill="none" stroke="#000" stroke-width="1.2"/>
<ellipse cx="424.03" cy="244.35" rx="1.47" ry="3.57" fill="none" stroke="#000" stroke-width="1.2"/>
<ellipse cx="423.78" cy="249.51" rx="2.2" ry="3.13" fill="#000"/>
<ellipse cx="425.49" cy="244.21" rx="1.81" ry="3.75" fill="#000"/>
<ellipse cx="426.17" cy="247.43" rx="1.21" ry="3.02" fill="none" stroke="#000" stroke-width="1.2"/>
<ellipse cx="427.88" cy="242.77" rx="1.2" ry="2.7" fill="none" stroke="#000" stroke-width="1.2"/>
<ellipse cx="428.38" cy="247.99" rx="2.01" ry="3.55" fill="#000"/>
<ellipse cx="429.86" cy="240.67" rx="1.57" ry="2.5" fill="none" stroke="#000" stroke-width="1.2"/>
<ellipse cx="429.99" cy="246.89" rx="1.4" ry="3.47" fill="none" stroke="#000" stroke-width="1.2"/>
<ellipse cx="432.15" cy="240.92" rx="1.5" ry="3.24" fill="none" stroke="#000" stroke-width="1.2"/>
<ellipse cx="431.69" cy="244.67" rx="1.54" ry="2.86" fill="none" stroke="#000" stroke-width="1.2"/>
<ellipse cx="434.39" cy="242.26" rx="0.9" ry="2.78" fill="none" stroke="#000" stroke-width="1.2"/>
<ellipse cx="433.87" cy="244.37" rx="1.6" ry="3.66" fill="#000"/>
<ellipse cx="435.76" cy="240.21" rx="1.22" ry="2.53" fill="none" stroke="#000" stroke-width="1.2"/>
<ellipse cx="436.24" cy="243.51" rx="1.04" ry="2.8" fill="none" stroke="#000" stroke-width="1.2"/>
<ellipse cx="438.22" cy="237.87" rx="1.13" ry="2.71" fill="none" stroke="#000" stroke-width="1.2"/>
<ellipse cx="437.58" cy="244.96" rx="1.38" ry="2.64" fill="none" stroke="#000" stroke-width="1.2"/>
<ellipse cx="439.73" cy="235.62" rx="1.23" ry="2.92" fill="none" stroke="#000" stroke-width="1.2"/>
<ellipse cx="439.74" cy="243.31" rx="1.62" ry="3.46" fill="#000"/>
<ellipse cx="441.63" cy="236.21" rx="1.47" ry="3.52" fill="none" stroke="#000" stroke-width="1.2"/>
<ellipse cx="441.42" cy="240.95" rx="1.25" ry="2.45" fill="none" stroke="#000" stroke-width="1.2"/>
<ellipse cx="444.24" cy="235.01" rx="1.28" ry="2.51" fill="none" stroke="#000" stroke-width="1.2"/>
<ellipse cx="443.94" cy="240.1" rx="2.13" ry="3.44" fill="#000"/>
<ellipse cx="446.35" cy="234.43" rx="0.93" ry="2.63" fill="none" stroke="#000" stroke-width="1.2"/>
<ellipse cx="446.06" cy="238.12" rx="1.06" ry="3.36" fill="none" stroke="#000" stroke-width="1.2"/>
<ellipse cx="448.51" cy="233.11" rx="1.31" ry="2.5" fill="none" stroke="#000" stroke-width="1.2"/>
<ellipse cx="448.3" cy="237.9" rx="2.03" ry="3.23" fill="#000"/>
<ellipse cx="450.38" cy="231.13" rx="1.23" ry="3.36" fill="none" stroke="#000" stroke-width="1.2"/>
<ellipse cx="449.72" cy="236.31" rx="1.15" ry="2.76" fill="none" stroke="#000" stroke-width="1.2"/>
<ellipse cx="452.47" cy="231.27" rx="1.86" ry="3.81" fill="#000"/>
<ellipse cx="451.72" cy="236.13" rx="0.94" ry="2.44" fill="none" stroke="#000" stroke-width="1.2"/>
<ellipse cx="454.22" cy="229.92" rx="0.97" ry="3.52" fill="none" stroke="#000" stroke-width="1.2"/>
<ellipse cx="453.89" cy="234.8" rx="1.38" ry="3.27" fill="none" stroke="#000" stroke-width="1.2"/>
<ellipse cx="455.49" cy="229.63" rx="0.93" ry="2.82" fill="none" stroke="#000" stroke-width="1.2"/>
<ellipse cx="456.15" cy="233.88" rx="1.02" ry="3.25" fill="none" stroke="#000" stroke-width="1.2"/>
<ellipse cx="457.59" cy="229.42" rx="2.13" ry="3.82" fill="#000"/>
<ellipse cx="458.33" cy="232.39" rx="1.53" ry="3.04" fill="none" stroke="#000" stroke-width="1.2"/>
<ellipse cx="460.56" cy="226.28" rx="2.16" ry="3.95" fill="#000"/>
<ellipse cx="459.82" cy="233.96" rx="1.33" ry="3.13" fill="none" stroke="#000" stroke-width="1.2"/>
<ellipse cx="462.18" cy="227.91" rx="1.88" ry="4.06" fill="#000"/>
<ellipse cx="462.6" cy="233.51" rx="1.29" ry="3.33" fill="none" stroke="#000" stroke-width="1.2"/>
<ellipse cx="464.46" cy="225.91" rx="1.18" ry="2.61" fill="none" stroke="#000" stroke-width="1.2"/>
<ellipse cx="464.38" cy="231.38" rx="1.75" ry="3.16" fill="#000"/>
<ellipse cx="465.91" cy="225.15" rx="1.97" ry="3.25" fill="#000"/>
<ellipse cx="466.51" cy="230.22" rx="1.27" ry="3.47" fill="none" stroke="#000" stroke-width="1.2"/>
<ellipse cx="467.55" cy="224.55" rx="1.35" ry="3.33" fill="none" stroke="#000" stroke-width="1.2"/>
<ellipse cx="468.18" cy="230.34" rx="1.08" ry="2.92" fill="none" stroke="#000" stroke-width="1.2"/>
<ellipse cx="469.99" cy="223.52" rx="1.22" ry="2.44" fill="none" stroke="#000" stroke-width="1.2"/>
<ellipse cx="470.1" cy="229.61" rx="1.46" ry="3.28" fill="none" stroke="#000" stroke-width="1.2"/>
<ellipse cx="472.59" cy="222.16" rx="0.9" ry="3.2" fill="none" stroke="#000" stroke-width="1.2"/>
<ellipse cx="472.09" cy="228.29" rx="2.2" ry="3.24" fill="#000"/>
<ellipse cx="474.28" cy="222.2" rx="0.94" ry="2.84" fill="none" stroke="#000" stroke-width="1.2"/>
<ellipse cx="474" cy="226" rx="1.22" ry="2.87" fill="none" stroke="#000" stroke-width="1.2"/>
<ellipse cx="476.12" cy="220.41" rx="2.03" ry="3.45" fill="#000"/>
<ellipse cx="476.34" cy="224.47" rx="2.06" ry="4.11" fill="#000"/>
<ellipse cx="478.42" cy="220.34" rx="1.72" ry="3.76" fill="#000"/>
<ellipse cx="478.4" cy="224.88" rx="1.69" ry="3.82" fill="#000"/>
<ellipse cx="479.66" cy="219.46" rx="1.4" ry="2.66" fill="none" stroke="#000" stroke-width="1.2"/>
<ellipse cx="479.8" cy="225.11" rx="1.95" ry="3.44" fill="#000"/>
<ellipse cx="480.55" cy="221.84" rx="2.2" ry="2.42" fill="#000"/>
<ellipse cx="482.38" cy="220.9" rx="1.08" ry="2.67" fill="none" stroke="#000" stroke-width="1.2"/>
<ellipse cx="484.95" cy="219.19" rx="1.55" ry="2.42" fill="none" stroke="#000" stroke-width="1.2"/>
<ellipse cx="486.85" cy="220.04" rx="0.84" ry="2.66" fill="none" stroke="#000" stroke-width="1.2"/>
<ellipse cx="488.57" cy="218.57" rx="1.27" ry="2.73" fill="none" stroke="#000" stroke-width="1.2"/>
<ellipse cx="491.55" cy="218.71" rx="1.25" ry="2.44" fill="none" stroke="#000" stroke-width="1.2"/>
<ellipse cx="492.91" cy="216.78" rx="1.42" ry="2.75" fill="none" stroke="#000" stroke-width="1.2"/>
<ellipse cx="494.97" cy="214.76" rx="2.06" ry="3" fill="#000"/>
<ellipse cx="497.06" cy="213.79" rx="1.54" ry="2.21" fill="none" stroke="#000" stroke-width="1.2"/>
<ellipse cx="499.69" cy="213.04" rx="1.33" ry="2.7" fill="none" stroke="#000" stroke-width="1.2"/>
<ellipse cx="501.85" cy="211.47" rx="1.28" ry="2.25" fill="none" stroke="#000" stroke-width="1.2"/>
<ellipse cx="504.41" cy="210.9" rx="1.22" ry="1.71" fill="none" stroke="#000" stroke-width="1.2"/>
<ellipse cx="506.23" cy="209.52" rx="1.54" ry="2.74" fill="none" stroke="#000" stroke-width="1.2"/>
<ellipse cx="508.48" cy="209.98" rx="1.48" ry="3.27" fill="#000"/>
<ellipse cx="510.86" cy="208.16" rx="1.69" ry="2.43" fill="#000"/>
<ellipse cx="513.04" cy="208.52" rx="1.44" ry="2.38" fill="none" stroke="#000" stroke-width="1.2"/>
<ellipse cx="515.43" cy="207.88" rx="1.46" ry="2.71" fill="none" stroke="#000" stroke-width="1.2"/>
<ellipse cx="517.82" cy="206.23" rx="1.2" ry="2.23" fill="none" stroke="#000" stroke-width="1.2"/>
<ellipse cx="520.19" cy="204.85" rx="1.38" ry="2.37" fill="none" stroke="#000" stroke-width="1.2"/>
<ellipse cx="522.14" cy="202.75" rx="1.46" ry="2.33" fill="none" stroke="#000" stroke-width="1.2"/>
<ellipse cx="523.42" cy="201.46" rx="1.07" ry="1.81" fill="none" stroke="#000" stroke-width="1.2"/>
<ellipse cx="526.12" cy="201.87" rx="1.02" ry="1.65" fill="none" stroke="#000" stroke-width="1.2"/>
<ellipse cx="527.51" cy="203.9" rx="0.87" ry="2.51" fill="none" stroke="#000" stroke-width="1.2"/>
<ellipse cx="528.84" cy="199.93" rx="0.9" ry="2.03" fill="none" stroke="#000" stroke-width="1.2"/>
<ellipse cx="530.27" cy="199.72" rx="0.87" ry="2.65" fill="none" stroke="#000" stroke-width="1.2"/>
<ellipse cx="532.42" cy="199.29" rx="1.99" ry="2.83" fill="#000"/>
<ellipse cx="534.54" cy="196.96" rx="1.3" ry="2.96" fill="none" stroke="#000" stroke-width="1.2"/>
<ellipse cx="536.31" cy="196.76" rx="1.09" ry="2.49" fill="none" stroke="#000" stroke-width="1.2"/>
<ellipse cx="537.58" cy="198.1" rx="1.37" ry="2.51" fill="none" stroke="#000" stroke-width="1.2"/>
<ellipse cx="539.77" cy="196.87" rx="0.95" ry="2.01" fill="none" stroke="#000" stroke-width="1.2"/>
<ellipse cx="541.78" cy="195.55" rx="1.48" ry="2.45" fill="#000"/>
<ellipse cx="543.29" cy="195.08" rx="1.46" ry="2.2" fill="none" stroke="#000" stroke-width="1.2"/>
<ellipse cx="544.75" cy="192.99" rx="1.84" ry="2.71" fill="#000"/>
<ellipse cx="547.14" cy="194.82" rx="1.97" ry="3.39" fill="#000"/>
<ellipse cx="548.65" cy="193.43" rx="1.56" ry="2" fill="none" stroke="#000" stroke-width="1.2"/>
<ellipse cx="549.87" cy="190.41" rx="1.13" ry="1.83" fill="none" stroke="#000" stroke-width="1.2"/>
<ellipse cx="552.42" cy="192.51" rx="1.56" ry="2.45" fill="none" stroke="#000" stroke-width="1.2"/>
<ellipse cx="553.25" cy="187.77" rx="1.6" ry="2.63" fill="none" stroke="#000" stroke-width="1.2"/>
<ellipse cx="552.51" cy="192.07" rx="1.43" ry="2.58" fill="none" stroke="#000" stroke-width="1.2"/>
<ellipse cx="555.07" cy="186.81" rx="2.11" ry="4.19" fill="#000"/>
<ellipse cx="554.82" cy="190.87" rx="1.57" ry="3.29" fill="none" stroke="#000" stroke-width="1.2"/>
<ellipse cx="556.37" cy="186.28" rx="2.03" ry="4.01" fill="#000"/>
<ellipse cx="556.39" cy="190.86" rx="1.11" ry="3.05" fill="none" stroke="#000" stroke-width="1.2"/>
<ellipse cx="558.87" cy="185.81" rx="2.13" ry="3.08" fill="#000"/>
<ellipse cx="558.6" cy="189.87" rx="1.46" ry="3.38" fill="none" stroke="#000" stroke-width="1.2"/>
<ellipse cx="560.63" cy="184.28" rx="1.55" ry="2.51" fill="none" stroke="#000" stroke-width="1.2"/>
<ellipse cx="559.79" cy="190.73" rx="1" ry="2.98" fill="none" stroke="#000" stroke-width="1.2"/>
<ellipse cx="562.57" cy="184.29" rx="1.6" ry="3.32" fill="none" stroke="#000" stroke-width="1.2"/>
<ellipse cx="561.69" cy="189.34" rx="1.34" ry="2.71" fill="none" stroke="#000" stroke-width="1.2"/>
<ellipse cx="563.98" cy="181.77" rx="1.18" ry="2.96" fill="none" stroke="#000" stroke-width="1.2"/>
<ellipse cx="563.5" cy="188.77" rx="1.03" ry="3.09" fill="none" stroke="#000" stroke-width="1.2"/>
<ellipse cx="566.05" cy="182.11" rx="1.54" ry="3.54" fill="#000"/>
<ellipse cx="565.54" cy="187.87" rx="1.43" ry="2.44" fill="none" stroke="#000" stroke-width="1.2"/>
<ellipse cx="567.65" cy="181.7" rx="1.3" ry="2.89" fill="none" stroke="#000" stroke-width="1.2"/>
<ellipse cx="567.06" cy="185.4" rx="1.71" ry="3.35" fill="#000"/>
<ellipse cx="569.69" cy="180.89" rx="0.91" ry="2.71" fill="none" stroke="#000" stroke-width="1.2"/>
<ellipse cx="569.43" cy="184.45" rx="1.19" ry="3.16" fill="none" stroke="#000" stroke-width="1.2"/>
<ellipse cx="570.72" cy="178.77" rx="1.12" ry="3.27" fill="none" stroke="#000" stroke-width="1.2"/>
<ellipse cx="570.42" cy="185.68" rx="1.22" ry="2.48" fill="none" stroke="#000" stroke-width="1.2"/>
<ellipse cx="573.21" cy="177.3" rx="1.65" ry="3.53" fill="#000"/>
<ellipse cx="572.26" cy="183.67" rx="1.48" ry="2.46" fill="none" stroke="#000" stroke-width="1.2"/>
<ellipse cx="574.67" cy="178.13" rx="2.14" ry="3.95" fill="#000"/>
<ellipse cx="574.22" cy="182.96" rx="1.6" ry="3.6" fill="#000"/>
<ellipse cx="576.76" cy="176.18" rx="1.08" ry="3.18" fill="none" stroke="#000" stroke-width="1.2"/>
<ellipse cx="576.58" cy="182.45" rx="1.19" ry="3.59" fill="none" stroke="#000" stroke-width="1.2"/>
<ellipse cx="578.6" cy="176.36" rx="1.01" ry="2.56" fill="none" stroke="#000" stroke-width="1.2"/>
<ellipse cx="577.94" cy="182.08" rx="1.51" ry="2.68" fill="none" stroke="#000" stroke-width="1.2"/>
<ellipse cx="579.7" cy="175.4" rx="1.93" ry="4.14" fill="#000"/>
<ellipse cx="579.72" cy="182.11" rx="0.94" ry="2.66" fill="none" stroke="#000" stroke-width="1.2"/>
<ellipse cx="581.88" cy="174.36" rx="2.03" ry="3.83" fill="#000"/>
<ellipse cx="581.26" cy="180.2" rx="1.02" ry="3.38" fill="none" stroke="#000" stroke-width="1.2"/>
<ellipse cx="583.27" cy="174.37" rx="1.98" ry="3.9" fill="#000"/>
<ellipse cx="583.39" cy="179.99" rx="1.07" ry="3.53" fill="none" stroke="#000" stroke-width="1.2"/>
<ellipse cx="585.93" cy="173.58" rx="1.3" ry="3.52" fill="none" stroke="#000" stroke-width="1.2"/>
<ellipse cx="585.07" cy="179.66" rx="1.47" ry="3.54" fill="none" stroke="#000" stroke-width="1.2"/>
<ellipse cx="587" cy="173.49" rx="1.55" ry="2.83" fill="none" stroke="#000" stroke-width="1.2"/>
<ellipse cx="587.28" cy="178.19" rx="1.07" ry="2.53" fill="none" stroke="#000" stroke-width="1.2"/>
<ellipse cx="589.56" cy="172.44" rx="1.45" ry="3.4" fill="none" stroke="#000" stroke-width="1.2"/>
<ellipse cx="588.83" cy="176.48" rx="1.04" ry="3.24" fill="none" stroke="#000" stroke-width="1.2"/>
<ellipse cx="590.46" cy="171.43" rx="1.48" ry="3.46" fill="none" stroke="#000" stroke-width="1.2"/>
<ellipse cx="590.93" cy="176.49" rx="1.4" ry="2.59" fill="none" stroke="#000" stroke-width="1.2"/>
<ellipse cx="592.54" cy="170.73" rx="1.49" ry="2.57" fill="none" stroke="#000" stroke-width="1.2"/>
<ellipse cx="593.07" cy="175.06" rx="1.55" ry="3.58" fill="#000"/>
<ellipse cx="594.41" cy="167.61" rx="1.24" ry="3.49" fill="none" stroke="#000" stroke-width="1.2"/>
<ellipse cx="594.81" cy="174.81" rx="1.15" ry="2.51" fill="none" stroke="#000" stroke-width="1.2"/>
<ellipse cx="595.73" cy="168.49" rx="1.32" ry="3.32" fill="none" stroke="#000" stroke-width="1.2"/>
<ellipse cx="595.84" cy="173.49" rx="1.02" ry="2.91" fill="none" stroke="#000" stroke-width="1.2"/>
<ellipse cx="597.71" cy="167.34" rx="1.54" ry="3.65" fill="#000"/>
<ellipse cx="597.96" cy="173.23" rx="2.02" ry="3.8" fill="#000"/>
<ellipse cx="599.98" cy="166.09" rx="0.9" ry="2.74" fill="none" stroke="#000" stroke-width="1.2"/>
<ellipse cx="599.87" cy="172.1" rx="1.25" ry="3.04" fill="none" stroke="#000" stroke-width="1.2"/>
<ellipse cx="601.88" cy="167.42" rx="2.13" ry="3.69" fill="#000"/>
<ellipse cx="601.44" cy="170.51" rx="1.5" ry="3.33" fill="none" stroke="#000" stroke-width="1.2"/>
<ellipse cx="602.95" cy="166.63" rx="1.2" ry="2.63" fill="none" stroke="#000" stroke-width="1.2"/>
<ellipse cx="603.08" cy="172" rx="1.55" ry="3.15" fill="none" stroke="#000" stroke-width="1.2"/>
<ellipse cx="605.53" cy="165.49" rx="1.5" ry="2.92" fill="none" stroke="#000" stroke-width="1.2"/>
<ellipse cx="605.5" cy="170.86" rx="1.32" ry="3.26" fill="none" stroke="#000" stroke-width="1.2"/>
<ellipse cx="579.26" cy="187.14" rx="0.6" ry="1.36" fill="#000"/>
<ellipse cx="596.83" cy="179.51" rx="0.6" ry="1.45" fill="#000"/>
<ellipse cx="546.6" cy="199.75" rx="0.6" ry="1.46" fill="#000"/>
<ellipse cx="580.69" cy="187.47" rx="0.6" ry="0.88" fill="#000"/>
<ellipse cx="570.8" cy="187.83" rx="0.6" ry="1.18" fill="#000"/>
<ellipse cx="576.57" cy="183.93" rx="0.6" ry="0.95" fill="#000"/>
<ellipse cx="560.37" cy="196.34" rx="0.6" ry="1.34" fill="#000"/>
<ellipse cx="553.78" cy="198.45" rx="0.6" ry="0.9" fill="#000"/>
<ellipse cx="578.96" cy="183.58" rx="0.6" ry="0.8" fill="#000"/>
<ellipse cx="592.93" cy="178.02" rx="0.6" ry="0.95" fill="#000"/>
<ellipse cx="599.03" cy="179.44" rx="0.6" ry="1" fill="#000"/>
<ellipse cx="597.88" cy="177.89" rx="0.6" ry="1.27" fill="#000"/>
<ellipse cx="556.26" cy="198.25" rx="0.6" ry="1.28" fill="#000"/>
<ellipse cx="598.16" cy="179.91" rx="0.6" ry="1.01" fill="#000"/>
<ellipse cx="564.87" cy="189.91" rx="0.6" ry="0.9" fill="#000"/>
<ellipse cx="548.58" cy="197.85" rx="0.6" ry="1.22" fill="#000"/>
<ellipse cx="202.67" cy="234.5" rx="0.6" ry="1.6" fill="#000"/>
<ellipse cx="206" cy="234.5" rx="0.6" ry="1.6" fill="#000"/>
<ellipse cx="209.33" cy="234.5" rx="0.6" ry="1.6" fill="#000"/>
<circle cx="169.5" cy="240.2" r="0.5" fill="#000"/>
<ellipse cx="136.6" cy="300.1" rx="2.1" ry="2.4" fill="none" stroke="#000" stroke-width="1.4"/>
<ellipse cx="119.25" cy="310.5" rx="1.25" ry="2.62" fill="#000"/>
<ellipse cx="121.75" cy="310.5" rx="1.25" ry="2.62" fill="#000"/>
<ellipse cx="120.2" cy="317.4" rx="1.5" ry="2.1" fill="none" stroke="#000" stroke-width="1.4"/>
<ellipse cx="80.75" cy="317.1" rx="1.19" ry="3.7" fill="#000"/>
<ellipse cx="84.25" cy="317.1" rx="1.19" ry="3.7" fill="#000"/>
<ellipse cx="87.75" cy="317.1" rx="1.19" ry="3.7" fill="#000"/>
<ellipse cx="171.32" cy="321.55" rx="1.24" ry="3.95" fill="#000"/>
<ellipse cx="174.95" cy="321.55" rx="1.24" ry="3.95" fill="#000"/>
<ellipse cx="178.58" cy="321.55" rx="1.24" ry="3.95" fill="#000"/>
<ellipse cx="223.83" cy="238.5" rx="0.6" ry="2.8" fill="#000"/>
<ellipse cx="227.5" cy="238.5" rx="0.6" ry="2.8" fill="#000"/>
<ellipse cx="231.17" cy="238.5" rx="0.6" ry="2.8" fill="#000"/>
<ellipse cx="233.35" cy="246.6" rx="1.19" ry="3.7" fill="#000"/>
<ellipse cx="236.85" cy="246.6" rx="1.19" ry="3.7" fill="#000"/>
<ellipse cx="240.35" cy="246.6" rx="1.19" ry="3.7" fill="#000"/>
<ellipse cx="279.5" cy="239.5" rx="0.6" ry="1.2" fill="#000"/>
<ellipse cx="282.5" cy="239.5" rx="0.6" ry="1.2" fill="#000"/>
<ellipse cx="357.9" cy="238.9" rx="1.43" ry="3.4" fill="#000"/>
<ellipse cx="362.1" cy="238.9" rx="1.43" ry="3.4" fill="#000"/>
<ellipse cx="356.5" cy="231.25" rx="0.6" ry="1.4" fill="#000"/>
<ellipse cx="359.5" cy="231.25" rx="0.6" ry="1.4" fill="#000"/>
<ellipse cx="342.87" cy="257.65" rx="1.27" ry="3.15" fill="#000"/>
<ellipse cx="346.6" cy="257.65" rx="1.27" ry="3.15" fill="#000"/>
<ellipse cx="350.33" cy="257.65" rx="1.27" ry="3.15" fill="#000"/>
<ellipse cx="356.38" cy="258.45" rx="1.68" ry="1.94" fill="#000"/>
<ellipse cx="359.75" cy="258.45" rx="1.68" ry="1.94" fill="#000"/>
<ellipse cx="363.12" cy="258.45" rx="1.68" ry="1.94" fill="#000"/>
<ellipse cx="356.38" cy="262.15" rx="1.68" ry="1.94" fill="#000"/>
<ellipse cx="359.75" cy="262.15" rx="1.68" ry="1.94" fill="#000"/>
<ellipse cx="363.12" cy="262.15" rx="1.68" ry="1.94" fill="#000"/>
<ellipse cx="342.1" cy="281.3" rx="1.4" ry="3" fill="none" stroke="#000" stroke-width="1.4"/>
<ellipse cx="346.3" cy="281.3" rx="1.4" ry="3" fill="none" stroke="#000" stroke-width="1.4"/>
<ellipse cx="350.5" cy="281.3" rx="1.4" ry="3" fill="none" stroke="#000" stroke-width="1.4"/>
<ellipse cx="356.82" cy="276.05" rx="1.42" ry="2.95" fill="none" stroke="#000" stroke-width="1.4"/>
<ellipse cx="361.05" cy="276.05" rx="1.42" ry="2.95" fill="none" stroke="#000" stroke-width="1.4"/>
<ellipse cx="365.28" cy="276.05" rx="1.42" ry="2.95" fill="none" stroke="#000" stroke-width="1.4"/>
<ellipse cx="321.75" cy="291.55" rx="1.05" ry="2.65" fill="none" stroke="#000" stroke-width="1.4"/>
<ellipse cx="325.25" cy="291.55" rx="1.05" ry="2.65" fill="none" stroke="#000" stroke-width="1.4"/>
<ellipse cx="300.7" cy="299.25" rx="1" ry="4.05" fill="none" stroke="#000" stroke-width="1.4"/>
<ellipse cx="304.1" cy="299.25" rx="1" ry="4.05" fill="none" stroke="#000" stroke-width="1.4"/>
<ellipse cx="307.5" cy="299.25" rx="1" ry="4.05" fill="none" stroke="#000" stroke-width="1.4"/>
<ellipse cx="310.9" cy="299.25" rx="1" ry="4.05" fill="none" stroke="#000" stroke-width="1.4"/>
<ellipse cx="292.35" cy="308.15" rx="1.26" ry="6.35" fill="#000"/>
<ellipse cx="296.05" cy="308.15" rx="1.26" ry="6.35" fill="#000"/>
<ellipse cx="274.19" cy="304.98" rx="1.59" ry="3.33" fill="#000"/>
<ellipse cx="277.36" cy="304.98" rx="1.59" ry="3.33" fill="#000"/>
<ellipse cx="280.54" cy="304.98" rx="1.59" ry="3.33" fill="#000"/>
<ellipse cx="283.71" cy="304.98" rx="1.59" ry="3.33" fill="#000"/>
<ellipse cx="274.19" cy="311.32" rx="1.59" ry="3.33" fill="#000"/>
<ellipse cx="277.36" cy="311.32" rx="1.59" ry="3.33" fill="#000"/>
<ellipse cx="280.54" cy="311.32" rx="1.59" ry="3.33" fill="#000"/>
<ellipse cx="283.71" cy="311.32" rx="1.59" ry="3.33" fill="#000"/>
<circle cx="282" cy="320.8" r="0.6" fill="#000"/>
<ellipse cx="250.24" cy="316.42" rx="1.84" ry="3.18" fill="#000"/>
<ellipse cx="253.93" cy="316.42" rx="1.84" ry="3.18" fill="#000"/>
<ellipse cx="257.61" cy="316.42" rx="1.84" ry="3.18" fill="#000"/>
<ellipse cx="261.29" cy="316.42" rx="1.84" ry="3.18" fill="#000"/>
<ellipse cx="264.98" cy="316.42" rx="1.84" ry="3.18" fill="#000"/>
<ellipse cx="268.66" cy="316.42" rx="1.84" ry="3.18" fill="#000"/>
<ellipse cx="250.24" cy="322.48" rx="1.84" ry="3.18" fill="#000"/>
<ellipse cx="253.93" cy="322.48" rx="1.84" ry="3.18" fill="#000"/>
<ellipse cx="257.61" cy="322.48" rx="1.84" ry="3.18" fill="#000"/>
<ellipse cx="261.29" cy="322.48" rx="1.84" ry="3.18" fill="#000"/>
<ellipse cx="264.98" cy="322.48" rx="1.84" ry="3.18" fill="#000"/>
<ellipse cx="268.66" cy="322.48" rx="1.84" ry="3.18" fill="#000"/>
<ellipse cx="257.33" cy="309.25" rx="0.6" ry="1.4" fill="#000"/>
<ellipse cx="260" cy="309.25" rx="0.6" ry="1.4" fill="#000"/>
<ellipse cx="262.67" cy="309.25" rx="0.6" ry="1.4" fill="#000"/>
<ellipse cx="393.12" cy="231.35" rx="2.62" ry="3.31" fill="#000"/>
<ellipse cx="398.38" cy="231.35" rx="2.62" ry="3.31" fill="#000"/>
<ellipse cx="392.75" cy="238.65" rx="2.05" ry="2.45" fill="none" stroke="#000" stroke-width="1.4"/>
<ellipse cx="398.25" cy="238.65" rx="2.05" ry="2.45" fill="none" stroke="#000" stroke-width="1.4"/>
<ellipse cx="409.12" cy="246.38" rx="2.62" ry="3.02" fill="#000"/>
<ellipse cx="414.38" cy="246.38" rx="2.62" ry="3.02" fill="#000"/>
<ellipse cx="409.12" cy="252.12" rx="2.62" ry="3.02" fill="#000"/>
<ellipse cx="414.38" cy="252.12" rx="2.62" ry="3.02" fill="#000"/>
<ellipse cx="423.65" cy="246.22" rx="2.65" ry="3.49" fill="#000"/>
<ellipse cx="428.95" cy="246.22" rx="2.65" ry="3.49" fill="#000"/>
<ellipse cx="423.65" cy="252.88" rx="2.65" ry="3.49" fill="#000"/>
<ellipse cx="428.95" cy="252.88" rx="2.65" ry="3.49" fill="#000"/>
<rect x="439" y="257.6" width="10" height="6.4" rx="1.8" ry="1.8" fill="#000"/>
<rect x="455.8" y="257" width="10.5" height="7" rx="1.8" ry="1.8" fill="#000"/>
<rect x="439" y="272.4" width="10" height="6.3" rx="1.8" ry="1.8" fill="#000"/>
<rect x="456" y="273.8" width="10" height="5.5" rx="1.8" ry="1.8" fill="#000"/>
<ellipse cx="392.38" cy="275.5" rx="2.17" ry="3.1" fill="none" stroke="#000" stroke-width="1.4"/>
<ellipse cx="398.12" cy="275.5" rx="2.17" ry="3.1" fill="none" stroke="#000" stroke-width="1.4"/>
<ellipse cx="400.98" cy="281.3" rx="2.47" ry="3.88" fill="#000"/>
<ellipse cx="405.92" cy="281.3" rx="2.47" ry="3.88" fill="#000"/>
<ellipse cx="486.98" cy="299.95" rx="1.14" ry="3.35" fill="#000"/>
<ellipse cx="490.35" cy="299.95" rx="1.14" ry="3.35" fill="#000"/>
<ellipse cx="493.72" cy="299.95" rx="1.14" ry="3.35" fill="#000"/>
<ellipse cx="535.5" cy="252" rx="1.02" ry="2" fill="#000"/>
<ellipse cx="538.5" cy="252" rx="1.02" ry="2" fill="#000"/>
<circle cx="501" cy="242.9" r="0.5" fill="#000"/>
<ellipse cx="572.67" cy="227.5" rx="0.6" ry="1.2" fill="#000"/>
<ellipse cx="576" cy="227.5" rx="0.6" ry="1.2" fill="#000"/>
<ellipse cx="579.33" cy="227.5" rx="0.6" ry="1.2" fill="#000"/>
<ellipse cx="572.67" cy="235" rx="0.6" ry="1.6" fill="#000"/>
<ellipse cx="576" cy="235" rx="0.6" ry="1.6" fill="#000"/>
<ellipse cx="579.33" cy="235" rx="0.6" ry="1.6" fill="#000"/>
<ellipse cx="591.5" cy="238.7" rx="1.36" ry="3.6" fill="#000"/>
<ellipse cx="595.5" cy="238.7" rx="1.36" ry="3.6" fill="#000"/>
<ellipse cx="599.5" cy="238.7" rx="1.36" ry="3.6" fill="#000"/>
<ellipse cx="612.95" cy="231.35" rx="1.19" ry="3.15" fill="#000"/>
<ellipse cx="616.45" cy="231.35" rx="1.19" ry="3.15" fill="#000"/>
<ellipse cx="619.95" cy="231.35" rx="1.19" ry="3.15" fill="#000"/>
<rect x="561.7" y="253.4" width="10.3" height="7" rx="1.8" ry="1.8" fill="#000"/>
<ellipse cx="579.5" cy="257" rx="0.6" ry="1.6" fill="#000"/>
<ellipse cx="582.5" cy="257" rx="0.6" ry="1.6" fill="#000"/>
<ellipse cx="585.5" cy="257" rx="0.6" ry="1.6" fill="#000"/>
<rect x="561.7" y="278" width="10.3" height="6.4" rx="1.8" ry="1.8" fill="#000"/>
<ellipse cx="579.5" cy="282" rx="0.6" ry="1.6" fill="#000"/>
<ellipse cx="582.5" cy="282" rx="0.6" ry="1.6" fill="#000"/>
<ellipse cx="585.5" cy="282" rx="0.6" ry="1.6" fill="#000"/>
<ellipse cx="620.5" cy="302" rx="0.9" ry="2.3" fill="#000"/>
<ellipse cx="623.5" cy="302" rx="0.9" ry="2.3" fill="#000"/>
<ellipse cx="626.5" cy="302" rx="0.9" ry="2.3" fill="#000"/>
<ellipse cx="644.53" cy="297.6" rx="1.13" ry="2.9" fill="none" stroke="#000" stroke-width="1.4"/>
<ellipse cx="648.2" cy="297.6" rx="1.13" ry="2.9" fill="none" stroke="#000" stroke-width="1.4"/>
<ellipse cx="651.87" cy="297.6" rx="1.13" ry="2.9" fill="none" stroke="#000" stroke-width="1.4"/>
<ellipse cx="656.35" cy="291.85" rx="1.12" ry="3.65" fill="#000"/>
<ellipse cx="659.65" cy="291.85" rx="1.12" ry="3.65" fill="#000"/>
<ellipse cx="662.95" cy="291.85" rx="1.12" ry="3.65" fill="#000"/>
<ellipse cx="580.57" cy="311.35" rx="0.6" ry="2.52" fill="#000"/>
<ellipse cx="583.7" cy="311.35" rx="0.6" ry="2.52" fill="#000"/>
<ellipse cx="586.83" cy="311.35" rx="0.6" ry="2.52" fill="#000"/>
<ellipse cx="120" cy="381" rx="1.95" ry="2.35" fill="none" stroke="#000" stroke-width="1.3"/>
<ellipse cx="132.62" cy="373.5" rx="1.44" ry="4.2" fill="#000"/>
<ellipse cx="136.85" cy="373.5" rx="1.44" ry="4.2" fill="#000"/>
<ellipse cx="141.08" cy="373.5" rx="1.44" ry="4.2" fill="#000"/>
<ellipse cx="136.75" cy="359.75" rx="0.6" ry="1.4" fill="#000"/>
<ellipse cx="139.25" cy="359.75" rx="0.6" ry="1.4" fill="#000"/>
<ellipse cx="153" cy="365.5" rx="1.7" ry="1.9" fill="#000"/>
<ellipse cx="159.25" cy="361.75" rx="0.6" ry="1.4" fill="#000"/>
<ellipse cx="161.75" cy="361.75" rx="0.6" ry="1.4" fill="#000"/>
<ellipse cx="167.5" cy="357.5" rx="1.6" ry="2.9" fill="none" stroke="#000" stroke-width="1.4"/>
<ellipse cx="171.67" cy="357.1" rx="1.13" ry="4.2" fill="#000"/>
<ellipse cx="175" cy="357.1" rx="1.13" ry="4.2" fill="#000"/>
<ellipse cx="178.33" cy="357.1" rx="1.13" ry="4.2" fill="#000"/>
<circle cx="169.5" cy="373.5" r="0.5" fill="#000"/>
<ellipse cx="171.25" cy="321.85" rx="1.19" ry="3.65" fill="#000"/>
<ellipse cx="174.75" cy="321.85" rx="1.19" ry="3.65" fill="#000"/>
<ellipse cx="178.25" cy="321.85" rx="1.19" ry="3.65" fill="#000"/>
<ellipse cx="76.01" cy="400.68" rx="1.39" ry="1.92" fill="none" stroke="#000" stroke-width="1.1"/>
<ellipse cx="80.94" cy="394.86" rx="1.06" ry="2.08" fill="none" stroke="#000" stroke-width="1.1"/>
<ellipse cx="62.94" cy="396.7" rx="0.72" ry="2.26" fill="none" stroke="#000" stroke-width="1.1"/>
<ellipse cx="94.71" cy="402.14" rx="1.69" ry="2.16" fill="#000"/>
<ellipse cx="78.79" cy="392.92" rx="1.35" ry="2.24" fill="#000"/>
<ellipse cx="76.43" cy="398.83" rx="1.32" ry="1.97" fill="none" stroke="#000" stroke-width="1.1"/>
<ellipse cx="77.74" cy="402.27" rx="1.02" ry="1.73" fill="none" stroke="#000" stroke-width="1.1"/>
<ellipse cx="85.34" cy="396.89" rx="1.38" ry="2.29" fill="#000"/>
<ellipse cx="87.47" cy="398.21" rx="1.33" ry="1.84" fill="none" stroke="#000" stroke-width="1.1"/>
<ellipse cx="67.15" cy="406.11" rx="1.58" ry="2.98" fill="#000"/>
<ellipse cx="62.17" cy="401.76" rx="1.82" ry="2.27" fill="#000"/>
<ellipse cx="71.64" cy="406.94" rx="1.81" ry="2.12" fill="#000"/>
<ellipse cx="79.91" cy="398.94" rx="1.35" ry="2.73" fill="#000"/>
<ellipse cx="74.86" cy="395.3" rx="0.87" ry="2.42" fill="none" stroke="#000" stroke-width="1.1"/>
<ellipse cx="70.6" cy="405.72" rx="0.82" ry="1.84" fill="none" stroke="#000" stroke-width="1.1"/>
<ellipse cx="68.93" cy="403.98" rx="1.46" ry="2.3" fill="#000"/>
<ellipse cx="62.79" cy="401.03" rx="1.39" ry="2.6" fill="#000"/>
<ellipse cx="77.16" cy="400.91" rx="1.89" ry="2.18" fill="#000"/>
<ellipse cx="68.61" cy="394.94" rx="1.79" ry="2.94" fill="#000"/>
<ellipse cx="81.53" cy="398.53" rx="0.73" ry="1.49" fill="none" stroke="#000" stroke-width="1.1"/>
<ellipse cx="68.2" cy="402.92" rx="0.86" ry="2.27" fill="none" stroke="#000" stroke-width="1.1"/>
<ellipse cx="70.21" cy="394.72" rx="1.78" ry="2.07" fill="#000"/>
<ellipse cx="79.92" cy="405.21" rx="1.14" ry="1.73" fill="none" stroke="#000" stroke-width="1.1"/>
<ellipse cx="69.33" cy="398.91" rx="1.25" ry="2.18" fill="#000"/>
<ellipse cx="80.38" cy="394.04" rx="0.94" ry="2.34" fill="none" stroke="#000" stroke-width="1.1"/>
<ellipse cx="83.48" cy="402.71" rx="1.67" ry="2.14" fill="#000"/>
<ellipse cx="60.28" cy="401.86" rx="1.59" ry="2.73" fill="#000"/>
<ellipse cx="79.43" cy="403.42" rx="1.37" ry="2.19" fill="none" stroke="#000" stroke-width="1.1"/>
<ellipse cx="72.34" cy="402.62" rx="1.92" ry="2.87" fill="#000"/>
<ellipse cx="80.41" cy="401.69" rx="0.96" ry="2.03" fill="none" stroke="#000" stroke-width="1.1"/>
<ellipse cx="62.43" cy="401.91" rx="1.44" ry="2.33" fill="none" stroke="#000" stroke-width="1.1"/>
<ellipse cx="73.68" cy="403.39" rx="1.11" ry="1.89" fill="none" stroke="#000" stroke-width="1.1"/>
<ellipse cx="62.56" cy="403.63" rx="1.22" ry="2.6" fill="#000"/>
<ellipse cx="67.9" cy="402.82" rx="1.05" ry="2.06" fill="none" stroke="#000" stroke-width="1.1"/>
<ellipse cx="70.49" cy="402.51" rx="0.81" ry="1.62" fill="none" stroke="#000" stroke-width="1.1"/>
<ellipse cx="83.59" cy="398.85" rx="1.36" ry="1.78" fill="none" stroke="#000" stroke-width="1.1"/>
<ellipse cx="66.75" cy="398.68" rx="1.29" ry="2.36" fill="none" stroke="#000" stroke-width="1.1"/>
<ellipse cx="73.53" cy="401.04" rx="1.45" ry="2.14" fill="#000"/>
<ellipse cx="69.6" cy="394.62" rx="1.56" ry="2.28" fill="#000"/>
<ellipse cx="74.61" cy="401.7" rx="1.05" ry="1.77" fill="none" stroke="#000" stroke-width="1.1"/>
<ellipse cx="85.37" cy="400.84" rx="1.45" ry="2.79" fill="#000"/>
<ellipse cx="64.46" cy="399.05" rx="1.22" ry="2.83" fill="#000"/>
<ellipse cx="82.47" cy="398.92" rx="1.15" ry="2.11" fill="none" stroke="#000" stroke-width="1.1"/>
<ellipse cx="94.48" cy="402.61" rx="1.36" ry="2.48" fill="#000"/>
<ellipse cx="59.89" cy="399.32" rx="1.77" ry="2.18" fill="#000"/>
<ellipse cx="72.12" cy="402.81" rx="1.07" ry="2.06" fill="none" stroke="#000" stroke-width="1.1"/>
<ellipse cx="73.86" cy="404.27" rx="1.37" ry="1.54" fill="none" stroke="#000" stroke-width="1.1"/>
<ellipse cx="76.05" cy="401.7" rx="1.38" ry="1.83" fill="none" stroke="#000" stroke-width="1.1"/>
<ellipse cx="83.27" cy="395.18" rx="1.23" ry="2.27" fill="none" stroke="#000" stroke-width="1.1"/>
<ellipse cx="85.69" cy="395.31" rx="1.37" ry="2.43" fill="none" stroke="#000" stroke-width="1.1"/>
<ellipse cx="79.1" cy="404.26" rx="0.91" ry="2.36" fill="none" stroke="#000" stroke-width="1.1"/>
<ellipse cx="72.22" cy="393.28" rx="1" ry="2" fill="none" stroke="#000" stroke-width="1.1"/>
<ellipse cx="71.73" cy="404.21" rx="0.76" ry="1.6" fill="none" stroke="#000" stroke-width="1.1"/>
<ellipse cx="62.64" cy="395.43" rx="1.07" ry="1.74" fill="none" stroke="#000" stroke-width="1.1"/>
<ellipse cx="82.82" cy="400.1" rx="1.87" ry="2.56" fill="#000"/>
<ellipse cx="73.41" cy="405.1" rx="1.37" ry="1.66" fill="none" stroke="#000" stroke-width="1.1"/>
<ellipse cx="80.41" cy="395.11" rx="1.08" ry="1.95" fill="none" stroke="#000" stroke-width="1.1"/>
<ellipse cx="78.33" cy="398.21" rx="1.84" ry="2.56" fill="#000"/>
<ellipse cx="79.16" cy="398.41" rx="1.97" ry="2.92" fill="#000"/>
<ellipse cx="76.77" cy="393.97" rx="1" ry="2.27" fill="none" stroke="#000" stroke-width="1.1"/>
<ellipse cx="76.89" cy="396.92" rx="0.8" ry="2.07" fill="none" stroke="#000" stroke-width="1.1"/>
<ellipse cx="64.23" cy="404.08" rx="1.22" ry="2.19" fill="#000"/>
<ellipse cx="84.58" cy="396.99" rx="1.48" ry="2.62" fill="#000"/>
<ellipse cx="78.13" cy="395.88" rx="1.36" ry="2.53" fill="#000"/>
<ellipse cx="73.21" cy="398.41" rx="1.62" ry="2.16" fill="#000"/>
<ellipse cx="82.54" cy="401.9" rx="1.07" ry="2.3" fill="none" stroke="#000" stroke-width="1.1"/>
<ellipse cx="86.54" cy="404.56" rx="1.92" ry="2.32" fill="#000"/>
<ellipse cx="64.39" cy="395.71" rx="1.78" ry="2.26" fill="#000"/>
<ellipse cx="89.87" cy="398.54" rx="1.83" ry="2.13" fill="#000"/>
<ellipse cx="66.83" cy="402.58" rx="1.93" ry="2.97" fill="#000"/>
<ellipse cx="77.96" cy="403.75" rx="1.6" ry="2.69" fill="#000"/>
<ellipse cx="60.87" cy="400.55" rx="1.61" ry="2.57" fill="#000"/>
<ellipse cx="66.24" cy="395.16" rx="1.32" ry="2.44" fill="none" stroke="#000" stroke-width="1.1"/>
<ellipse cx="87.41" cy="397.07" rx="1.57" ry="2.52" fill="#000"/>
<ellipse cx="66.12" cy="399.04" rx="1.79" ry="2.41" fill="#000"/>
<ellipse cx="65.53" cy="399.94" rx="0.66" ry="2.34" fill="none" stroke="#000" stroke-width="1.1"/>
<ellipse cx="82.47" cy="398.27" rx="1.13" ry="1.95" fill="none" stroke="#000" stroke-width="1.1"/>
<ellipse cx="92.76" cy="403.54" rx="1.82" ry="2.81" fill="#000"/>
<ellipse cx="84.86" cy="403.89" rx="1.26" ry="1.86" fill="none" stroke="#000" stroke-width="1.1"/>
<ellipse cx="62.08" cy="397.3" rx="1.58" ry="2.01" fill="#000"/>
<ellipse cx="82.81" cy="401.67" rx="0.84" ry="2.39" fill="none" stroke="#000" stroke-width="1.1"/>
<ellipse cx="71.83" cy="402.23" rx="1.66" ry="2.53" fill="#000"/>
<ellipse cx="85.1" cy="403.81" rx="1.43" ry="1.47" fill="none" stroke="#000" stroke-width="1.1"/>
<ellipse cx="86.47" cy="395.98" rx="1.52" ry="2.05" fill="#000"/>
<ellipse cx="73.21" cy="393.53" rx="0.85" ry="2.36" fill="none" stroke="#000" stroke-width="1.1"/>
<ellipse cx="82.79" cy="404.55" rx="0.71" ry="2.05" fill="none" stroke="#000" stroke-width="1.1"/>
<ellipse cx="61.15" cy="406.42" rx="1.33" ry="2.47" fill="#000"/>
<ellipse cx="77.59" cy="401.47" rx="1.25" ry="2.95" fill="#000"/>
<ellipse cx="78.73" cy="401.27" rx="0.94" ry="1.74" fill="none" stroke="#000" stroke-width="1.1"/>
<ellipse cx="79.96" cy="396.39" rx="1.77" ry="2.3" fill="#000"/>
<ellipse cx="68.44" cy="392.66" rx="1.33" ry="2.75" fill="#000"/>
<ellipse cx="92.26" cy="403.6" rx="0.69" ry="2.44" fill="none" stroke="#000" stroke-width="1.1"/>
<ellipse cx="62.18" cy="406.04" rx="0.99" ry="1.93" fill="none" stroke="#000" stroke-width="1.1"/>
<ellipse cx="68.4" cy="400.11" rx="1.95" ry="2.72" fill="#000"/>
<ellipse cx="81.53" cy="393.78" rx="1.7" ry="2.46" fill="#000"/>
<ellipse cx="61.4" cy="400.19" rx="0.75" ry="1.89" fill="none" stroke="#000" stroke-width="1.1"/>
<ellipse cx="76.13" cy="396.06" rx="1.12" ry="1.87" fill="none" stroke="#000" stroke-width="1.1"/>
<ellipse cx="94.27" cy="403.38" rx="0.84" ry="1.56" fill="none" stroke="#000" stroke-width="1.1"/>
<ellipse cx="88.13" cy="401.69" rx="0.94" ry="1.72" fill="none" stroke="#000" stroke-width="1.1"/>
<ellipse cx="80.12" cy="401.17" rx="1.71" ry="2.75" fill="#000"/>
<ellipse cx="68.59" cy="407.19" rx="1.93" ry="2.88" fill="#000"/>
<ellipse cx="61.72" cy="396.2" rx="1.54" ry="2.62" fill="#000"/>
<ellipse cx="79.27" cy="393.12" rx="0.72" ry="2.13" fill="none" stroke="#000" stroke-width="1.1"/>
<ellipse cx="82.54" cy="397.78" rx="1.58" ry="2.21" fill="#000"/>
<ellipse cx="89.04" cy="401.67" rx="1.82" ry="2.21" fill="#000"/>
<ellipse cx="68.92" cy="404.55" rx="0.95" ry="2.1" fill="none" stroke="#000" stroke-width="1.1"/>
<ellipse cx="71.38" cy="400.5" rx="1.8" ry="2.92" fill="#000"/>
<ellipse cx="72.98" cy="393.5" rx="1.9" ry="2.08" fill="#000"/>
<ellipse cx="80.09" cy="399.52" rx="1.2" ry="1.75" fill="none" stroke="#000" stroke-width="1.1"/>
<ellipse cx="62.28" cy="395.31" rx="1.73" ry="2.08" fill="#000"/>
<ellipse cx="85.96" cy="402.76" rx="1.43" ry="2.14" fill="#000"/>
<ellipse cx="86" cy="397.68" rx="0.74" ry="2.16" fill="none" stroke="#000" stroke-width="1.1"/>
<ellipse cx="88.81" cy="396.72" rx="0.9" ry="1.85" fill="none" stroke="#000" stroke-width="1.1"/>
<ellipse cx="72.7" cy="397.67" rx="1.49" ry="2.4" fill="#000"/>
<ellipse cx="66.62" cy="400.74" rx="1.29" ry="1.99" fill="none" stroke="#000" stroke-width="1.1"/>
<ellipse cx="80.04" cy="394.74" rx="1.81" ry="2.88" fill="#000"/>
<ellipse cx="60.31" cy="399.99" rx="1.09" ry="2.02" fill="none" stroke="#000" stroke-width="1.1"/>
<ellipse cx="83.27" cy="404.47" rx="0.7" ry="2" fill="none" stroke="#000" stroke-width="1.1"/>
<ellipse cx="62.59" cy="401.83" rx="0.77" ry="2.2" fill="none" stroke="#000" stroke-width="1.1"/>
<ellipse cx="68.46" cy="395.42" rx="1.26" ry="1.97" fill="none" stroke="#000" stroke-width="1.1"/>
<ellipse cx="73.89" cy="397.24" rx="1.97" ry="2.67" fill="#000"/>
<ellipse cx="79.11" cy="403.17" rx="1.77" ry="2.91" fill="#000"/>
<ellipse cx="89.66" cy="402.33" rx="1.33" ry="2.26" fill="none" stroke="#000" stroke-width="1.1"/>
<ellipse cx="82.87" cy="400.12" rx="1.77" ry="2.8" fill="#000"/>
<ellipse cx="74.85" cy="394.27" rx="1.79" ry="2.99" fill="#000"/>
<ellipse cx="65.62" cy="395.17" rx="0.99" ry="1.74" fill="none" stroke="#000" stroke-width="1.1"/>
<ellipse cx="61.66" cy="396.78" rx="0.74" ry="2.1" fill="none" stroke="#000" stroke-width="1.1"/>
<ellipse cx="66.05" cy="392.97" rx="1.02" ry="2.03" fill="none" stroke="#000" stroke-width="1.1"/>
<ellipse cx="66.24" cy="395.37" rx="0.84" ry="2.17" fill="none" stroke="#000" stroke-width="1.1"/>
<ellipse cx="67.67" cy="394.87" rx="0.87" ry="1.62" fill="none" stroke="#000" stroke-width="1.1"/>
<ellipse cx="70.88" cy="400.5" rx="1.85" ry="2.48" fill="#000"/>
<ellipse cx="71.99" cy="400.48" rx="1.97" ry="2.48" fill="#000"/>
<ellipse cx="61.31" cy="406.69" rx="1.29" ry="1.83" fill="none" stroke="#000" stroke-width="1.1"/>
<ellipse cx="78.33" cy="396.26" rx="1.99" ry="2.66" fill="#000"/>
<ellipse cx="59.9" cy="399.33" rx="0.95" ry="2.25" fill="none" stroke="#000" stroke-width="1.1"/>
<ellipse cx="81.62" cy="394.44" rx="1.33" ry="2.32" fill="#000"/>
<ellipse cx="91.23" cy="400" rx="1.71" ry="2.99" fill="#000"/>
<ellipse cx="79.01" cy="394.34" rx="1.27" ry="1.45" fill="none" stroke="#000" stroke-width="1.1"/>
<ellipse cx="62.51" cy="396.18" rx="1.77" ry="2.1" fill="#000"/>
<ellipse cx="80.91" cy="405.29" rx="1.44" ry="2.79" fill="#000"/>
<ellipse cx="79.33" cy="400.15" rx="1.33" ry="2.83" fill="#000"/>
<ellipse cx="70.84" cy="393.18" rx="0.89" ry="1.92" fill="none" stroke="#000" stroke-width="1.1"/>
<ellipse cx="72.63" cy="402.65" rx="1.28" ry="2.39" fill="#000"/>
<ellipse cx="73.27" cy="403.01" rx="1.39" ry="2.56" fill="#000"/>
<ellipse cx="81.99" cy="396.5" rx="1.5" ry="2.54" fill="#000"/>
<ellipse cx="71.81" cy="398.08" rx="1.73" ry="2.26" fill="#000"/>
<ellipse cx="86.2" cy="397.11" rx="1.41" ry="2.01" fill="none" stroke="#000" stroke-width="1.1"/>
<ellipse cx="71.61" cy="404.82" rx="1.27" ry="2.14" fill="#000"/>
<ellipse cx="84.24" cy="402.98" rx="0.79" ry="1.85" fill="none" stroke="#000" stroke-width="1.1"/>
<ellipse cx="81.13" cy="393.4" rx="1.38" ry="2.16" fill="#000"/>
<ellipse cx="74.35" cy="393.13" rx="1.39" ry="1.88" fill="none" stroke="#000" stroke-width="1.1"/>
<ellipse cx="83.12" cy="403.89" rx="1.86" ry="2.39" fill="#000"/>
<ellipse cx="74.54" cy="392.24" rx="0.97" ry="2.15" fill="none" stroke="#000" stroke-width="1.1"/>
<ellipse cx="88.32" cy="402.23" rx="1.69" ry="2.02" fill="#000"/>
<ellipse cx="71.99" cy="402.09" rx="0.74" ry="1.83" fill="none" stroke="#000" stroke-width="1.1"/>
<ellipse cx="81.82" cy="394.45" rx="1.26" ry="2.35" fill="none" stroke="#000" stroke-width="1.1"/>
<ellipse cx="72.37" cy="399.76" rx="0.76" ry="2.16" fill="none" stroke="#000" stroke-width="1.1"/>
<ellipse cx="78.34" cy="403.09" rx="1.32" ry="1.65" fill="none" stroke="#000" stroke-width="1.1"/>
<ellipse cx="82.39" cy="395.07" rx="0.72" ry="1.69" fill="none" stroke="#000" stroke-width="1.1"/>
<ellipse cx="84.94" cy="397.1" rx="1.94" ry="2.36" fill="#000"/>
<ellipse cx="64.03" cy="407.09" rx="0.76" ry="2.35" fill="none" stroke="#000" stroke-width="1.1"/>
<ellipse cx="79.97" cy="400.69" rx="0.86" ry="2.36" fill="none" stroke="#000" stroke-width="1.1"/>
<ellipse cx="89.34" cy="401.32" rx="1.3" ry="2.82" fill="#000"/>
<ellipse cx="80.44" cy="404.88" rx="1.35" ry="2.55" fill="#000"/>
<ellipse cx="83.53" cy="396.77" rx="1.74" ry="2.74" fill="#000"/>
<ellipse cx="81.1" cy="404.46" rx="1.21" ry="2.2" fill="#000"/>
<ellipse cx="64.72" cy="397.99" rx="1.11" ry="1.62" fill="none" stroke="#000" stroke-width="1.1"/>
<ellipse cx="69.12" cy="400.8" rx="1.47" ry="2.64" fill="#000"/>
<ellipse cx="83.99" cy="394.24" rx="1.97" ry="2.6" fill="#000"/>
<ellipse cx="74.52" cy="401.67" rx="1.2" ry="2.21" fill="none" stroke="#000" stroke-width="1.1"/>
<ellipse cx="72.93" cy="397.2" rx="0.7" ry="0.9" fill="#fff"/>
<ellipse cx="65.72" cy="397.73" rx="0.7" ry="0.9" fill="#fff"/>
<ellipse cx="84.32" cy="397.76" rx="0.7" ry="0.9" fill="#fff"/>
<ellipse cx="72.26" cy="402.53" rx="0.7" ry="0.9" fill="#fff"/>
<ellipse cx="77.24" cy="405.32" rx="0.7" ry="0.9" fill="#fff"/>
<ellipse cx="75.66" cy="399.64" rx="0.7" ry="0.9" fill="#fff"/>
<ellipse cx="79.62" cy="397.38" rx="0.7" ry="0.9" fill="#fff"/>
<ellipse cx="88.86" cy="399.11" rx="0.7" ry="0.9" fill="#fff"/>
<ellipse cx="72.42" cy="402.51" rx="0.7" ry="0.9" fill="#fff"/>
<ellipse cx="64.87" cy="402.27" rx="0.7" ry="0.9" fill="#fff"/>
<ellipse cx="87.2" cy="398.73" rx="0.7" ry="0.9" fill="#fff"/>
<ellipse cx="90.3" cy="400.82" rx="0.7" ry="0.9" fill="#fff"/>
<ellipse cx="84.78" cy="400.16" rx="0.7" ry="0.9" fill="#fff"/>
<ellipse cx="72.88" cy="397.96" rx="0.7" ry="0.9" fill="#fff"/>
<ellipse cx="91.67" cy="400.88" rx="0.7" ry="0.9" fill="#fff"/>
<ellipse cx="74.79" cy="404.9" rx="0.7" ry="0.9" fill="#fff"/>
<ellipse cx="79.38" cy="405.74" rx="0.7" ry="0.9" fill="#fff"/>
<ellipse cx="71.44" cy="397.37" rx="0.7" ry="0.9" fill="#fff"/>
<ellipse cx="89.46" cy="396.77" rx="0.7" ry="0.9" fill="#fff"/>
<ellipse cx="85.34" cy="401.55" rx="0.7" ry="0.9" fill="#fff"/>
<ellipse cx="81.13" cy="395.41" rx="0.7" ry="0.9" fill="#fff"/>
<ellipse cx="60.75" cy="400.21" rx="0.7" ry="0.9" fill="#fff"/>
<ellipse cx="100.76" cy="389.05" rx="1.1" ry="1.77" fill="#000"/>
<ellipse cx="97.87" cy="384.06" rx="0.64" ry="1.88" fill="none" stroke="#000" stroke-width="1.1"/>
<ellipse cx="103.19" cy="389.1" rx="0.79" ry="2.13" fill="#000"/>
<ellipse cx="113.27" cy="381.26" rx="0.64" ry="1.14" fill="none" stroke="#000" stroke-width="1.1"/>
<ellipse cx="96.77" cy="385.76" rx="1.21" ry="1.62" fill="#000"/>
<ellipse cx="113.54" cy="387.12" rx="0.3" ry="2.23" fill="none" stroke="#000" stroke-width="1.1"/>
<ellipse cx="90.26" cy="386" rx="0.3" ry="1.43" fill="none" stroke="#000" stroke-width="1.1"/>
<ellipse cx="91.74" cy="389.56" rx="0.3" ry="1.26" fill="none" stroke="#000" stroke-width="1.1"/>
<ellipse cx="98.62" cy="385.94" rx="1.06" ry="2.17" fill="#000"/>
<ellipse cx="87.88" cy="389.94" rx="0.73" ry="2.22" fill="none" stroke="#000" stroke-width="1.1"/>
<ellipse cx="97.33" cy="385.22" rx="1.11" ry="2.41" fill="#000"/>
<ellipse cx="93.81" cy="385.22" rx="0.46" ry="2.02" fill="none" stroke="#000" stroke-width="1.1"/>
<ellipse cx="87.82" cy="391.19" rx="0.96" ry="2.22" fill="#000"/>
<ellipse cx="99.39" cy="385.55" rx="0.61" ry="1.17" fill="none" stroke="#000" stroke-width="1.1"/>
<ellipse cx="92.16" cy="389.55" rx="0.72" ry="1.93" fill="#000"/>
<ellipse cx="105.47" cy="381.18" rx="0.98" ry="1.85" fill="#000"/>
<ellipse cx="91.86" cy="392.52" rx="0.37" ry="1.28" fill="none" stroke="#000" stroke-width="1.1"/>
<ellipse cx="94.78" cy="390.52" rx="0.91" ry="1.89" fill="#000"/>
<ellipse cx="88.16" cy="388.55" rx="0.74" ry="2.25" fill="none" stroke="#000" stroke-width="1.1"/>
<ellipse cx="87.69" cy="384.69" rx="0.62" ry="2.05" fill="none" stroke="#000" stroke-width="1.1"/>
<ellipse cx="93.66" cy="387.35" rx="0.99" ry="2.35" fill="#000"/>
<ellipse cx="91.7" cy="384.29" rx="0.67" ry="1.38" fill="none" stroke="#000" stroke-width="1.1"/>
<ellipse cx="101.94" cy="389.55" rx="1.12" ry="1.86" fill="#000"/>
<ellipse cx="94.39" cy="389.38" rx="0.57" ry="1.21" fill="none" stroke="#000" stroke-width="1.1"/>
<ellipse cx="99.19" cy="383.64" rx="0.41" ry="2.23" fill="none" stroke="#000" stroke-width="1.1"/>
<ellipse cx="105.12" cy="392.46" rx="1.28" ry="2.51" fill="#000"/>
<ellipse cx="104.06" cy="392.21" rx="1.17" ry="2.3" fill="#000"/>
<ellipse cx="97.69" cy="390.07" rx="0.49" ry="1.07" fill="none" stroke="#000" stroke-width="1.1"/>
<ellipse cx="102.51" cy="390.76" rx="0.93" ry="1.72" fill="#000"/>
<ellipse cx="96.05" cy="392.64" rx="0.56" ry="1.7" fill="none" stroke="#000" stroke-width="1.1"/>
<ellipse cx="90.62" cy="387.45" rx="1.12" ry="2.07" fill="#000"/>
<ellipse cx="98.8" cy="384.71" rx="1.11" ry="1.77" fill="#000"/>
<ellipse cx="96.06" cy="389.55" rx="0.61" ry="1.84" fill="none" stroke="#000" stroke-width="1.1"/>
<ellipse cx="101.15" cy="386.27" rx="0.81" ry="2.4" fill="#000"/>
<ellipse cx="93.91" cy="384.76" rx="1.27" ry="1.61" fill="#000"/>
<ellipse cx="95.11" cy="383.12" rx="0.41" ry="1.31" fill="none" stroke="#000" stroke-width="1.1"/>
<ellipse cx="101.53" cy="389.58" rx="0.3" ry="1.61" fill="none" stroke="#000" stroke-width="1.1"/>
<ellipse cx="111.44" cy="383.75" rx="0.43" ry="2.08" fill="none" stroke="#000" stroke-width="1.1"/>
<ellipse cx="93.6" cy="387.49" rx="0.61" ry="1.52" fill="none" stroke="#000" stroke-width="1.1"/>
<ellipse cx="103.06" cy="389.35" rx="0.91" ry="2.48" fill="#000"/>
<ellipse cx="101.5" cy="385.19" rx="0.88" ry="1.76" fill="#000"/>
<ellipse cx="102.78" cy="383.77" rx="0.73" ry="2.56" fill="#000"/>
<ellipse cx="114.15" cy="388.28" rx="0.38" ry="2.1" fill="none" stroke="#000" stroke-width="1.1"/>
<ellipse cx="96.31" cy="382.14" rx="0.53" ry="2.06" fill="none" stroke="#000" stroke-width="1.1"/>
<ellipse cx="109.75" cy="385.86" rx="1.07" ry="1.92" fill="#000"/>
<ellipse cx="98.01" cy="385.5" rx="0.94" ry="2.57" fill="#000"/>
<ellipse cx="92.95" cy="383.81" rx="1.28" ry="2.23" fill="#000"/>
<ellipse cx="110.81" cy="385.16" rx="1.14" ry="1.97" fill="#000"/>
<ellipse cx="93.13" cy="391.94" rx="0.71" ry="1.97" fill="#000"/>
<ellipse cx="91.96" cy="382.62" rx="1.13" ry="1.96" fill="#000"/>
<ellipse cx="92.34" cy="384.56" rx="1.22" ry="2.33" fill="#000"/>
<ellipse cx="106.86" cy="387.47" rx="0.42" ry="1.68" fill="none" stroke="#000" stroke-width="1.1"/>
<ellipse cx="110.22" cy="387.07" rx="0.53" ry="1.61" fill="none" stroke="#000" stroke-width="1.1"/>
<ellipse cx="98.27" cy="385.89" rx="1.01" ry="2.46" fill="#000"/>
<ellipse cx="113.82" cy="386.89" rx="0.66" ry="1.88" fill="none" stroke="#000" stroke-width="1.1"/>
<ellipse cx="106.79" cy="386.05" rx="0.39" ry="1.78" fill="none" stroke="#000" stroke-width="1.1"/>
<ellipse cx="111.33" cy="382.18" rx="0.74" ry="1.73" fill="#000"/>
<ellipse cx="94.24" cy="381.97" rx="0.56" ry="1.79" fill="none" stroke="#000" stroke-width="1.1"/>
<ellipse cx="93.61" cy="392.54" rx="0.44" ry="1.3" fill="none" stroke="#000" stroke-width="1.1"/>
<ellipse cx="99.28" cy="387.56" rx="0.89" ry="1.89" fill="#000"/>
<ellipse cx="114.07" cy="385.21" rx="0.33" ry="2.16" fill="none" stroke="#000" stroke-width="1.1"/>
<ellipse cx="93.63" cy="386.77" rx="0.59" ry="2.04" fill="none" stroke="#000" stroke-width="1.1"/>
<ellipse cx="96.85" cy="385.46" rx="0.67" ry="2.24" fill="none" stroke="#000" stroke-width="1.1"/>
<ellipse cx="92.65" cy="388.62" rx="1.02" ry="2.03" fill="#000"/>
<ellipse cx="98.18" cy="388.46" rx="0.3" ry="1.7" fill="none" stroke="#000" stroke-width="1.1"/>
<ellipse cx="108.6" cy="383.78" rx="0.4" ry="1.17" fill="none" stroke="#000" stroke-width="1.1"/>
<ellipse cx="105.32" cy="382.75" rx="0.48" ry="1.77" fill="none" stroke="#000" stroke-width="1.1"/>
<ellipse cx="97.97" cy="384.53" rx="0.91" ry="2.8" fill="#000"/>
<ellipse cx="101.57" cy="386.48" rx="0.8" ry="2.08" fill="#000"/>
<ellipse cx="96.35" cy="385.27" rx="0.91" ry="2.73" fill="#000"/>
<ellipse cx="96.64" cy="389.05" rx="0.39" ry="1.67" fill="none" stroke="#000" stroke-width="1.1"/>
<ellipse cx="89.14" cy="389.23" rx="0.3" ry="1.35" fill="none" stroke="#000" stroke-width="1.1"/>
<ellipse cx="91.98" cy="386.2" rx="0.87" ry="2.61" fill="#000"/>
<ellipse cx="92.69" cy="388.8" rx="0.53" ry="1.76" fill="none" stroke="#000" stroke-width="1.1"/>
<ellipse cx="114.81" cy="386.46" rx="0.71" ry="1.52" fill="none" stroke="#000" stroke-width="1.1"/>
<ellipse cx="97.42" cy="389.8" rx="0.6" ry="1.34" fill="none" stroke="#000" stroke-width="1.1"/>
<ellipse cx="108.07" cy="387.02" rx="0.55" ry="1.79" fill="none" stroke="#000" stroke-width="1.1"/>
<ellipse cx="97.3" cy="384.49" rx="0.3" ry="2.12" fill="none" stroke="#000" stroke-width="1.1"/>
<ellipse cx="113.17" cy="382.47" rx="1.2" ry="2.11" fill="#000"/>
<ellipse cx="94.52" cy="385.88" rx="0.73" ry="1.66" fill="#000"/>
<ellipse cx="95.91" cy="382.56" rx="0.77" ry="2.6" fill="#000"/>
<ellipse cx="101.22" cy="388.32" rx="1.26" ry="1.78" fill="#000"/>
<ellipse cx="114.02" cy="387.37" rx="0.37" ry="1.28" fill="none" stroke="#000" stroke-width="1.1"/>
<ellipse cx="109.19" cy="387.67" rx="0.62" ry="1.36" fill="none" stroke="#000" stroke-width="1.1"/>
<ellipse cx="113.29" cy="381.91" rx="0.52" ry="1.27" fill="none" stroke="#000" stroke-width="1.1"/>
<ellipse cx="111.34" cy="388.87" rx="0.41" ry="1.08" fill="none" stroke="#000" stroke-width="1.1"/>
<ellipse cx="97.42" cy="385.7" rx="0.3" ry="2.15" fill="none" stroke="#000" stroke-width="1.1"/>
<ellipse cx="103.29" cy="391.45" rx="0.69" ry="1.71" fill="none" stroke="#000" stroke-width="1.1"/>
<ellipse cx="111.56" cy="385.34" rx="0.69" ry="1.08" fill="none" stroke="#000" stroke-width="1.1"/>
<ellipse cx="102.3" cy="388.59" rx="1.29" ry="1.86" fill="#000"/>
<ellipse cx="110.19" cy="390.21" rx="0.46" ry="1.98" fill="none" stroke="#000" stroke-width="1.1"/>
<ellipse cx="112.21" cy="388.95" rx="0.92" ry="1.94" fill="#000"/>
<ellipse cx="104.48" cy="382.24" rx="1.28" ry="2.24" fill="#000"/>
<ellipse cx="115.36" cy="383.4" rx="0.94" ry="2.39" fill="#000"/>
<ellipse cx="103.51" cy="389.61" rx="0.6" ry="2.04" fill="none" stroke="#000" stroke-width="1.1"/>
<ellipse cx="96.25" cy="401.5" rx="0.6" ry="2" fill="#000"/>
<ellipse cx="98.75" cy="401.5" rx="0.6" ry="2" fill="#000"/>
<ellipse cx="230.87" cy="330.25" rx="1.77" ry="4.05" fill="none" stroke="#000" stroke-width="1.4"/>
<ellipse cx="235.8" cy="330.25" rx="1.77" ry="4.05" fill="none" stroke="#000" stroke-width="1.4"/>
<ellipse cx="240.73" cy="330.25" rx="1.77" ry="4.05" fill="none" stroke="#000" stroke-width="1.4"/>
<ellipse cx="223.5" cy="330.5" rx="0.6" ry="2" fill="#000"/>
<ellipse cx="202.85" cy="341.85" rx="1.15" ry="4.05" fill="none" stroke="#000" stroke-width="1.4"/>
<ellipse cx="206.55" cy="341.85" rx="1.15" ry="4.05" fill="none" stroke="#000" stroke-width="1.4"/>
<ellipse cx="210.25" cy="341.85" rx="1.15" ry="4.05" fill="none" stroke="#000" stroke-width="1.4"/>
<ellipse cx="213.95" cy="341.85" rx="1.15" ry="4.05" fill="none" stroke="#000" stroke-width="1.4"/>
<ellipse cx="219" cy="340.5" rx="0.6" ry="1.2" fill="#000"/>
<ellipse cx="251.32" cy="355.2" rx="1.82" ry="1.99" fill="#000"/>
<ellipse cx="254.95" cy="355.2" rx="1.82" ry="1.99" fill="#000"/>
<ellipse cx="258.58" cy="355.2" rx="1.82" ry="1.99" fill="#000"/>
<ellipse cx="251.32" cy="359" rx="1.82" ry="1.99" fill="#000"/>
<ellipse cx="254.95" cy="359" rx="1.82" ry="1.99" fill="#000"/>
<ellipse cx="258.58" cy="359" rx="1.82" ry="1.99" fill="#000"/>
<ellipse cx="263.65" cy="380.85" rx="1.95" ry="2.45" fill="none" stroke="#000" stroke-width="1.4"/>
<ellipse cx="268.95" cy="380.85" rx="1.95" ry="2.45" fill="none" stroke="#000" stroke-width="1.4"/>
<ellipse cx="277.38" cy="381" rx="0.6" ry="1.44" fill="#000"/>
<ellipse cx="280.55" cy="381" rx="0.6" ry="1.44" fill="#000"/>
<ellipse cx="283.72" cy="381" rx="0.6" ry="1.44" fill="#000"/>
<ellipse cx="302.2" cy="373.45" rx="1.5" ry="1.95" fill="none" stroke="#000" stroke-width="1.4"/>
<ellipse cx="306.6" cy="373.45" rx="1.5" ry="1.95" fill="none" stroke="#000" stroke-width="1.4"/>
<ellipse cx="263.5" cy="394.45" rx="2.5" ry="2.05" fill="#000"/>
<ellipse cx="268.5" cy="394.45" rx="2.5" ry="2.05" fill="#000"/>
<ellipse cx="263.5" cy="398.35" rx="2.5" ry="2.05" fill="#000"/>
<ellipse cx="268.5" cy="398.35" rx="2.5" ry="2.05" fill="#000"/>
<ellipse cx="202.83" cy="390" rx="0.6" ry="2.4" fill="#000"/>
<ellipse cx="206.5" cy="390" rx="0.6" ry="2.4" fill="#000"/>
<ellipse cx="210.17" cy="390" rx="0.6" ry="2.4" fill="#000"/>
<circle cx="181" cy="356" r="0.5" fill="#000"/>
<ellipse cx="424.33" cy="328.18" rx="2.22" ry="1.65" fill="#000"/>
<ellipse cx="428.77" cy="328.18" rx="2.22" ry="1.65" fill="#000"/>
<ellipse cx="424.33" cy="331.32" rx="2.22" ry="1.65" fill="#000"/>
<ellipse cx="428.77" cy="331.32" rx="2.22" ry="1.65" fill="#000"/>
<ellipse cx="496.53" cy="330" rx="1.25" ry="3.7" fill="#000"/>
<ellipse cx="500.2" cy="330" rx="1.25" ry="3.7" fill="#000"/>
<ellipse cx="503.87" cy="330" rx="1.25" ry="3.7" fill="#000"/>
<ellipse cx="538" cy="330.5" rx="0.6" ry="2.8" fill="#000"/>
<ellipse cx="542" cy="330.5" rx="0.6" ry="2.8" fill="#000"/>
<ellipse cx="568" cy="330.5" rx="0.82" ry="3.5" fill="#000"/>
<ellipse cx="576.8" cy="330.5" rx="0.82" ry="3.5" fill="#000"/>
<ellipse cx="590.33" cy="341.9" rx="1.31" ry="4" fill="#000"/>
<ellipse cx="594.2" cy="341.9" rx="1.31" ry="4" fill="#000"/>
<ellipse cx="598.07" cy="341.9" rx="1.31" ry="4" fill="#000"/>
<circle cx="628.4" cy="343.2" r="0.8" fill="#000"/>
<ellipse cx="644.67" cy="341.5" rx="1.13" ry="4" fill="#000"/>
<ellipse cx="648" cy="341.5" rx="1.13" ry="4" fill="#000"/>
<ellipse cx="651.33" cy="341.5" rx="1.13" ry="4" fill="#000"/>
<ellipse cx="567.15" cy="357" rx="1.26" ry="4" fill="#000"/>
<ellipse cx="570.85" cy="357" rx="1.26" ry="4" fill="#000"/>
<ellipse cx="574.55" cy="357" rx="1.26" ry="4" fill="#000"/>
<ellipse cx="582.92" cy="359.55" rx="1.62" ry="2.45" fill="none" stroke="#000" stroke-width="1.4"/>
<ellipse cx="587.58" cy="359.55" rx="1.62" ry="2.45" fill="none" stroke="#000" stroke-width="1.4"/>
<ellipse cx="599.07" cy="359.9" rx="1.58" ry="2.4" fill="none" stroke="#000" stroke-width="1.4"/>
<ellipse cx="603.62" cy="359.9" rx="1.58" ry="2.4" fill="none" stroke="#000" stroke-width="1.4"/>
<ellipse cx="582.71" cy="371.6" rx="2.11" ry="2.2" fill="#000"/>
<ellipse cx="586.93" cy="371.6" rx="2.11" ry="2.2" fill="#000"/>
<ellipse cx="591.15" cy="371.6" rx="2.11" ry="2.2" fill="#000"/>
<ellipse cx="595.37" cy="371.6" rx="2.11" ry="2.2" fill="#000"/>
<ellipse cx="599.59" cy="371.6" rx="2.11" ry="2.2" fill="#000"/>
<ellipse cx="582.71" cy="375.8" rx="2.11" ry="2.2" fill="#000"/>
<ellipse cx="586.93" cy="375.8" rx="2.11" ry="2.2" fill="#000"/>
<ellipse cx="591.15" cy="375.8" rx="2.11" ry="2.2" fill="#000"/>
<ellipse cx="595.37" cy="375.8" rx="2.11" ry="2.2" fill="#000"/>
<ellipse cx="599.59" cy="375.8" rx="2.11" ry="2.2" fill="#000"/>
<ellipse cx="553.7" cy="366" rx="1.89" ry="1.1" fill="#000"/>
<ellipse cx="557.9" cy="366" rx="1.89" ry="1.1" fill="#000"/>
<ellipse cx="527.5" cy="373" rx="0.6" ry="2.4" fill="#000"/>
<ellipse cx="530.5" cy="373" rx="0.6" ry="2.4" fill="#000"/>
<circle cx="502.1" cy="359.4" r="0.5" fill="#000"/>
<circle cx="488" cy="380" r="0.5" fill="#000"/>
<circle cx="620" cy="360" r="0.5" fill="#000"/>
<circle cx="622.5" cy="362.5" r="0.5" fill="#000"/>
<circle cx="499" cy="359" r="0.4" fill="#000"/>
<ellipse cx="558.17" cy="396.8" rx="1.34" ry="4.2" fill="#000"/>
<ellipse cx="562.1" cy="396.8" rx="1.34" ry="4.2" fill="#000"/>
<ellipse cx="566.03" cy="396.8" rx="1.34" ry="4.2" fill="#000"/>
<path d="M117.8,396.5 L122.2,396.5 L120,400 Z" fill="#000"/>
<line x1="83.8" y1="185.8" x2="562.2" y2="185.8" stroke="#ee1c25" stroke-width="2.0"/>
<line x1="83.8" y1="184.8" x2="83.8" y2="396.4" stroke="#ee1c25" stroke-width="2.0"/>
<line x1="83.8" y1="395.5" x2="265.3" y2="395.5" stroke="#ee1c25" stroke-width="2.0"/>
<line x1="120" y1="317.4" x2="265.3" y2="317.4" stroke="#ee1c25" stroke-width="2.0"/>
<line x1="119.6" y1="316.4" x2="119.6" y2="395.5" stroke="#ee1c25" stroke-width="2.0"/>
<line x1="265.3" y1="316.4" x2="265.3" y2="396.4" stroke="#ee1c25" stroke-width="2.0"/>
<line x1="562.2" y1="184.8" x2="562.2" y2="220.7" stroke="#ee1c25" stroke-width="2.0"/>
<line x1="487" y1="219.7" x2="563.2" y2="219.7" stroke="#ee1c25" stroke-width="2.0"/>
<line x1="487" y1="201.3" x2="487" y2="220.7" stroke="#ee1c25" stroke-width="2.0"/>
<line x1="486" y1="202.3" x2="526.6" y2="202.3" stroke="#ee1c25" stroke-width="2.0"/>
<line x1="526.6" y1="201.3" x2="526.6" y2="210.8" stroke="#ee1c25" stroke-width="2.0"/>
<line x1="511.6" y1="209.8" x2="527.6" y2="209.8" stroke="#ee1c25" stroke-width="2.0"/>
<line x1="119.6" y1="387.25" x2="119.6" y2="721" stroke="#ee1c25" stroke-width="2" stroke-dasharray="4.6 3.35"/>
<text x="109.8" y="377.8" font-size="14.2" font-weight="bold" fill="#ff0000">1</text>
<text x="260.6" y="308.3" font-size="14.2" font-weight="bold" fill="#ff0000">2</text>
<text x="73" y="388" font-size="14.2" font-weight="bold" fill="#ff0000">3</text>
<text x="552" y="179.2" font-size="14.5" font-weight="bold" fill="#ff0000">4</text>
<text x="472.4" y="221.6" font-size="14" font-weight="bold" fill="#ff0000">5</text>
<text x="501.6" y="237.4" font-size="14.5" font-weight="bold" fill="#ff0000">6a</text>
<text x="520.6" y="237.4" font-size="14.5" font-weight="bold" fill="#ff0000">6b</text>
<circle cx="384.7" cy="488.2" r="0.9" fill="#000"/>
<circle cx="482" cy="488.2" r="0.9" fill="#000"/>
<circle cx="530.5" cy="488.2" r="0.9" fill="#000"/>
<circle cx="579.6" cy="488.2" r="0.9" fill="#000"/>
<circle cx="676.8" cy="488.2" r="0.9" fill="#000"/>
<ellipse cx="544.2" cy="500.8" rx="1.1" ry="1.3" fill="#000"/>
<line x1="628.2" y1="480.5" x2="628.2" y2="498.2" stroke="#000" stroke-width="1.3"/>
<path d="M624.4,488.2 L628.2,484.8 L631,488.2 L628.2,490.8 Z" fill="none" stroke="#000" stroke-width="1.3"/>
<ellipse cx="638.4" cy="485.8" rx="1.55" ry="3.25" fill="none" stroke="#000" stroke-width="1.5" transform="rotate(-35 638.4 485.8)"/>
<ellipse cx="556.29" cy="536.2" rx="0.75" ry="0.82" fill="none" stroke="#000" stroke-width="1.35"/>
<ellipse cx="559.46" cy="536.2" rx="0.75" ry="0.82" fill="none" stroke="#000" stroke-width="1.35"/>
<ellipse cx="562.64" cy="536.2" rx="0.75" ry="0.82" fill="none" stroke="#000" stroke-width="1.35"/>
<ellipse cx="565.81" cy="536.2" rx="0.75" ry="0.82" fill="none" stroke="#000" stroke-width="1.35"/>
<ellipse cx="491.6" cy="558.7" rx="1.89" ry="1.6" fill="#000"/>
<ellipse cx="495.8" cy="558.7" rx="1.89" ry="1.6" fill="#000"/>
<ellipse cx="508.68" cy="558.7" rx="1.46" ry="1.02" fill="none" stroke="#000" stroke-width="1.35"/>
<ellipse cx="513.42" cy="558.7" rx="1.46" ry="1.02" fill="none" stroke="#000" stroke-width="1.35"/>
<ellipse cx="523.25" cy="557.8" rx="1.35" ry="1.12" fill="none" stroke="#000" stroke-width="1.35"/>
<ellipse cx="527.75" cy="557.8" rx="1.35" ry="1.12" fill="none" stroke="#000" stroke-width="1.35"/>
<ellipse cx="531.51" cy="559.2" rx="1.36" ry="1.4" fill="#000"/>
<ellipse cx="534.54" cy="559.2" rx="1.36" ry="1.4" fill="#000"/>
<ellipse cx="537.56" cy="559.2" rx="1.36" ry="1.4" fill="#000"/>
<ellipse cx="540.59" cy="559.2" rx="1.36" ry="1.4" fill="#000"/>
<circle cx="553.7" cy="558.7" r="0.6" fill="#000"/>
<circle cx="559.6" cy="558.7" r="0.6" fill="#000"/>
<circle cx="572.6" cy="558.7" r="0.6" fill="#000"/>
<circle cx="576.8" cy="559.5" r="0.6" fill="#000"/>
<ellipse cx="343.61" cy="572.3" rx="2.59" ry="1.02" fill="none" stroke="#000" stroke-width="1.35"/>
<ellipse cx="349.84" cy="572.3" rx="2.59" ry="1.02" fill="none" stroke="#000" stroke-width="1.35"/>
<ellipse cx="356.06" cy="572.3" rx="2.59" ry="1.02" fill="none" stroke="#000" stroke-width="1.35"/>
<ellipse cx="362.29" cy="572.3" rx="2.59" ry="1.02" fill="none" stroke="#000" stroke-width="1.35"/>
<ellipse cx="391.73" cy="572.3" rx="2.72" ry="1.02" fill="none" stroke="#000" stroke-width="1.35"/>
<ellipse cx="398.2" cy="572.3" rx="2.72" ry="1.02" fill="none" stroke="#000" stroke-width="1.35"/>
<ellipse cx="404.67" cy="572.3" rx="2.72" ry="1.02" fill="none" stroke="#000" stroke-width="1.35"/>
<ellipse cx="412.4" cy="568.7" rx="4.7" ry="1.4" fill="none" stroke="#000" stroke-width="1.4"/>
<ellipse cx="423.62" cy="568.7" rx="2.36" ry="1.5" fill="#000"/>
<ellipse cx="428.88" cy="568.7" rx="2.36" ry="1.5" fill="#000"/>
<ellipse cx="426.3" cy="594" rx="5.2" ry="1.5" fill="#000"/>
<ellipse cx="455" cy="599.2" rx="25.05" ry="1.85" fill="none" stroke="#000" stroke-width="1.5" transform="rotate(-2.4 455 599.2)"/>
<ellipse cx="443.9" cy="605.5" rx="4.8" ry="1.2" fill="none" stroke="#000" stroke-width="1.4"/>
<ellipse cx="460.8" cy="606" rx="5" ry="1.5" fill="#000"/>
<ellipse cx="486.5" cy="617.5" rx="4.3" ry="1.3" fill="none" stroke="#000" stroke-width="1.4"/>
<ellipse cx="494.33" cy="616.5" rx="2.1" ry="1.4" fill="#000"/>
<ellipse cx="499" cy="616.5" rx="2.1" ry="1.4" fill="#000"/>
<ellipse cx="503.67" cy="616.5" rx="2.1" ry="1.4" fill="#000"/>
<ellipse cx="485.5" cy="613.75" rx="0.6" ry="1" fill="#000"/>
<ellipse cx="488.5" cy="613.75" rx="0.6" ry="1" fill="#000"/>
<ellipse cx="491.5" cy="613.75" rx="0.6" ry="1" fill="#000"/>
<ellipse cx="537.12" cy="620" rx="2.09" ry="1.4" fill="#000"/>
<ellipse cx="541.77" cy="620" rx="2.09" ry="1.4" fill="#000"/>
<circle cx="554.2" cy="611.6" r="0.6" fill="#000"/>
<ellipse cx="558.2" cy="601.5" rx="1.03" ry="1.02" fill="none" stroke="#000" stroke-width="1.35"/>
<ellipse cx="562" cy="601.5" rx="1.03" ry="1.02" fill="none" stroke="#000" stroke-width="1.35"/>
<ellipse cx="565.8" cy="601.5" rx="1.03" ry="1.02" fill="none" stroke="#000" stroke-width="1.35"/>
<ellipse cx="569.6" cy="601.5" rx="1.03" ry="1.02" fill="none" stroke="#000" stroke-width="1.35"/>
<ellipse cx="573.4" cy="601.5" rx="1.03" ry="1.02" fill="none" stroke="#000" stroke-width="1.35"/>
<circle cx="562.2" cy="595.8" r="0.5" fill="#000"/>
<ellipse cx="589.95" cy="602.7" rx="1.53" ry="1.32" fill="none" stroke="#000" stroke-width="1.35"/>
<ellipse cx="594.85" cy="602.7" rx="1.53" ry="1.32" fill="none" stroke="#000" stroke-width="1.35"/>
<ellipse cx="599.75" cy="602.7" rx="1.53" ry="1.32" fill="none" stroke="#000" stroke-width="1.35"/>
<ellipse cx="582.12" cy="614.7" rx="1.69" ry="1.22" fill="none" stroke="#000" stroke-width="1.35"/>
<ellipse cx="587.38" cy="614.7" rx="1.69" ry="1.22" fill="none" stroke="#000" stroke-width="1.35"/>
<ellipse cx="612.43" cy="613.3" rx="1.65" ry="1.5" fill="#000"/>
<ellipse cx="616.1" cy="613.3" rx="1.65" ry="1.5" fill="#000"/>
<ellipse cx="619.77" cy="613.3" rx="1.65" ry="1.5" fill="#000"/>
<ellipse cx="598.67" cy="623.2" rx="1.46" ry="1.12" fill="none" stroke="#000" stroke-width="1.35"/>
<ellipse cx="603.42" cy="623.2" rx="1.46" ry="1.12" fill="none" stroke="#000" stroke-width="1.35"/>
<ellipse cx="566.5" cy="631.6" rx="5.3" ry="1.6" fill="#000"/>
<ellipse cx="568" cy="634.9" rx="1" ry="0.9" fill="#000"/>
<ellipse cx="572" cy="634.9" rx="1" ry="0.9" fill="#000"/>
<ellipse cx="576" cy="634.9" rx="1" ry="0.9" fill="#000"/>
<ellipse cx="580" cy="634.9" rx="1" ry="0.9" fill="#000"/>
<ellipse cx="584" cy="634.9" rx="1" ry="0.9" fill="#000"/>
<ellipse cx="611.8" cy="647" rx="5.2" ry="1.5" fill="#000"/>
<ellipse cx="643.98" cy="628" rx="0.93" ry="0.72" fill="none" stroke="#000" stroke-width="1.35"/>
<ellipse cx="647.55" cy="628" rx="0.93" ry="0.72" fill="none" stroke="#000" stroke-width="1.35"/>
<ellipse cx="651.12" cy="628" rx="0.93" ry="0.72" fill="none" stroke="#000" stroke-width="1.35"/>
<ellipse cx="655.58" cy="637.8" rx="1.61" ry="1.3" fill="#000"/>
<ellipse cx="659.15" cy="637.8" rx="1.61" ry="1.3" fill="#000"/>
<ellipse cx="662.72" cy="637.8" rx="1.61" ry="1.3" fill="#000"/>
<ellipse cx="80.1" cy="625.4" rx="1.21" ry="0.72" fill="none" stroke="#000" stroke-width="1.35"/>
<ellipse cx="84.3" cy="625.4" rx="1.21" ry="0.72" fill="none" stroke="#000" stroke-width="1.35"/>
<ellipse cx="88.5" cy="625.4" rx="1.21" ry="0.72" fill="none" stroke="#000" stroke-width="1.35"/>
<ellipse cx="132.28" cy="642.2" rx="1.38" ry="0.72" fill="none" stroke="#000" stroke-width="1.35"/>
<ellipse cx="136.85" cy="642.2" rx="1.38" ry="0.72" fill="none" stroke="#000" stroke-width="1.35"/>
<ellipse cx="141.42" cy="642.2" rx="1.38" ry="0.72" fill="none" stroke="#000" stroke-width="1.35"/>
<ellipse cx="171" cy="642.2" rx="1.8" ry="1.4" fill="#000"/>
<ellipse cx="175" cy="642.2" rx="1.8" ry="1.4" fill="#000"/>
<ellipse cx="179" cy="642.2" rx="1.8" ry="1.4" fill="#000"/>
<ellipse cx="206.3" cy="654.2" rx="1.12" ry="0.72" fill="none" stroke="#000" stroke-width="1.35"/>
<ellipse cx="210.3" cy="654.2" rx="1.12" ry="0.72" fill="none" stroke="#000" stroke-width="1.35"/>
<ellipse cx="214.3" cy="654.2" rx="1.12" ry="0.72" fill="none" stroke="#000" stroke-width="1.35"/>
<ellipse cx="207" cy="605.75" rx="0.6" ry="1" fill="#000"/>
<ellipse cx="209" cy="605.75" rx="0.6" ry="1" fill="#000"/>
<ellipse cx="229.39" cy="617.4" rx="1.02" ry="0.82" fill="none" stroke="#000" stroke-width="1.35"/>
<ellipse cx="233.16" cy="617.4" rx="1.02" ry="0.82" fill="none" stroke="#000" stroke-width="1.35"/>
<ellipse cx="236.94" cy="617.4" rx="1.02" ry="0.82" fill="none" stroke="#000" stroke-width="1.35"/>
<ellipse cx="240.71" cy="617.4" rx="1.02" ry="0.82" fill="none" stroke="#000" stroke-width="1.35"/>
<ellipse cx="265.4" cy="621.6" rx="4.45" ry="1.55" fill="none" stroke="#000" stroke-width="1.1"/>
<ellipse cx="250.92" cy="628.5" rx="1.73" ry="1.3" fill="#000"/>
<ellipse cx="254.75" cy="628.5" rx="1.73" ry="1.3" fill="#000"/>
<ellipse cx="258.58" cy="628.5" rx="1.73" ry="1.3" fill="#000"/>
<circle cx="265.4" cy="628.5" r="0.6" fill="#000"/>
<ellipse cx="301.88" cy="633.2" rx="1.46" ry="0.72" fill="none" stroke="#000" stroke-width="1.35"/>
<ellipse cx="306.62" cy="633.2" rx="1.46" ry="0.72" fill="none" stroke="#000" stroke-width="1.35"/>
<ellipse cx="277.62" cy="640.5" rx="1.01" ry="0.9" fill="#000"/>
<ellipse cx="279.88" cy="640.5" rx="1.01" ry="0.9" fill="#000"/>
<ellipse cx="120" cy="723.1" rx="2.25" ry="1.15" fill="none" stroke="#000" stroke-width="1.3"/>
<ellipse cx="136.7" cy="723.5" rx="1.5" ry="0.8" fill="none" stroke="#000" stroke-width="1.4"/>
<ellipse cx="153" cy="737.8" rx="1.8" ry="1" fill="#000"/>
<path d="M165.3,738.6 L168.5,735.5 L171.6,738.6 L168.5,741.7 Z" fill="none" stroke="#000" stroke-width="2.3"/>
<ellipse cx="265.5" cy="751.3" rx="1.12" ry="1.02" fill="none" stroke="#000" stroke-width="1.35"/>
<ellipse cx="269.5" cy="751.3" rx="1.12" ry="1.02" fill="none" stroke="#000" stroke-width="1.35"/>
<ellipse cx="291.88" cy="751.3" rx="1.69" ry="1.3" fill="#000"/>
<ellipse cx="295.62" cy="751.3" rx="1.69" ry="1.3" fill="#000"/>
<ellipse cx="307.62" cy="762.3" rx="1.24" ry="1.02" fill="none" stroke="#000" stroke-width="1.35"/>
<ellipse cx="311.88" cy="762.3" rx="1.24" ry="1.02" fill="none" stroke="#000" stroke-width="1.35"/>
<ellipse cx="321.62" cy="763.8" rx="1.91" ry="1.4" fill="#000"/>
<ellipse cx="325.88" cy="763.8" rx="1.91" ry="1.4" fill="#000"/>
<ellipse cx="127" cy="724.9" rx="17.7" ry="13.2" fill="none" stroke="#ee1c25" stroke-width="1.5"/>
<ellipse cx="159.4" cy="741.3" rx="17.6" ry="13.1" fill="none" stroke="#2aaae2" stroke-width="1.5"/>
<ellipse cx="278.8" cy="755.1" rx="21.7" ry="13" fill="none" stroke="#6a9a34" stroke-width="1.5"/>
<ellipse cx="316.2" cy="766.5" rx="17.6" ry="13.2" fill="none" stroke="#7c4aa6" stroke-width="1.5"/>
<text x="122.6" y="735.6" font-size="15" font-weight="bold" fill="#ee1c25">A</text>
<text x="154.3" y="752.2" font-size="15" font-weight="bold" fill="#2aaae2">B</text>
<text x="272.2" y="765.9" font-size="15" font-weight="bold" fill="#6a9a34">C</text>
<text x="311.6" y="777.2" font-size="15" font-weight="bold" fill="#7c4aa6">D</text>
<line x1="58" y1="878.8" x2="95.6" y2="888.8" stroke="#000" stroke-width="1.0"/>
<line x1="95.6" y1="888.8" x2="129.9" y2="880.6" stroke="#000" stroke-width="1.0"/>
<line x1="136.6" y1="883.6" x2="153.4" y2="912" stroke="#000" stroke-width="1.0"/>
<polygon points="57.74,878.95 74.81,912.35 78.79,910.05 58.26,878.65" fill="#000"/>
<polygon points="77.3,913.24 117.5,903.34 116.5,899.26 76.3,909.16" fill="#000"/>
<polygon points="116.35,903.51 153.29,912.38 153.51,911.62 117.65,899.09" fill="#000"/>
<line x1="76.8" y1="911.2" x2="74.8" y2="911.2" stroke="#000" stroke-width="1.0"/>
<text x="134.1" y="883.8" font-size="12.5" font-weight="normal" fill="#000" text-anchor="middle">O</text>
<line x1="95.6" y1="888.8" x2="73.4" y2="872.6" stroke="#000" stroke-width="1.0"/>
<line x1="73.4" y1="872.6" x2="73.4" y2="855.6" stroke="#000" stroke-width="1.0"/>
<text x="78" y="852.8" font-size="12.5" font-weight="normal" fill="#000" text-anchor="middle">OH</text>
<line x1="58" y1="878.8" x2="40.5" y2="888" stroke="#000" stroke-width="1.0"/>
<text x="30.1" y="898.5" font-size="12.5" font-weight="normal" fill="#000" text-anchor="middle">HO</text>
<line x1="76.8" y1="911.2" x2="56" y2="909.2" stroke="#000" stroke-width="1.0"/>
<text x="51.1" y="911.8" font-size="12.5" font-weight="normal" fill="#000" text-anchor="middle">O</text>
<line x1="47.8" y1="912.6" x2="40.6" y2="924.8" stroke="#000" stroke-width="1.0"/>
<text x="37.8" y="935.8" font-size="9" font-weight="bold" fill="#000" text-anchor="middle">R</text>
<line x1="117" y1="901.3" x2="131.5" y2="916.5" stroke="#000" stroke-width="1.0"/>
<text x="135.6" y="926.9" font-size="12.5" font-weight="normal" fill="#000" text-anchor="middle">O</text>
<line x1="135.6" y1="928.5" x2="135.6" y2="939.2" stroke="#000" stroke-width="1.0"/>
<text x="135.6" y="952.2" font-size="9" font-weight="bold" fill="#000" text-anchor="middle">R</text>
<line x1="153.4" y1="912" x2="153.4" y2="934.6" stroke="#000" stroke-width="1.0"/>
<text x="157.9" y="945.4" font-size="12.5" font-weight="normal" fill="#000" text-anchor="middle">OH</text>
<text x="73.3" y="950.0" font-size="14.5" font-weight="bold" fill="#ee1c25">A</text>
<line x1="246.3" y1="878.8" x2="283.9" y2="888.8" stroke="#000" stroke-width="1.0"/>
<line x1="283.9" y1="888.8" x2="318.2" y2="880.6" stroke="#000" stroke-width="1.0"/>
<line x1="324.9" y1="883.6" x2="341.7" y2="912" stroke="#000" stroke-width="1.0"/>
<polygon points="246.04,878.95 263.11,912.35 267.09,910.05 246.56,878.65" fill="#000"/>
<polygon points="265.6,913.24 305.8,903.34 304.8,899.26 264.6,909.16" fill="#000"/>
<polygon points="304.65,903.51 341.59,912.38 341.81,911.62 305.95,899.09" fill="#000"/>
<line x1="265.1" y1="911.2" x2="263.1" y2="911.2" stroke="#000" stroke-width="1.0"/>
<text x="322.4" y="883.8" font-size="12.5" font-weight="normal" fill="#000" text-anchor="middle">O</text>
<line x1="283.9" y1="888.8" x2="261.7" y2="872.6" stroke="#000" stroke-width="1.0"/>
<line x1="261.7" y1="872.6" x2="261.7" y2="855.6" stroke="#000" stroke-width="1.0"/>
<text x="261.5" y="852.8" font-size="12.5" font-weight="normal" fill="#000" text-anchor="middle">O</text>
<line x1="266.5" y1="848.7" x2="282.8" y2="848.7" stroke="#000" stroke-width="1.0"/>
<text x="287.9" y="852.2" font-size="9" font-weight="bold" fill="#000" text-anchor="middle">R</text>
<line x1="246.3" y1="878.8" x2="228.8" y2="888" stroke="#000" stroke-width="1.0"/>
<text x="218.4" y="898.5" font-size="12.5" font-weight="normal" fill="#000" text-anchor="middle">HO</text>
<line x1="265.1" y1="911.2" x2="244.3" y2="909.2" stroke="#000" stroke-width="1.0"/>
<text x="239.4" y="911.8" font-size="12.5" font-weight="normal" fill="#000" text-anchor="middle">O</text>
<line x1="236.1" y1="912.6" x2="228.9" y2="924.8" stroke="#000" stroke-width="1.0"/>
<text x="226.1" y="935.8" font-size="9" font-weight="bold" fill="#000" text-anchor="middle">R</text>
<line x1="305.3" y1="901.3" x2="317.1" y2="916" stroke="#000" stroke-width="1.0"/>
<text x="327.5" y="926.4" font-size="12.5" font-weight="normal" fill="#000" text-anchor="middle">OH</text>
<line x1="341.7" y1="912" x2="341.7" y2="934.6" stroke="#000" stroke-width="1.0"/>
<text x="346.2" y="945.4" font-size="12.5" font-weight="normal" fill="#000" text-anchor="middle">OH</text>
<text x="261.6" y="950.0" font-size="14.5" font-weight="bold" fill="#2aaae2">B</text>
<line x1="433.9" y1="878.8" x2="471.5" y2="888.8" stroke="#000" stroke-width="1.0"/>
<line x1="471.5" y1="888.8" x2="505.8" y2="880.6" stroke="#000" stroke-width="1.0"/>
<line x1="512.5" y1="883.6" x2="529.3" y2="912" stroke="#000" stroke-width="1.0"/>
<polygon points="433.64,878.95 450.71,912.35 454.69,910.05 434.16,878.65" fill="#000"/>
<polygon points="453.2,913.24 493.4,903.34 492.4,899.26 452.2,909.16" fill="#000"/>
<polygon points="492.25,903.51 529.19,912.38 529.41,911.62 493.55,899.09" fill="#000"/>
<line x1="452.7" y1="911.2" x2="450.7" y2="911.2" stroke="#000" stroke-width="1.0"/>
<text x="510" y="883.8" font-size="12.5" font-weight="normal" fill="#000" text-anchor="middle">O</text>
<line x1="471.5" y1="888.8" x2="449.3" y2="872.6" stroke="#000" stroke-width="1.0"/>
<line x1="449.3" y1="872.6" x2="449.3" y2="855.6" stroke="#000" stroke-width="1.0"/>
<text x="453.9" y="852.8" font-size="12.5" font-weight="normal" fill="#000" text-anchor="middle">OH</text>
<line x1="433.9" y1="878.8" x2="416.4" y2="888" stroke="#000" stroke-width="1.0"/>
<text x="406" y="898.5" font-size="12.5" font-weight="normal" fill="#000" text-anchor="middle">HO</text>
<line x1="452.7" y1="911.2" x2="431.9" y2="909.2" stroke="#000" stroke-width="1.0"/>
<text x="427" y="911.8" font-size="12.5" font-weight="normal" fill="#000" text-anchor="middle">O</text>
<line x1="423.7" y1="912.6" x2="416.5" y2="924.8" stroke="#000" stroke-width="1.0"/>
<text x="413.7" y="935.8" font-size="9" font-weight="bold" fill="#000" text-anchor="middle">R</text>
<line x1="492.9" y1="901.3" x2="504.7" y2="916" stroke="#000" stroke-width="1.0"/>
<text x="515.1" y="926.4" font-size="12.5" font-weight="normal" fill="#000" text-anchor="middle">OH</text>
<line x1="529.3" y1="912" x2="529.3" y2="934.6" stroke="#000" stroke-width="1.0"/>
<text x="533.8" y="945.4" font-size="12.5" font-weight="normal" fill="#000" text-anchor="middle">OH</text>
<text x="449.2" y="950.0" font-size="14.5" font-weight="bold" fill="#6a9a34">C</text>
<line x1="622.5" y1="878.8" x2="660.1" y2="888.8" stroke="#000" stroke-width="1.0"/>
<line x1="660.1" y1="888.8" x2="694.4" y2="880.6" stroke="#000" stroke-width="1.0"/>
<line x1="701.1" y1="883.6" x2="717.9" y2="912" stroke="#000" stroke-width="1.0"/>
<polygon points="622.24,878.95 639.31,912.35 643.29,910.05 622.76,878.65" fill="#000"/>
<polygon points="641.8,913.24 682,903.34 681,899.26 640.8,909.16" fill="#000"/>
<polygon points="680.85,903.51 717.79,912.38 718.01,911.62 682.15,899.09" fill="#000"/>
<line x1="641.3" y1="911.2" x2="639.3" y2="911.2" stroke="#000" stroke-width="1.0"/>
<text x="698.6" y="883.8" font-size="12.5" font-weight="normal" fill="#000" text-anchor="middle">O</text>
<line x1="660.1" y1="888.8" x2="637.9" y2="872.6" stroke="#000" stroke-width="1.0"/>
<line x1="637.9" y1="872.6" x2="637.9" y2="855.6" stroke="#000" stroke-width="1.0"/>
<text x="637.7" y="852.8" font-size="12.5" font-weight="normal" fill="#000" text-anchor="middle">O</text>
<line x1="642.7" y1="848.7" x2="659" y2="848.7" stroke="#000" stroke-width="1.0"/>
<text x="664.1" y="852.2" font-size="9" font-weight="bold" fill="#000" text-anchor="middle">R</text>
<line x1="622.5" y1="878.8" x2="605" y2="888" stroke="#000" stroke-width="1.0"/>
<text x="594.6" y="898.5" font-size="12.5" font-weight="normal" fill="#000" text-anchor="middle">HO</text>
<line x1="641.3" y1="911.2" x2="620.5" y2="909.2" stroke="#000" stroke-width="1.0"/>
<text x="615.6" y="911.8" font-size="12.5" font-weight="normal" fill="#000" text-anchor="middle">O</text>
<line x1="612.3" y1="912.6" x2="605.1" y2="924.8" stroke="#000" stroke-width="1.0"/>
<text x="602.3" y="935.8" font-size="9" font-weight="bold" fill="#000" text-anchor="middle">R</text>
<line x1="681.5" y1="901.3" x2="693.3" y2="916" stroke="#000" stroke-width="1.0"/>
<text x="703.7" y="926.4" font-size="12.5" font-weight="normal" fill="#000" text-anchor="middle">OH</text>
<line x1="717.9" y1="912" x2="717.9" y2="934.6" stroke="#000" stroke-width="1.0"/>
<text x="722.4" y="945.4" font-size="12.5" font-weight="normal" fill="#000" text-anchor="middle">OH</text>
<text x="637.8" y="950.0" font-size="14.5" font-weight="bold" fill="#7c4aa6">D</text>
</svg>
</body></html>
